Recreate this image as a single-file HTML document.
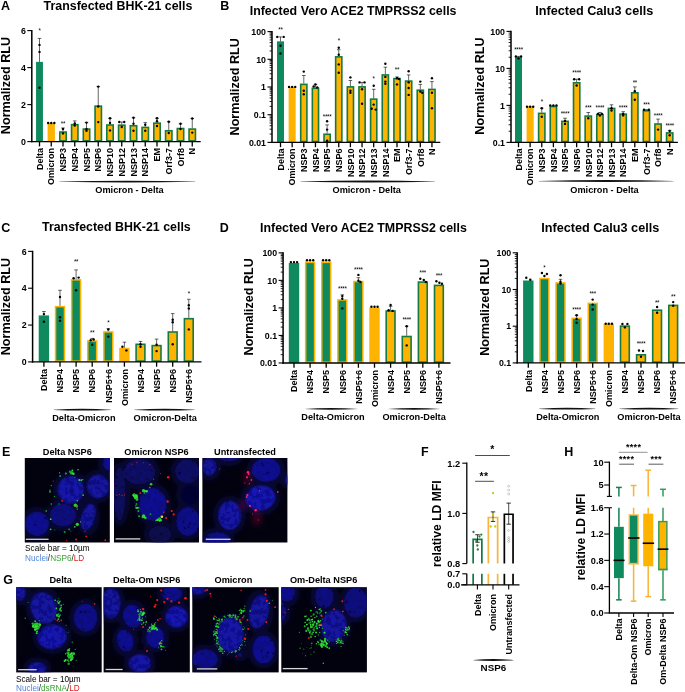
<!DOCTYPE html>
<html><head><meta charset="utf-8"><style>
html,body{margin:0;padding:0;background:#fff;width:685px;height:692px;overflow:hidden}
svg{display:block;font-family:"Liberation Sans",sans-serif;will-change:transform}
</style></head><body>
<svg width="685" height="692" viewBox="0 0 685 692" font-family="Liberation Sans, sans-serif">
<rect width="685" height="692" fill="#fff"/>
<defs><filter id="bl1" x="-20%" y="-20%" width="140%" height="140%"><feGaussianBlur stdDeviation="0.9"/></filter><filter id="nuc" x="-10%" y="-10%" width="120%" height="120%"><feGaussianBlur in="SourceGraphic" stdDeviation="0.9" result="b"/><feTurbulence type="fractalNoise" baseFrequency="0.22" numOctaves="2" seed="4" result="t"/><feColorMatrix in="t" type="matrix" values="1.1 0 0 0 0.22  1.1 0 0 0 0.22  1.1 0 0 0 0.22  0 0 0 0 1" result="m"/><feComposite in="b" in2="m" operator="arithmetic" k1="1" k2="0" k3="0" k4="0"/></filter><filter id="bl05" x="-50%" y="-50%" width="200%" height="200%"><feGaussianBlur stdDeviation="0.45"/></filter><filter id="bl3" x="-50%" y="-50%" width="200%" height="200%"><feGaussianBlur stdDeviation="2.5"/></filter></defs>
<text x="2" y="455.6" font-size="12.5" font-weight="bold" text-anchor="start" fill="#000">E</text>
<clipPath id="c1"><rect x="24.8" y="458" width="85" height="84.5"/></clipPath>
<rect x="24.8" y="458" width="85" height="84.5" fill="#02020e"/>
<g clip-path="url(#c1)"><g transform="translate(24.8,458)">
<g filter="url(#bl3)" opacity="0.55">
<ellipse cx="45.9" cy="31.7" rx="18" ry="18.7" fill="#0a0a50"/>
<ellipse cx="73.2" cy="28.5" rx="16.1" ry="16.7" fill="#0a0a50"/>
<ellipse cx="84" cy="5" rx="11" ry="12" fill="#0a0a50"/>
<ellipse cx="38.2" cy="57.1" rx="18" ry="16.1" fill="#0a0a50"/>
<ellipse cx="63.3" cy="59" rx="11.9" ry="18.6" fill="#0a0a50"/>
<ellipse cx="12.2" cy="65.7" rx="16.8" ry="17" fill="#0a0a50"/>
</g>
<g filter="url(#nuc)">
<ellipse cx="45.9" cy="31.7" rx="13" ry="13.7" fill="rgb(19,19,175)" transform="rotate(0 45.9 31.7)"/>
<ellipse cx="73.2" cy="28.5" rx="11.1" ry="11.7" fill="rgb(18,18,166)" transform="rotate(0 73.2 28.5)"/>
<ellipse cx="84" cy="5" rx="6" ry="7" fill="rgb(17,17,157)" transform="rotate(0 84 5)"/>
<ellipse cx="38.2" cy="57.1" rx="13" ry="11.1" fill="rgb(15,15,138)" transform="rotate(0 38.2 57.1)"/>
<ellipse cx="63.3" cy="59" rx="6.9" ry="13.6" fill="rgb(18,18,166)" transform="rotate(15 63.3 59)"/>
<ellipse cx="12.2" cy="65.7" rx="11.8" ry="12" fill="rgb(17,17,157)" transform="rotate(0 12.2 65.7)"/>
</g>
<g filter="url(#bl05)">
<circle cx="46.8" cy="14.9" r="1.7" fill="#22c42a" fill-opacity="0.92"/>
<circle cx="45.3" cy="13.8" r="1.2" fill="#1aa824" fill-opacity="0.92"/>
<circle cx="48.6" cy="15.8" r="1.3" fill="#2ee830" fill-opacity="0.92"/>
<circle cx="47.5" cy="12.5" r="0.9" fill="#3fe840" fill-opacity="0.92"/>
<circle cx="53.2" cy="11.7" r="0.8" fill="#35d835" fill-opacity="0.92"/>
<circle cx="41.1" cy="15.5" r="1" fill="#22c42a" fill-opacity="0.92"/>
<circle cx="35.4" cy="18" r="1" fill="#1aa824" fill-opacity="0.92"/>
<circle cx="34.8" cy="14.9" r="0.6" fill="#2ee830" fill-opacity="0.92"/>
<circle cx="54.5" cy="21.9" r="1" fill="#3fe840" fill-opacity="0.92"/>
<circle cx="56.5" cy="22.2" r="1" fill="#35d835" fill-opacity="0.92"/>
<circle cx="58" cy="21.6" r="0.7" fill="#22c42a" fill-opacity="0.92"/>
<circle cx="50" cy="19.3" r="0.6" fill="#1aa824" fill-opacity="0.92"/>
<circle cx="58.3" cy="37.1" r="0.9" fill="#2ee830" fill-opacity="0.92"/>
<circle cx="52.5" cy="42.8" r="0.7" fill="#3fe840" fill-opacity="0.92"/>
<circle cx="50.6" cy="47.3" r="1.8" fill="#35d835" fill-opacity="0.92"/>
<circle cx="52" cy="48.3" r="1.2" fill="#22c42a" fill-opacity="0.92"/>
<circle cx="52.5" cy="51.1" r="0.8" fill="#1aa824" fill-opacity="0.92"/>
<circle cx="52.5" cy="66.3" r="1.6" fill="#2ee830" fill-opacity="0.92"/>
<circle cx="55.7" cy="63.8" r="0.6" fill="#3fe840" fill-opacity="0.92"/>
<circle cx="50" cy="68.8" r="0.9" fill="#35d835" fill-opacity="0.92"/>
<circle cx="44.3" cy="71.4" r="0.8" fill="#22c42a" fill-opacity="0.92"/>
<circle cx="39.8" cy="74" r="1" fill="#1aa824" fill-opacity="0.92"/>
<circle cx="25.9" cy="71.4" r="0.8" fill="#2ee830" fill-opacity="0.92"/>
<circle cx="25.9" cy="61.2" r="0.9" fill="#3fe840" fill-opacity="0.92"/>
<circle cx="21.4" cy="53" r="0.8" fill="#35d835" fill-opacity="0.92"/>
<circle cx="26.5" cy="46" r="0.8" fill="#22c42a" fill-opacity="0.92"/>
<circle cx="34.1" cy="46" r="0.7" fill="#1aa824" fill-opacity="0.92"/>
<circle cx="25.2" cy="33.9" r="0.8" fill="#2ee830" fill-opacity="0.92"/>
<circle cx="25.2" cy="32.2" r="0.6" fill="#3fe840" fill-opacity="0.92"/>
<circle cx="29.7" cy="38.4" r="0.5" fill="#35d835" fill-opacity="0.92"/>
<circle cx="46" cy="73" r="0.5" fill="#22c42a" fill-opacity="0.92"/>
<circle cx="30" cy="72" r="0.5" fill="#1aa824" fill-opacity="0.92"/>
<circle cx="37.3" cy="42.8" r="0.9" fill="#f01818"/>
<circle cx="26.5" cy="27.6" r="0.8" fill="#f01818"/>
<circle cx="28.4" cy="23.1" r="0.6" fill="#f01818"/>
<circle cx="51.3" cy="81.5" r="1" fill="#f01818"/>
<circle cx="61.4" cy="78.4" r="0.9" fill="#f01818"/>
<circle cx="80.5" cy="82.2" r="0.9" fill="#f01818"/>
<circle cx="51.9" cy="49.2" r="0.7" fill="#f01818"/>
<circle cx="60.2" cy="73.3" r="0.6" fill="#f01818"/>
<circle cx="41.7" cy="82.2" r="0.5" fill="#f01818"/>
</g>
</g></g>
<line x1="25.8" y1="539.3" x2="48.6" y2="539.3" stroke="#d8d8d8" stroke-width="1.3"/>
<clipPath id="c2"><rect x="114" y="458" width="85" height="84.5"/></clipPath>
<rect x="114" y="458" width="85" height="84.5" fill="#02020e"/>
<g clip-path="url(#c2)"><g transform="translate(114,458)">
<g filter="url(#bl3)" opacity="0.55">
<ellipse cx="25.4" cy="13.9" rx="20.6" ry="17.4" fill="#0a0a50"/>
<ellipse cx="5.6" cy="35.9" rx="10.8" ry="31.7" fill="#0a0a50"/>
<ellipse cx="38.7" cy="46.3" rx="18.6" ry="21.2" fill="#0a0a50"/>
<ellipse cx="73.3" cy="13.3" rx="17" ry="16.8" fill="#0a0a50"/>
<ellipse cx="74" cy="63.5" rx="16.5" ry="19.2" fill="#0a0a50"/>
<ellipse cx="46" cy="76.3" rx="16.4" ry="13.7" fill="#0a0a50"/>
<ellipse cx="76" cy="37" rx="14" ry="15" fill="#0a0a50"/>
</g>
<g filter="url(#nuc)">
<ellipse cx="25.4" cy="13.9" rx="15.6" ry="12.4" fill="rgb(12,12,111)" transform="rotate(0 25.4 13.9)"/>
<ellipse cx="5.6" cy="35.9" rx="5.8" ry="26.7" fill="rgb(11,11,101)" transform="rotate(0 5.6 35.9)"/>
<ellipse cx="38.7" cy="46.3" rx="13.6" ry="16.2" fill="rgb(17,17,157)" transform="rotate(0 38.7 46.3)"/>
<ellipse cx="73.3" cy="13.3" rx="12" ry="11.8" fill="rgb(12,12,111)" transform="rotate(0 73.3 13.3)"/>
<ellipse cx="74" cy="63.5" rx="11.5" ry="14.2" fill="rgb(16,16,148)" transform="rotate(0 74 63.5)"/>
<ellipse cx="46" cy="76.3" rx="11.4" ry="8.7" fill="rgb(9,9,83)" transform="rotate(0 46 76.3)"/>
<ellipse cx="76" cy="37" rx="9" ry="10" fill="rgb(6,6,55)" transform="rotate(0 76 37)"/>
</g>
<g filter="url(#bl05)">
<circle cx="21.9" cy="39" r="2.2" fill="#3fe840" fill-opacity="0.92"/>
<circle cx="20.5" cy="37" r="1.5" fill="#35d835" fill-opacity="0.92"/>
<circle cx="23" cy="41.5" r="1.4" fill="#22c42a" fill-opacity="0.92"/>
<circle cx="20" cy="36.5" r="1.2" fill="#1aa824" fill-opacity="0.92"/>
<circle cx="29.5" cy="32.7" r="1.6" fill="#2ee830" fill-opacity="0.92"/>
<circle cx="32.7" cy="33.3" r="1.2" fill="#3fe840" fill-opacity="0.92"/>
<circle cx="37.1" cy="26.3" r="1.3" fill="#35d835" fill-opacity="0.92"/>
<circle cx="35.8" cy="29.5" r="0.8" fill="#22c42a" fill-opacity="0.92"/>
<circle cx="22.5" cy="46" r="0.9" fill="#1aa824" fill-opacity="0.92"/>
<circle cx="23.8" cy="49.8" r="1.1" fill="#2ee830" fill-opacity="0.92"/>
<circle cx="24.4" cy="53" r="0.8" fill="#3fe840" fill-opacity="0.92"/>
<circle cx="29.5" cy="58" r="1.8" fill="#35d835" fill-opacity="0.92"/>
<circle cx="31.4" cy="60" r="1.3" fill="#22c42a" fill-opacity="0.92"/>
<circle cx="36.5" cy="56.1" r="0.9" fill="#1aa824" fill-opacity="0.92"/>
<circle cx="45.4" cy="61.2" r="1.7" fill="#2ee830" fill-opacity="0.92"/>
<circle cx="43.5" cy="61.9" r="1.2" fill="#3fe840" fill-opacity="0.92"/>
<circle cx="42" cy="62.5" r="0.8" fill="#35d835" fill-opacity="0.92"/>
<circle cx="20.7" cy="40.08" r="0.7" fill="#22c42a" fill-opacity="0.92"/>
<circle cx="23.19" cy="37.51" r="1.01" fill="#1aa824" fill-opacity="0.92"/>
<circle cx="20.11" cy="38.29" r="1.04" fill="#2ee830" fill-opacity="0.92"/>
<circle cx="19.18" cy="37.23" r="1" fill="#3fe840" fill-opacity="0.92"/>
<circle cx="22.36" cy="37" r="0.69" fill="#35d835" fill-opacity="0.92"/>
<circle cx="22.92" cy="41.85" r="0.7" fill="#22c42a" fill-opacity="0.92"/>
<circle cx="20.32" cy="36.47" r="0.64" fill="#1aa824" fill-opacity="0.92"/>
<circle cx="21.58" cy="38.44" r="1.12" fill="#2ee830" fill-opacity="0.92"/>
<circle cx="22.07" cy="37.71" r="1.04" fill="#3fe840" fill-opacity="0.92"/>
<circle cx="21.41" cy="37.87" r="1" fill="#35d835" fill-opacity="0.92"/>
<circle cx="29.74" cy="32.79" r="0.64" fill="#22c42a" fill-opacity="0.92"/>
<circle cx="30.49" cy="34.93" r="0.84" fill="#1aa824" fill-opacity="0.92"/>
<circle cx="30.6" cy="32.68" r="0.71" fill="#2ee830" fill-opacity="0.92"/>
<circle cx="31.24" cy="33.16" r="0.75" fill="#3fe840" fill-opacity="0.92"/>
<circle cx="31.18" cy="33.13" r="0.82" fill="#35d835" fill-opacity="0.92"/>
<circle cx="28.78" cy="32.76" r="0.79" fill="#22c42a" fill-opacity="0.92"/>
<circle cx="25" cy="49.93" r="0.56" fill="#1aa824" fill-opacity="0.92"/>
<circle cx="22.05" cy="49.87" r="0.82" fill="#2ee830" fill-opacity="0.92"/>
<circle cx="22.38" cy="49.85" r="0.51" fill="#3fe840" fill-opacity="0.92"/>
<circle cx="22.62" cy="49.99" r="0.84" fill="#35d835" fill-opacity="0.92"/>
<circle cx="21.89" cy="47.78" r="0.67" fill="#22c42a" fill-opacity="0.92"/>
<circle cx="24.37" cy="53.36" r="0.83" fill="#1aa824" fill-opacity="0.92"/>
<circle cx="28.61" cy="59.32" r="1.03" fill="#2ee830" fill-opacity="0.92"/>
<circle cx="31.07" cy="59.27" r="0.61" fill="#3fe840" fill-opacity="0.92"/>
<circle cx="30.68" cy="58.61" r="0.68" fill="#35d835" fill-opacity="0.92"/>
<circle cx="25.09" cy="58.19" r="0.95" fill="#22c42a" fill-opacity="0.92"/>
<circle cx="29.18" cy="59.35" r="0.95" fill="#1aa824" fill-opacity="0.92"/>
<circle cx="30.18" cy="58.92" r="1.02" fill="#2ee830" fill-opacity="0.92"/>
<circle cx="44.71" cy="62.15" r="0.64" fill="#3fe840" fill-opacity="0.92"/>
<circle cx="44.63" cy="61.33" r="0.61" fill="#35d835" fill-opacity="0.92"/>
<circle cx="44.81" cy="61.49" r="0.76" fill="#22c42a" fill-opacity="0.92"/>
<circle cx="44.98" cy="60.73" r="0.91" fill="#1aa824" fill-opacity="0.92"/>
<circle cx="47.12" cy="62.34" r="0.97" fill="#2ee830" fill-opacity="0.92"/>
<circle cx="45.85" cy="62.88" r="0.96" fill="#3fe840" fill-opacity="0.92"/>
<circle cx="54.2" cy="19.3" r="1.3" fill="#f01818"/>
<circle cx="53.6" cy="43.5" r="1.2" fill="#f01818"/>
<circle cx="57.7" cy="53" r="1.1" fill="#f01818"/>
<circle cx="59.7" cy="56.4" r="1.1" fill="#f01818"/>
<circle cx="52.1" cy="60" r="1" fill="#f01818"/>
<circle cx="49.8" cy="54.2" r="0.8" fill="#f01818"/>
<circle cx="26.3" cy="35.2" r="0.9" fill="#f01818"/>
<circle cx="3" cy="37.1" r="0.6" fill="#f01818"/>
<circle cx="5.5" cy="36.5" r="0.6" fill="#f01818"/>
<circle cx="8" cy="37.4" r="0.6" fill="#f01818"/>
<circle cx="10.5" cy="36.8" r="0.6" fill="#f01818"/>
<circle cx="18" cy="6" r="0.6" fill="#f01818"/>
<circle cx="23" cy="4.7" r="0.6" fill="#f01818"/>
<circle cx="29.5" cy="4.7" r="0.5" fill="#f01818"/>
<circle cx="35.8" cy="6.6" r="0.6" fill="#f01818"/>
<circle cx="39.6" cy="21.2" r="0.6" fill="#f01818"/>
<circle cx="46.6" cy="15.5" r="0.5" fill="#f01818"/>
<circle cx="47.9" cy="58.7" r="1.3" fill="#e8e030"/>
</g>
</g></g>
<line x1="115.5" y1="538.9" x2="140.3" y2="538.9" stroke="#d8d8d8" stroke-width="1.3"/>
<clipPath id="c3"><rect x="202.4" y="458" width="85" height="84.5"/></clipPath>
<rect x="202.4" y="458" width="85" height="84.5" fill="#02020e"/>
<g clip-path="url(#c3)"><g transform="translate(202.4,458)">
<g filter="url(#bl3)" opacity="0.55">
<ellipse cx="7" cy="8.8" rx="11.9" ry="13.8" fill="#0a0a50"/>
<ellipse cx="26.5" cy="0" rx="14" ry="8" fill="#0a0a50"/>
<ellipse cx="63.7" cy="12" rx="19.3" ry="16.8" fill="#0a0a50"/>
<ellipse cx="58" cy="40" rx="20" ry="17.4" fill="#0a0a50"/>
<ellipse cx="27.2" cy="57.4" rx="16.5" ry="19.6" fill="#0a0a50"/>
<ellipse cx="14.8" cy="81.5" rx="17.4" ry="12" fill="#0a0a50"/>
<ellipse cx="85.5" cy="22" rx="7.5" ry="9" fill="#0a0a50"/>
</g>
<g filter="url(#nuc)">
<ellipse cx="7" cy="8.8" rx="6.9" ry="8.8" fill="rgb(18,18,166)" transform="rotate(0 7 8.8)"/>
<ellipse cx="26.5" cy="0" rx="9" ry="3" fill="rgb(16,16,148)" transform="rotate(0 26.5 0)"/>
<ellipse cx="63.7" cy="12" rx="14.3" ry="11.8" fill="rgb(17,17,157)" transform="rotate(0 63.7 12)"/>
<ellipse cx="58" cy="40" rx="15" ry="12.4" fill="rgb(20,20,185)" transform="rotate(-10 58 40)"/>
<ellipse cx="27.2" cy="57.4" rx="11.5" ry="14.6" fill="rgb(19,19,175)" transform="rotate(0 27.2 57.4)"/>
<ellipse cx="14.8" cy="81.5" rx="12.4" ry="7" fill="rgb(17,17,157)" transform="rotate(0 14.8 81.5)"/>
<ellipse cx="85.5" cy="22" rx="2.5" ry="4" fill="rgb(18,18,166)" transform="rotate(0 85.5 22)"/>
</g>
<g filter="url(#bl3)">
<ellipse cx="54.5" cy="60" rx="5" ry="8" fill="rgba(150,10,60,0.32)"/>
<ellipse cx="40.5" cy="47.3" rx="4" ry="5" fill="rgba(150,10,60,0.32)"/>
<ellipse cx="45" cy="20" rx="4" ry="8" fill="rgba(150,10,60,0.32)"/>
</g>
<g filter="url(#bl05)">
<circle cx="45.6" cy="14.2" r="1.3" fill="#f8206a"/>
<circle cx="46.2" cy="16.1" r="1" fill="#f8206a"/>
<circle cx="44.6" cy="19.3" r="1.1" fill="#f8206a"/>
<circle cx="49" cy="21.9" r="0.9" fill="#f8206a"/>
<circle cx="42.4" cy="25" r="0.6" fill="#f8206a"/>
<circle cx="46.9" cy="25.7" r="0.6" fill="#f8206a"/>
<circle cx="45" cy="37.1" r="1.1" fill="#f8206a"/>
<circle cx="44.3" cy="39" r="0.9" fill="#f8206a"/>
<circle cx="57" cy="32.7" r="0.7" fill="#f8206a"/>
<circle cx="47.5" cy="47.9" r="1.1" fill="#f8206a"/>
<circle cx="53.2" cy="52.3" r="1.3" fill="#f8206a"/>
<circle cx="75.4" cy="33.9" r="0.9" fill="#f8206a"/>
<circle cx="17" cy="11" r="0.5" fill="#f8206a"/>
<circle cx="50" cy="56" r="0.5" fill="#f8206a"/>
<circle cx="56" cy="62" r="0.5" fill="#f8206a"/>
</g>
</g></g>
<line x1="205.8" y1="539.3" x2="230.6" y2="539.3" stroke="#d8d8d8" stroke-width="1.3"/>
<text x="67.3" y="455.3" font-size="9.2" font-weight="bold" text-anchor="middle" fill="#000">Delta NSP6</text>
<text x="156.5" y="455.3" font-size="9.2" font-weight="bold" text-anchor="middle" fill="#000">Omicron NSP6</text>
<text x="245" y="455.3" font-size="9.2" font-weight="bold" text-anchor="middle" fill="#000">Untransfected</text>
<text x="25.1" y="551.4" font-size="8.2" font-weight="normal" text-anchor="start" fill="#000">Scale bar = 10µm</text>
<text x="25.1" y="560.6" font-size="8.2" font-weight="normal"><tspan fill="#4f86d9">Nuclei</tspan><tspan fill="#222">/</tspan><tspan fill="#3aa335">NSP6</tspan><tspan fill="#222">/</tspan><tspan fill="#e02020">LD</tspan></text>
<text x="3.2" y="584" font-size="12.5" font-weight="bold" text-anchor="start" fill="#000">G</text>
<clipPath id="c4"><rect x="16.2" y="587.2" width="85.5" height="85.2"/></clipPath>
<rect x="16.2" y="587.2" width="85.5" height="85.2" fill="#02020e"/>
<g clip-path="url(#c4)"><g transform="translate(16.2,587.2)">
<g filter="url(#bl3)" opacity="0.55">
<ellipse cx="3.8" cy="5.4" rx="10.5" ry="13" fill="#0a0a50"/>
<ellipse cx="27.6" cy="20.8" rx="18" ry="21" fill="#0a0a50"/>
<ellipse cx="69.4" cy="30.5" rx="16.5" ry="19" fill="#0a0a50"/>
<ellipse cx="36" cy="49.7" rx="19.5" ry="17" fill="#0a0a50"/>
<ellipse cx="21.2" cy="81" rx="14" ry="11" fill="#0a0a50"/>
</g>
<g filter="url(#nuc)">
<ellipse cx="3.8" cy="5.4" rx="5.5" ry="8" fill="rgb(18,18,166)" transform="rotate(0 3.8 5.4)"/>
<ellipse cx="27.6" cy="20.8" rx="13" ry="16" fill="rgb(18,18,166)" transform="rotate(-20 27.6 20.8)"/>
<ellipse cx="69.4" cy="30.5" rx="11.5" ry="14" fill="rgb(16,16,148)" transform="rotate(0 69.4 30.5)"/>
<ellipse cx="36" cy="49.7" rx="14.5" ry="12" fill="rgb(20,20,185)" transform="rotate(-10 36 49.7)"/>
<ellipse cx="21.2" cy="81" rx="9" ry="6" fill="rgb(18,18,166)" transform="rotate(0 21.2 81)"/>
</g>
<g filter="url(#bl05)">
<circle cx="20.07" cy="41.55" r="0.96" fill="#35d835" fill-opacity="0.92"/>
<circle cx="17.9" cy="36.93" r="0.75" fill="#22c42a" fill-opacity="0.92"/>
<circle cx="23.32" cy="39.15" r="0.88" fill="#1aa824" fill-opacity="0.92"/>
<circle cx="20.48" cy="46.02" r="1.03" fill="#2ee830" fill-opacity="0.92"/>
<circle cx="20.96" cy="36.66" r="1.15" fill="#3fe840" fill-opacity="0.92"/>
<circle cx="21.39" cy="41.33" r="1.31" fill="#35d835" fill-opacity="0.92"/>
<circle cx="16.97" cy="38.27" r="1.17" fill="#22c42a" fill-opacity="0.92"/>
<circle cx="22.69" cy="40.25" r="1.11" fill="#1aa824" fill-opacity="0.92"/>
<circle cx="19.76" cy="39.32" r="1.31" fill="#2ee830" fill-opacity="0.92"/>
<circle cx="17.07" cy="39.4" r="1.32" fill="#3fe840" fill-opacity="0.92"/>
<circle cx="18.99" cy="33.97" r="0.98" fill="#35d835" fill-opacity="0.92"/>
<circle cx="20.51" cy="36.54" r="1.35" fill="#22c42a" fill-opacity="0.92"/>
<circle cx="20.49" cy="38.11" r="0.8" fill="#1aa824" fill-opacity="0.92"/>
<circle cx="20.86" cy="44.39" r="1.01" fill="#2ee830" fill-opacity="0.92"/>
<circle cx="18.83" cy="37.47" r="1.06" fill="#3fe840" fill-opacity="0.92"/>
<circle cx="18.64" cy="40.14" r="1.11" fill="#35d835" fill-opacity="0.92"/>
<circle cx="16.54" cy="36.39" r="1.18" fill="#22c42a" fill-opacity="0.92"/>
<circle cx="23.1" cy="36.93" r="1.39" fill="#1aa824" fill-opacity="0.92"/>
<circle cx="19.39" cy="37.64" r="1.3" fill="#2ee830" fill-opacity="0.92"/>
<circle cx="23.71" cy="37.75" r="1.1" fill="#3fe840" fill-opacity="0.92"/>
<circle cx="19.62" cy="37.32" r="1.28" fill="#35d835" fill-opacity="0.92"/>
<circle cx="18.58" cy="38" r="0.74" fill="#22c42a" fill-opacity="0.92"/>
<circle cx="23.21" cy="33.51" r="0.76" fill="#1aa824" fill-opacity="0.92"/>
<circle cx="20.48" cy="36.65" r="0.81" fill="#2ee830" fill-opacity="0.92"/>
<circle cx="19.06" cy="42.42" r="1.31" fill="#3fe840" fill-opacity="0.92"/>
<circle cx="22.29" cy="39.63" r="0.73" fill="#35d835" fill-opacity="0.92"/>
<circle cx="19.58" cy="36.87" r="1.32" fill="#22c42a" fill-opacity="0.92"/>
<circle cx="22.02" cy="38.48" r="1.4" fill="#1aa824" fill-opacity="0.92"/>
<circle cx="19.64" cy="39.62" r="1.12" fill="#2ee830" fill-opacity="0.92"/>
<circle cx="21.07" cy="39.09" r="0.99" fill="#3fe840" fill-opacity="0.92"/>
<circle cx="53.99" cy="70.39" r="0.98" fill="#35d835" fill-opacity="0.92"/>
<circle cx="54.36" cy="69.92" r="0.98" fill="#22c42a" fill-opacity="0.92"/>
<circle cx="57.34" cy="66.34" r="1.24" fill="#1aa824" fill-opacity="0.92"/>
<circle cx="54.38" cy="72.66" r="0.89" fill="#2ee830" fill-opacity="0.92"/>
<circle cx="54.39" cy="70.26" r="0.85" fill="#3fe840" fill-opacity="0.92"/>
<circle cx="57.61" cy="66.52" r="1.26" fill="#35d835" fill-opacity="0.92"/>
<circle cx="54.35" cy="67.13" r="0.92" fill="#22c42a" fill-opacity="0.92"/>
<circle cx="51.41" cy="65.52" r="1.3" fill="#1aa824" fill-opacity="0.92"/>
<circle cx="54.58" cy="68.13" r="1.12" fill="#2ee830" fill-opacity="0.92"/>
<circle cx="52.67" cy="65.86" r="0.82" fill="#3fe840" fill-opacity="0.92"/>
<circle cx="52.96" cy="69.21" r="1.35" fill="#35d835" fill-opacity="0.92"/>
<circle cx="55.74" cy="66.17" r="0.91" fill="#22c42a" fill-opacity="0.92"/>
<circle cx="56.31" cy="66.88" r="1.32" fill="#1aa824" fill-opacity="0.92"/>
<circle cx="55.41" cy="66.08" r="0.99" fill="#2ee830" fill-opacity="0.92"/>
<circle cx="52" cy="67.14" r="0.81" fill="#3fe840" fill-opacity="0.92"/>
<circle cx="52.53" cy="74.16" r="0.73" fill="#35d835" fill-opacity="0.92"/>
<circle cx="56.86" cy="70.21" r="0.9" fill="#22c42a" fill-opacity="0.92"/>
<circle cx="51.47" cy="68.27" r="0.94" fill="#1aa824" fill-opacity="0.92"/>
<circle cx="55.35" cy="68.97" r="0.99" fill="#2ee830" fill-opacity="0.92"/>
<circle cx="54.81" cy="73.06" r="0.89" fill="#3fe840" fill-opacity="0.92"/>
<circle cx="51.65" cy="72.91" r="0.92" fill="#35d835" fill-opacity="0.92"/>
<circle cx="49.45" cy="66.66" r="0.77" fill="#22c42a" fill-opacity="0.92"/>
<circle cx="55.37" cy="69.82" r="1.24" fill="#1aa824" fill-opacity="0.92"/>
<circle cx="52.69" cy="67.53" r="0.93" fill="#2ee830" fill-opacity="0.92"/>
<circle cx="54.97" cy="71.99" r="0.73" fill="#3fe840" fill-opacity="0.92"/>
<circle cx="52.38" cy="62.96" r="1.37" fill="#35d835" fill-opacity="0.92"/>
<circle cx="53.37" cy="61.43" r="0.71" fill="#22c42a" fill-opacity="0.92"/>
<circle cx="52.51" cy="76.57" r="1.24" fill="#1aa824" fill-opacity="0.92"/>
<circle cx="49.44" cy="72.84" r="1.13" fill="#2ee830" fill-opacity="0.92"/>
<circle cx="54.66" cy="66.72" r="0.83" fill="#3fe840" fill-opacity="0.92"/>
<circle cx="52.78" cy="69.56" r="0.97" fill="#35d835" fill-opacity="0.92"/>
<circle cx="55.82" cy="68.36" r="0.71" fill="#22c42a" fill-opacity="0.92"/>
<circle cx="55.19" cy="69.51" r="1.25" fill="#1aa824" fill-opacity="0.92"/>
<circle cx="52.71" cy="70.89" r="0.77" fill="#2ee830" fill-opacity="0.92"/>
<circle cx="56.2" cy="68.64" r="0.85" fill="#3fe840" fill-opacity="0.92"/>
<circle cx="54.59" cy="69.37" r="0.82" fill="#35d835" fill-opacity="0.92"/>
<circle cx="53.34" cy="67.47" r="0.73" fill="#22c42a" fill-opacity="0.92"/>
<circle cx="52.24" cy="69.13" r="1.4" fill="#1aa824" fill-opacity="0.92"/>
<circle cx="55.84" cy="71.56" r="1.24" fill="#2ee830" fill-opacity="0.92"/>
<circle cx="48.41" cy="73.8" r="1.03" fill="#3fe840" fill-opacity="0.92"/>
<circle cx="43.58" cy="14.58" r="0.6" fill="#35d835" fill-opacity="0.92"/>
<circle cx="42.45" cy="13.5" r="0.46" fill="#22c42a" fill-opacity="0.92"/>
<circle cx="43.11" cy="17.85" r="0.47" fill="#1aa824" fill-opacity="0.92"/>
<circle cx="42.66" cy="11.56" r="0.47" fill="#2ee830" fill-opacity="0.92"/>
<circle cx="41.1" cy="14.02" r="0.61" fill="#3fe840" fill-opacity="0.92"/>
<circle cx="43.51" cy="14.48" r="0.41" fill="#35d835" fill-opacity="0.92"/>
<circle cx="44.31" cy="13.75" r="0.5" fill="#22c42a" fill-opacity="0.92"/>
<circle cx="42.06" cy="16.17" r="0.88" fill="#1aa824" fill-opacity="0.92"/>
<circle cx="43.08" cy="15.86" r="0.69" fill="#2ee830" fill-opacity="0.92"/>
<circle cx="39.01" cy="13.05" r="0.82" fill="#3fe840" fill-opacity="0.92"/>
<circle cx="42.14" cy="15.56" r="0.82" fill="#35d835" fill-opacity="0.92"/>
<circle cx="43.2" cy="14.47" r="0.77" fill="#22c42a" fill-opacity="0.92"/>
<circle cx="44.36" cy="22.78" r="0.55" fill="#1aa824" fill-opacity="0.92"/>
<circle cx="44.83" cy="20.35" r="0.76" fill="#2ee830" fill-opacity="0.92"/>
<circle cx="44.85" cy="23.69" r="0.82" fill="#3fe840" fill-opacity="0.92"/>
<circle cx="40.17" cy="21.18" r="0.84" fill="#35d835" fill-opacity="0.92"/>
<circle cx="43.46" cy="22.07" r="0.78" fill="#22c42a" fill-opacity="0.92"/>
<circle cx="43.63" cy="22.24" r="0.77" fill="#1aa824" fill-opacity="0.92"/>
<circle cx="44.97" cy="18.19" r="0.88" fill="#2ee830" fill-opacity="0.92"/>
<circle cx="43.67" cy="22.94" r="0.46" fill="#3fe840" fill-opacity="0.92"/>
<circle cx="44.18" cy="21.84" r="0.48" fill="#35d835" fill-opacity="0.92"/>
<circle cx="43.94" cy="22.1" r="0.42" fill="#22c42a" fill-opacity="0.92"/>
<circle cx="43" cy="23.14" r="0.55" fill="#1aa824" fill-opacity="0.92"/>
<circle cx="44.26" cy="21.37" r="0.81" fill="#2ee830" fill-opacity="0.92"/>
<circle cx="40.45" cy="27.79" r="0.81" fill="#3fe840" fill-opacity="0.92"/>
<circle cx="42.1" cy="31.86" r="0.85" fill="#35d835" fill-opacity="0.92"/>
<circle cx="43.36" cy="28.3" r="0.73" fill="#22c42a" fill-opacity="0.92"/>
<circle cx="41.1" cy="27.41" r="0.88" fill="#1aa824" fill-opacity="0.92"/>
<circle cx="40.79" cy="28.62" r="0.87" fill="#2ee830" fill-opacity="0.92"/>
<circle cx="41.61" cy="27.73" r="0.55" fill="#3fe840" fill-opacity="0.92"/>
<circle cx="41.97" cy="29.02" r="0.7" fill="#35d835" fill-opacity="0.92"/>
<circle cx="42.35" cy="26.9" r="0.82" fill="#22c42a" fill-opacity="0.92"/>
<circle cx="44.33" cy="27.89" r="0.74" fill="#1aa824" fill-opacity="0.92"/>
<circle cx="42.9" cy="29.46" r="0.89" fill="#2ee830" fill-opacity="0.92"/>
<circle cx="45" cy="33" r="0.6" fill="#3fe840" fill-opacity="0.92"/>
<circle cx="47" cy="17" r="0.5" fill="#35d835" fill-opacity="0.92"/>
<circle cx="50" cy="38" r="0.5" fill="#22c42a" fill-opacity="0.92"/>
<circle cx="52" cy="45" r="0.5" fill="#1aa824" fill-opacity="0.92"/>
<circle cx="56" cy="55" r="0.6" fill="#2ee830" fill-opacity="0.92"/>
<circle cx="59" cy="62" r="0.5" fill="#3fe840" fill-opacity="0.92"/>
<circle cx="9" cy="31" r="0.6" fill="#35d835" fill-opacity="0.92"/>
<circle cx="12" cy="15" r="0.5" fill="#22c42a" fill-opacity="0.92"/>
<circle cx="48" cy="48" r="0.4" fill="#1aa824" fill-opacity="0.92"/>
<circle cx="60" cy="73" r="0.5" fill="#2ee830" fill-opacity="0.92"/>
<circle cx="57" cy="79" r="0.4" fill="#3fe840" fill-opacity="0.92"/>
<circle cx="41.1" cy="33.4" r="0.8" fill="#f01818"/>
<circle cx="43" cy="34" r="0.7" fill="#f01818"/>
<circle cx="45" cy="33.5" r="0.6" fill="#f01818"/>
<circle cx="39" cy="32" r="0.6" fill="#f01818"/>
<circle cx="78.4" cy="16.7" r="0.8" fill="#f01818"/>
<circle cx="66" cy="14" r="0.5" fill="#f01818"/>
</g>
</g></g>
<line x1="18.1" y1="669.7" x2="36.7" y2="669.7" stroke="#d8d8d8" stroke-width="1.3"/>
<clipPath id="c5"><rect x="103.6" y="587.2" width="86.2" height="85.2"/></clipPath>
<rect x="103.6" y="587.2" width="86.2" height="85.2" fill="#02020e"/>
<g clip-path="url(#c5)"><g transform="translate(103.6,587.2)">
<g filter="url(#bl3)" opacity="0.55">
<ellipse cx="7.4" cy="16.1" rx="14.5" ry="20" fill="#0a0a50"/>
<ellipse cx="68.4" cy="6.5" rx="15" ry="12.5" fill="#0a0a50"/>
<ellipse cx="72.9" cy="29.6" rx="16" ry="15.5" fill="#0a0a50"/>
<ellipse cx="29.2" cy="29" rx="14.5" ry="16.5" fill="#0a0a50"/>
<ellipse cx="51.7" cy="50.2" rx="14" ry="15.5" fill="#0a0a50"/>
<ellipse cx="21.5" cy="53.4" rx="13" ry="16" fill="#0a0a50"/>
<ellipse cx="36.3" cy="76" rx="16" ry="14" fill="#0a0a50"/>
</g>
<g filter="url(#nuc)">
<ellipse cx="7.4" cy="16.1" rx="9.5" ry="15" fill="rgb(18,18,166)" transform="rotate(0 7.4 16.1)"/>
<ellipse cx="68.4" cy="6.5" rx="10" ry="7.5" fill="rgb(16,16,148)" transform="rotate(0 68.4 6.5)"/>
<ellipse cx="72.9" cy="29.6" rx="11" ry="10.5" fill="rgb(20,20,185)" transform="rotate(0 72.9 29.6)"/>
<ellipse cx="29.2" cy="29" rx="9.5" ry="11.5" fill="rgb(17,17,157)" transform="rotate(-15 29.2 29)"/>
<ellipse cx="51.7" cy="50.2" rx="9" ry="10.5" fill="rgb(17,17,157)" transform="rotate(0 51.7 50.2)"/>
<ellipse cx="21.5" cy="53.4" rx="8" ry="11" fill="rgb(17,17,157)" transform="rotate(-15 21.5 53.4)"/>
<ellipse cx="36.3" cy="76" rx="11" ry="9" fill="rgb(19,19,175)" transform="rotate(0 36.3 76)"/>
</g>
<g filter="url(#bl05)">
<circle cx="34.54" cy="24.01" r="1.06" fill="#2ee830" fill-opacity="0.92"/>
<circle cx="39.97" cy="25.49" r="1.15" fill="#3fe840" fill-opacity="0.92"/>
<circle cx="39.1" cy="27.53" r="1.16" fill="#35d835" fill-opacity="0.92"/>
<circle cx="34.35" cy="22.5" r="0.58" fill="#22c42a" fill-opacity="0.92"/>
<circle cx="35.42" cy="27.38" r="0.88" fill="#1aa824" fill-opacity="0.92"/>
<circle cx="36.61" cy="26.81" r="0.65" fill="#2ee830" fill-opacity="0.92"/>
<circle cx="36.08" cy="32.69" r="1.04" fill="#3fe840" fill-opacity="0.92"/>
<circle cx="38.82" cy="30.91" r="0.6" fill="#35d835" fill-opacity="0.92"/>
<circle cx="36.13" cy="26.09" r="0.5" fill="#22c42a" fill-opacity="0.92"/>
<circle cx="37.85" cy="25.71" r="0.65" fill="#1aa824" fill-opacity="0.92"/>
<circle cx="40.93" cy="26.42" r="0.7" fill="#2ee830" fill-opacity="0.92"/>
<circle cx="39.32" cy="26.22" r="0.97" fill="#3fe840" fill-opacity="0.92"/>
<circle cx="38.23" cy="32.94" r="0.98" fill="#35d835" fill-opacity="0.92"/>
<circle cx="41.04" cy="25.85" r="0.71" fill="#22c42a" fill-opacity="0.92"/>
<circle cx="36.13" cy="28.2" r="0.6" fill="#1aa824" fill-opacity="0.92"/>
<circle cx="38.45" cy="27.88" r="0.92" fill="#2ee830" fill-opacity="0.92"/>
<circle cx="39.91" cy="27.08" r="0.74" fill="#3fe840" fill-opacity="0.92"/>
<circle cx="35.54" cy="31.47" r="0.84" fill="#35d835" fill-opacity="0.92"/>
<circle cx="35.98" cy="29.73" r="0.99" fill="#22c42a" fill-opacity="0.92"/>
<circle cx="41.99" cy="29.48" r="0.52" fill="#1aa824" fill-opacity="0.92"/>
<circle cx="36.9" cy="21.98" r="0.51" fill="#2ee830" fill-opacity="0.92"/>
<circle cx="37.35" cy="24.59" r="0.9" fill="#3fe840" fill-opacity="0.92"/>
<circle cx="51.05" cy="36.92" r="0.84" fill="#35d835" fill-opacity="0.92"/>
<circle cx="49.79" cy="40.56" r="0.96" fill="#22c42a" fill-opacity="0.92"/>
<circle cx="45.65" cy="41.13" r="0.76" fill="#1aa824" fill-opacity="0.92"/>
<circle cx="50.05" cy="38.92" r="1.06" fill="#2ee830" fill-opacity="0.92"/>
<circle cx="49.47" cy="38.45" r="0.88" fill="#3fe840" fill-opacity="0.92"/>
<circle cx="49.12" cy="39.31" r="0.89" fill="#35d835" fill-opacity="0.92"/>
<circle cx="50.47" cy="39.02" r="1.06" fill="#22c42a" fill-opacity="0.92"/>
<circle cx="47.9" cy="36.95" r="0.73" fill="#1aa824" fill-opacity="0.92"/>
<circle cx="53.54" cy="42.48" r="1.06" fill="#2ee830" fill-opacity="0.92"/>
<circle cx="48.76" cy="40.8" r="0.64" fill="#3fe840" fill-opacity="0.92"/>
<circle cx="48.43" cy="39.26" r="1.17" fill="#35d835" fill-opacity="0.92"/>
<circle cx="48.38" cy="39.79" r="0.96" fill="#22c42a" fill-opacity="0.92"/>
<circle cx="46.09" cy="44.07" r="1.14" fill="#1aa824" fill-opacity="0.92"/>
<circle cx="46.22" cy="40.24" r="0.99" fill="#2ee830" fill-opacity="0.92"/>
<circle cx="52.14" cy="35.36" r="0.52" fill="#3fe840" fill-opacity="0.92"/>
<circle cx="47.62" cy="42.58" r="0.71" fill="#35d835" fill-opacity="0.92"/>
<circle cx="48.88" cy="40.04" r="1.12" fill="#22c42a" fill-opacity="0.92"/>
<circle cx="48.57" cy="40.34" r="0.96" fill="#1aa824" fill-opacity="0.92"/>
<circle cx="49.17" cy="41.72" r="0.84" fill="#2ee830" fill-opacity="0.92"/>
<circle cx="50.91" cy="41.55" r="1.11" fill="#3fe840" fill-opacity="0.92"/>
<circle cx="49.67" cy="40.2" r="1.04" fill="#35d835" fill-opacity="0.92"/>
<circle cx="52.04" cy="40.69" r="1.13" fill="#22c42a" fill-opacity="0.92"/>
<circle cx="48.24" cy="39.33" r="0.76" fill="#1aa824" fill-opacity="0.92"/>
<circle cx="48.8" cy="41.17" r="1.2" fill="#2ee830" fill-opacity="0.92"/>
<circle cx="52.27" cy="41.2" r="1.02" fill="#3fe840" fill-opacity="0.92"/>
<circle cx="44.17" cy="43.87" r="0.67" fill="#35d835" fill-opacity="0.92"/>
<circle cx="57.12" cy="59.53" r="0.83" fill="#22c42a" fill-opacity="0.92"/>
<circle cx="59.17" cy="59.63" r="0.68" fill="#1aa824" fill-opacity="0.92"/>
<circle cx="59.17" cy="59.27" r="0.52" fill="#2ee830" fill-opacity="0.92"/>
<circle cx="56.98" cy="58.46" r="0.55" fill="#3fe840" fill-opacity="0.92"/>
<circle cx="55" cy="60.57" r="0.56" fill="#35d835" fill-opacity="0.92"/>
<circle cx="57.85" cy="62.16" r="0.97" fill="#22c42a" fill-opacity="0.92"/>
<circle cx="56.17" cy="56.6" r="0.99" fill="#1aa824" fill-opacity="0.92"/>
<circle cx="60.34" cy="59.71" r="0.64" fill="#2ee830" fill-opacity="0.92"/>
<circle cx="57.96" cy="59.18" r="0.65" fill="#3fe840" fill-opacity="0.92"/>
<circle cx="57.88" cy="56.27" r="0.79" fill="#35d835" fill-opacity="0.92"/>
<circle cx="56.57" cy="55.78" r="0.77" fill="#22c42a" fill-opacity="0.92"/>
<circle cx="57.99" cy="58.4" r="0.6" fill="#1aa824" fill-opacity="0.92"/>
<circle cx="56.83" cy="55.13" r="0.66" fill="#2ee830" fill-opacity="0.92"/>
<circle cx="56.08" cy="56.31" r="0.65" fill="#3fe840" fill-opacity="0.92"/>
<circle cx="58.14" cy="53.53" r="0.62" fill="#35d835" fill-opacity="0.92"/>
<circle cx="55.87" cy="56.35" r="0.94" fill="#22c42a" fill-opacity="0.92"/>
<circle cx="39.07" cy="36.87" r="0.4" fill="#1aa824" fill-opacity="0.92"/>
<circle cx="42.77" cy="34.7" r="0.8" fill="#2ee830" fill-opacity="0.92"/>
<circle cx="39.92" cy="36" r="0.42" fill="#3fe840" fill-opacity="0.92"/>
<circle cx="40.11" cy="35.31" r="0.68" fill="#35d835" fill-opacity="0.92"/>
<circle cx="38.17" cy="37.06" r="0.7" fill="#22c42a" fill-opacity="0.92"/>
<circle cx="39.47" cy="35.74" r="0.54" fill="#1aa824" fill-opacity="0.92"/>
<circle cx="42.13" cy="35.41" r="0.48" fill="#2ee830" fill-opacity="0.92"/>
<circle cx="41.87" cy="37.53" r="0.57" fill="#3fe840" fill-opacity="0.92"/>
<circle cx="44.6" cy="42.5" r="0.8" fill="#35d835" fill-opacity="0.92"/>
<circle cx="34" cy="33" r="0.6" fill="#22c42a" fill-opacity="0.92"/>
<circle cx="62" cy="63" r="0.5" fill="#1aa824" fill-opacity="0.92"/>
<circle cx="30" cy="42" r="0.4" fill="#2ee830" fill-opacity="0.92"/>
<circle cx="39.5" cy="21.9" r="1.2" fill="#f01818"/>
<circle cx="51.1" cy="19.4" r="1.2" fill="#f01818"/>
<circle cx="52" cy="17.5" r="1" fill="#f01818"/>
<circle cx="53.6" cy="12.9" r="1.1" fill="#f01818"/>
<circle cx="60.7" cy="14.9" r="1.1" fill="#f01818"/>
<circle cx="63.9" cy="11.6" r="1.1" fill="#f01818"/>
<circle cx="67.8" cy="14.2" r="1.1" fill="#f01818"/>
<circle cx="75.5" cy="15.5" r="1.1" fill="#f01818"/>
<circle cx="81.9" cy="11" r="1.3" fill="#f01818"/>
<circle cx="57.5" cy="3.3" r="1" fill="#f01818"/>
<circle cx="54.3" cy="32.8" r="1" fill="#f01818"/>
<circle cx="56.5" cy="31.5" r="0.8" fill="#f01818"/>
<circle cx="39.5" cy="39.9" r="1" fill="#f01818"/>
<circle cx="43.4" cy="63.7" r="1" fill="#f01818"/>
<circle cx="57" cy="54.5" r="0.7" fill="#f01818"/>
<circle cx="47" cy="9" r="0.5" fill="#f01818"/>
</g>
</g></g>
<line x1="105.6" y1="669.5" x2="122.6" y2="669.5" stroke="#d8d8d8" stroke-width="1.3"/>
<clipPath id="c6"><rect x="192.3" y="587.2" width="86.4" height="85.2"/></clipPath>
<rect x="192.3" y="587.2" width="86.4" height="85.2" fill="#02020e"/>
<g clip-path="url(#c6)"><g transform="translate(192.3,587.2)">
<g filter="url(#bl3)" opacity="0.55">
<ellipse cx="5.1" cy="2.7" rx="13" ry="9.5" fill="#0a0a50"/>
<ellipse cx="37.9" cy="47.6" rx="18" ry="22" fill="#0a0a50"/>
<ellipse cx="66.8" cy="24.5" rx="14.5" ry="22" fill="#0a0a50"/>
<ellipse cx="71.3" cy="62.4" rx="16" ry="19" fill="#0a0a50"/>
<ellipse cx="12.8" cy="72" rx="17.5" ry="15" fill="#0a0a50"/>
<ellipse cx="47.5" cy="67.5" rx="7" ry="7" fill="#0a0a50"/>
</g>
<g filter="url(#nuc)">
<ellipse cx="5.1" cy="2.7" rx="8" ry="4.5" fill="rgb(18,18,166)" transform="rotate(0 5.1 2.7)"/>
<ellipse cx="37.9" cy="47.6" rx="13" ry="17" fill="rgb(19,19,175)" transform="rotate(0 37.9 47.6)"/>
<ellipse cx="66.8" cy="24.5" rx="9.5" ry="17" fill="rgb(18,18,166)" transform="rotate(12 66.8 24.5)"/>
<ellipse cx="71.3" cy="62.4" rx="11" ry="14" fill="rgb(17,17,157)" transform="rotate(0 71.3 62.4)"/>
<ellipse cx="12.8" cy="72" rx="12.5" ry="10" fill="rgb(16,16,148)" transform="rotate(0 12.8 72)"/>
<ellipse cx="47.5" cy="67.5" rx="2" ry="2" fill="rgb(16,16,148)" transform="rotate(0 47.5 67.5)"/>
</g>
<g filter="url(#bl05)">
<circle cx="23.06" cy="56.95" r="0.41" fill="#22c42a" fill-opacity="0.92"/>
<circle cx="32.12" cy="32.21" r="0.47" fill="#1aa824" fill-opacity="0.92"/>
<circle cx="44.68" cy="32.3" r="0.67" fill="#2ee830" fill-opacity="0.92"/>
<circle cx="23.94" cy="42.09" r="0.6" fill="#3fe840" fill-opacity="0.92"/>
<circle cx="24.45" cy="58.7" r="0.39" fill="#35d835" fill-opacity="0.92"/>
<circle cx="26.28" cy="54.87" r="0.48" fill="#22c42a" fill-opacity="0.92"/>
<circle cx="21.63" cy="44.95" r="0.54" fill="#1aa824" fill-opacity="0.92"/>
<circle cx="28.71" cy="60.93" r="0.85" fill="#2ee830" fill-opacity="0.92"/>
<circle cx="29.81" cy="63.95" r="0.54" fill="#3fe840" fill-opacity="0.92"/>
<circle cx="29.9" cy="32.63" r="0.7" fill="#35d835" fill-opacity="0.92"/>
<circle cx="23.89" cy="39.54" r="0.8" fill="#22c42a" fill-opacity="0.92"/>
<circle cx="27.73" cy="36.32" r="0.38" fill="#1aa824" fill-opacity="0.92"/>
<circle cx="42.89" cy="29.95" r="0.45" fill="#2ee830" fill-opacity="0.92"/>
<circle cx="43.01" cy="29.61" r="0.71" fill="#3fe840" fill-opacity="0.92"/>
<circle cx="39.69" cy="29.81" r="0.53" fill="#35d835" fill-opacity="0.92"/>
<circle cx="39.49" cy="30.38" r="0.73" fill="#22c42a" fill-opacity="0.92"/>
<circle cx="28.2" cy="62.9" r="0.7" fill="#1aa824" fill-opacity="0.92"/>
<circle cx="43.56" cy="28.7" r="0.6" fill="#2ee830" fill-opacity="0.92"/>
<circle cx="26.59" cy="56.94" r="0.61" fill="#3fe840" fill-opacity="0.92"/>
<circle cx="26.23" cy="39.88" r="0.8" fill="#35d835" fill-opacity="0.92"/>
<circle cx="23.92" cy="38.88" r="0.46" fill="#22c42a" fill-opacity="0.92"/>
<circle cx="26.13" cy="54.36" r="0.52" fill="#1aa824" fill-opacity="0.92"/>
<circle cx="24.22" cy="53.71" r="0.54" fill="#2ee830" fill-opacity="0.92"/>
<circle cx="37.48" cy="27.24" r="0.44" fill="#3fe840" fill-opacity="0.92"/>
<circle cx="24.49" cy="45.99" r="0.68" fill="#35d835" fill-opacity="0.92"/>
<circle cx="43.7" cy="31.67" r="0.73" fill="#22c42a" fill-opacity="0.92"/>
<circle cx="25.38" cy="51.39" r="0.73" fill="#1aa824" fill-opacity="0.92"/>
<circle cx="24.47" cy="49.14" r="0.57" fill="#2ee830" fill-opacity="0.92"/>
<circle cx="24.92" cy="55.68" r="0.57" fill="#3fe840" fill-opacity="0.92"/>
<circle cx="22.95" cy="44.47" r="0.49" fill="#35d835" fill-opacity="0.92"/>
<circle cx="29.8" cy="61.09" r="0.4" fill="#22c42a" fill-opacity="0.92"/>
<circle cx="25.44" cy="38.76" r="0.75" fill="#1aa824" fill-opacity="0.92"/>
<circle cx="23.84" cy="39.01" r="0.84" fill="#2ee830" fill-opacity="0.92"/>
<circle cx="31.09" cy="61.91" r="0.42" fill="#3fe840" fill-opacity="0.92"/>
<circle cx="22.83" cy="46.47" r="0.72" fill="#35d835" fill-opacity="0.92"/>
<circle cx="21.27" cy="48.76" r="0.35" fill="#22c42a" fill-opacity="0.92"/>
<circle cx="37.61" cy="29.96" r="0.79" fill="#1aa824" fill-opacity="0.92"/>
<circle cx="30.52" cy="66.12" r="0.73" fill="#2ee830" fill-opacity="0.92"/>
<circle cx="45.04" cy="30.75" r="0.44" fill="#3fe840" fill-opacity="0.92"/>
<circle cx="43.89" cy="30.68" r="0.39" fill="#35d835" fill-opacity="0.92"/>
<circle cx="27.45" cy="34.31" r="0.59" fill="#22c42a" fill-opacity="0.92"/>
<circle cx="27.82" cy="58.86" r="0.64" fill="#1aa824" fill-opacity="0.92"/>
<circle cx="25.11" cy="42.83" r="0.57" fill="#2ee830" fill-opacity="0.92"/>
<circle cx="31.99" cy="29.39" r="0.59" fill="#3fe840" fill-opacity="0.92"/>
<circle cx="23.71" cy="46.07" r="0.46" fill="#35d835" fill-opacity="0.92"/>
<circle cx="25.6" cy="57.58" r="0.4" fill="#22c42a" fill-opacity="0.92"/>
<circle cx="31.99" cy="29.43" r="0.66" fill="#1aa824" fill-opacity="0.92"/>
<circle cx="32.03" cy="64.24" r="0.57" fill="#2ee830" fill-opacity="0.92"/>
<circle cx="27.7" cy="63.95" r="0.73" fill="#3fe840" fill-opacity="0.92"/>
<circle cx="23.8" cy="39.16" r="0.45" fill="#35d835" fill-opacity="0.92"/>
<circle cx="24.55" cy="56.01" r="0.72" fill="#22c42a" fill-opacity="0.92"/>
<circle cx="30.18" cy="34.16" r="0.66" fill="#1aa824" fill-opacity="0.92"/>
<circle cx="41.36" cy="28.31" r="0.81" fill="#2ee830" fill-opacity="0.92"/>
<circle cx="44.02" cy="31.77" r="0.5" fill="#3fe840" fill-opacity="0.92"/>
<circle cx="24.05" cy="36.02" r="0.53" fill="#35d835" fill-opacity="0.92"/>
<circle cx="43.14" cy="28.48" r="0.61" fill="#22c42a" fill-opacity="0.92"/>
<circle cx="26.94" cy="32.09" r="0.74" fill="#1aa824" fill-opacity="0.92"/>
<circle cx="22.18" cy="52.41" r="0.45" fill="#2ee830" fill-opacity="0.92"/>
<circle cx="21.27" cy="47.49" r="0.77" fill="#3fe840" fill-opacity="0.92"/>
<circle cx="24.18" cy="50.94" r="0.66" fill="#35d835" fill-opacity="0.92"/>
<circle cx="37.93" cy="28.06" r="0.82" fill="#22c42a" fill-opacity="0.92"/>
<circle cx="31.96" cy="28.94" r="0.65" fill="#1aa824" fill-opacity="0.92"/>
<circle cx="23.39" cy="47.98" r="0.59" fill="#2ee830" fill-opacity="0.92"/>
<circle cx="23.98" cy="37.37" r="0.48" fill="#3fe840" fill-opacity="0.92"/>
<circle cx="29.32" cy="64.14" r="0.49" fill="#35d835" fill-opacity="0.92"/>
<circle cx="24.82" cy="44.68" r="0.76" fill="#22c42a" fill-opacity="0.92"/>
<circle cx="24.61" cy="53.14" r="0.75" fill="#1aa824" fill-opacity="0.92"/>
<circle cx="25.38" cy="39.8" r="0.79" fill="#2ee830" fill-opacity="0.92"/>
<circle cx="23.8" cy="44.98" r="0.83" fill="#3fe840" fill-opacity="0.92"/>
<circle cx="35.19" cy="28.1" r="0.47" fill="#35d835" fill-opacity="0.92"/>
<circle cx="36.45" cy="28.5" r="0.76" fill="#22c42a" fill-opacity="0.92"/>
<circle cx="21.98" cy="47.63" r="0.75" fill="#1aa824" fill-opacity="0.92"/>
<circle cx="22.51" cy="46.34" r="0.74" fill="#2ee830" fill-opacity="0.92"/>
<circle cx="45.81" cy="29.63" r="0.74" fill="#3fe840" fill-opacity="0.92"/>
<circle cx="26.94" cy="60.97" r="0.69" fill="#35d835" fill-opacity="0.92"/>
<circle cx="29.18" cy="62.59" r="0.78" fill="#22c42a" fill-opacity="0.92"/>
<circle cx="41.34" cy="27.55" r="0.4" fill="#1aa824" fill-opacity="0.92"/>
<circle cx="26.47" cy="33.19" r="0.68" fill="#2ee830" fill-opacity="0.92"/>
<circle cx="25.11" cy="50.32" r="0.81" fill="#3fe840" fill-opacity="0.92"/>
<circle cx="38.77" cy="28.22" r="0.53" fill="#35d835" fill-opacity="0.92"/>
<circle cx="37.17" cy="27.56" r="0.71" fill="#22c42a" fill-opacity="0.92"/>
<circle cx="27.77" cy="35.05" r="0.5" fill="#1aa824" fill-opacity="0.92"/>
<circle cx="23.8" cy="48.26" r="0.61" fill="#2ee830" fill-opacity="0.92"/>
<circle cx="27.47" cy="62.31" r="0.52" fill="#3fe840" fill-opacity="0.92"/>
<circle cx="27.26" cy="58.97" r="0.54" fill="#35d835" fill-opacity="0.92"/>
<circle cx="22.32" cy="43.48" r="0.4" fill="#22c42a" fill-opacity="0.92"/>
<circle cx="25.53" cy="55.96" r="0.44" fill="#1aa824" fill-opacity="0.92"/>
<circle cx="33.89" cy="31.17" r="0.38" fill="#2ee830" fill-opacity="0.92"/>
<circle cx="25.1" cy="36.1" r="0.76" fill="#3fe840" fill-opacity="0.92"/>
<circle cx="26.53" cy="36.88" r="0.79" fill="#35d835" fill-opacity="0.92"/>
<circle cx="32.84" cy="30.03" r="0.63" fill="#22c42a" fill-opacity="0.92"/>
<circle cx="43.05" cy="27.81" r="0.82" fill="#1aa824" fill-opacity="0.92"/>
<circle cx="27.89" cy="60.36" r="0.55" fill="#2ee830" fill-opacity="0.92"/>
<circle cx="25.39" cy="59.79" r="0.38" fill="#3fe840" fill-opacity="0.92"/>
<circle cx="40.17" cy="28.67" r="0.66" fill="#35d835" fill-opacity="0.92"/>
<circle cx="21.55" cy="44.45" r="0.64" fill="#22c42a" fill-opacity="0.92"/>
<circle cx="40.86" cy="27.44" r="0.7" fill="#1aa824" fill-opacity="0.92"/>
<circle cx="44.56" cy="30.86" r="0.53" fill="#2ee830" fill-opacity="0.92"/>
<circle cx="37.99" cy="28.69" r="0.5" fill="#3fe840" fill-opacity="0.92"/>
<circle cx="30.38" cy="31.53" r="0.41" fill="#35d835" fill-opacity="0.92"/>
<circle cx="37.69" cy="28.8" r="0.84" fill="#22c42a" fill-opacity="0.92"/>
<circle cx="23.78" cy="36.9" r="0.49" fill="#1aa824" fill-opacity="0.92"/>
<circle cx="24.82" cy="56.67" r="0.73" fill="#2ee830" fill-opacity="0.92"/>
<circle cx="37.02" cy="28.24" r="0.41" fill="#3fe840" fill-opacity="0.92"/>
<circle cx="25.01" cy="46.16" r="0.54" fill="#35d835" fill-opacity="0.92"/>
<circle cx="42.64" cy="30.46" r="0.7" fill="#22c42a" fill-opacity="0.92"/>
<circle cx="28.96" cy="34.67" r="0.69" fill="#1aa824" fill-opacity="0.92"/>
<circle cx="30.11" cy="61.94" r="0.64" fill="#2ee830" fill-opacity="0.92"/>
<circle cx="26.29" cy="62.41" r="0.56" fill="#3fe840" fill-opacity="0.92"/>
<circle cx="27.14" cy="31.83" r="0.4" fill="#35d835" fill-opacity="0.92"/>
<circle cx="51.67" cy="52.03" r="0.36" fill="#22c42a" fill-opacity="0.92"/>
<circle cx="40.52" cy="64.58" r="0.5" fill="#1aa824" fill-opacity="0.92"/>
<circle cx="39.37" cy="64.99" r="0.52" fill="#2ee830" fill-opacity="0.92"/>
<circle cx="48.36" cy="58.47" r="0.45" fill="#3fe840" fill-opacity="0.92"/>
<circle cx="46.65" cy="62.2" r="0.59" fill="#35d835" fill-opacity="0.92"/>
<circle cx="49.28" cy="37.39" r="0.34" fill="#22c42a" fill-opacity="0.92"/>
<circle cx="52.39" cy="54.6" r="0.54" fill="#1aa824" fill-opacity="0.92"/>
<circle cx="44.16" cy="63.96" r="0.6" fill="#2ee830" fill-opacity="0.92"/>
<circle cx="48.02" cy="35.16" r="0.57" fill="#3fe840" fill-opacity="0.92"/>
<circle cx="45.88" cy="62.8" r="0.34" fill="#35d835" fill-opacity="0.92"/>
<circle cx="51.08" cy="42.3" r="0.41" fill="#22c42a" fill-opacity="0.92"/>
<circle cx="42.72" cy="64.26" r="0.65" fill="#1aa824" fill-opacity="0.92"/>
<circle cx="40.07" cy="64.8" r="0.45" fill="#2ee830" fill-opacity="0.92"/>
<circle cx="50.55" cy="53.16" r="0.47" fill="#3fe840" fill-opacity="0.92"/>
<circle cx="39.08" cy="65.1" r="0.54" fill="#35d835" fill-opacity="0.92"/>
<circle cx="49.05" cy="35.44" r="0.66" fill="#22c42a" fill-opacity="0.92"/>
<circle cx="49.71" cy="39.6" r="0.33" fill="#1aa824" fill-opacity="0.92"/>
<circle cx="49.85" cy="55.3" r="0.33" fill="#2ee830" fill-opacity="0.92"/>
<circle cx="52.52" cy="54.11" r="0.47" fill="#3fe840" fill-opacity="0.92"/>
<circle cx="52.7" cy="48.82" r="0.34" fill="#35d835" fill-opacity="0.92"/>
<circle cx="49.43" cy="57.19" r="0.54" fill="#22c42a" fill-opacity="0.92"/>
<circle cx="37.12" cy="65" r="0.52" fill="#1aa824" fill-opacity="0.92"/>
<circle cx="48.81" cy="58.23" r="0.41" fill="#2ee830" fill-opacity="0.92"/>
<circle cx="35.4" cy="67.04" r="0.35" fill="#3fe840" fill-opacity="0.92"/>
<circle cx="47.3" cy="63.21" r="0.39" fill="#35d835" fill-opacity="0.92"/>
<circle cx="48.49" cy="58.26" r="0.45" fill="#22c42a" fill-opacity="0.92"/>
<circle cx="47.77" cy="61.48" r="0.61" fill="#1aa824" fill-opacity="0.92"/>
<circle cx="47.7" cy="34.53" r="0.65" fill="#2ee830" fill-opacity="0.92"/>
<circle cx="49.9" cy="57.74" r="0.46" fill="#3fe840" fill-opacity="0.92"/>
<circle cx="35.92" cy="66.11" r="0.31" fill="#35d835" fill-opacity="0.92"/>
<circle cx="43.2" cy="64.36" r="0.47" fill="#22c42a" fill-opacity="0.92"/>
<circle cx="50.83" cy="39.59" r="0.43" fill="#1aa824" fill-opacity="0.92"/>
<circle cx="48.23" cy="34.12" r="0.34" fill="#2ee830" fill-opacity="0.92"/>
<circle cx="43.45" cy="63.39" r="0.61" fill="#3fe840" fill-opacity="0.92"/>
<circle cx="43.04" cy="64.89" r="0.58" fill="#35d835" fill-opacity="0.92"/>
<circle cx="52.04" cy="40.99" r="0.47" fill="#22c42a" fill-opacity="0.92"/>
<circle cx="52.27" cy="39.92" r="0.46" fill="#1aa824" fill-opacity="0.92"/>
<circle cx="53.26" cy="47.49" r="0.45" fill="#2ee830" fill-opacity="0.92"/>
<circle cx="47.29" cy="60.51" r="0.64" fill="#3fe840" fill-opacity="0.92"/>
<circle cx="50.62" cy="42.05" r="0.69" fill="#35d835" fill-opacity="0.92"/>
<circle cx="47.14" cy="23.35" r="0.69" fill="#22c42a" fill-opacity="0.92"/>
<circle cx="51.5" cy="28.91" r="0.81" fill="#1aa824" fill-opacity="0.92"/>
<circle cx="48.99" cy="23.29" r="0.66" fill="#2ee830" fill-opacity="0.92"/>
<circle cx="48.93" cy="26.17" r="0.88" fill="#3fe840" fill-opacity="0.92"/>
<circle cx="50.91" cy="24.48" r="0.83" fill="#35d835" fill-opacity="0.92"/>
<circle cx="47.66" cy="23.02" r="0.54" fill="#22c42a" fill-opacity="0.92"/>
<circle cx="48.49" cy="22.04" r="0.74" fill="#1aa824" fill-opacity="0.92"/>
<circle cx="49.16" cy="23.36" r="0.78" fill="#2ee830" fill-opacity="0.92"/>
<circle cx="57.87" cy="23.77" r="0.71" fill="#3fe840" fill-opacity="0.92"/>
<circle cx="50.26" cy="24.56" r="0.47" fill="#35d835" fill-opacity="0.92"/>
<circle cx="52.38" cy="23.73" r="0.58" fill="#22c42a" fill-opacity="0.92"/>
<circle cx="52.09" cy="23.2" r="0.67" fill="#1aa824" fill-opacity="0.92"/>
<circle cx="48.99" cy="24.86" r="0.69" fill="#2ee830" fill-opacity="0.92"/>
<circle cx="50.98" cy="23.29" r="0.51" fill="#3fe840" fill-opacity="0.92"/>
<circle cx="49.3" cy="24.86" r="0.65" fill="#35d835" fill-opacity="0.92"/>
<circle cx="51.82" cy="21.17" r="0.67" fill="#22c42a" fill-opacity="0.92"/>
<circle cx="51.05" cy="23.38" r="0.68" fill="#1aa824" fill-opacity="0.92"/>
<circle cx="47.14" cy="26.91" r="0.46" fill="#2ee830" fill-opacity="0.92"/>
<circle cx="50.22" cy="23.39" r="0.48" fill="#3fe840" fill-opacity="0.92"/>
<circle cx="52.57" cy="18.82" r="0.62" fill="#35d835" fill-opacity="0.92"/>
<circle cx="48.07" cy="25.46" r="0.54" fill="#22c42a" fill-opacity="0.92"/>
<circle cx="48.61" cy="23.45" r="0.46" fill="#1aa824" fill-opacity="0.92"/>
<circle cx="21.55" cy="31.76" r="0.86" fill="#2ee830" fill-opacity="0.92"/>
<circle cx="21.67" cy="31.51" r="0.69" fill="#3fe840" fill-opacity="0.92"/>
<circle cx="24.96" cy="33.2" r="0.71" fill="#35d835" fill-opacity="0.92"/>
<circle cx="24.24" cy="30.14" r="0.55" fill="#22c42a" fill-opacity="0.92"/>
<circle cx="27.07" cy="32.96" r="0.75" fill="#1aa824" fill-opacity="0.92"/>
<circle cx="29.48" cy="32.48" r="0.88" fill="#2ee830" fill-opacity="0.92"/>
<circle cx="22.43" cy="28.72" r="0.48" fill="#3fe840" fill-opacity="0.92"/>
<circle cx="26.44" cy="31.23" r="0.43" fill="#35d835" fill-opacity="0.92"/>
<circle cx="24.55" cy="32.38" r="0.42" fill="#22c42a" fill-opacity="0.92"/>
<circle cx="21.9" cy="31.48" r="0.82" fill="#1aa824" fill-opacity="0.92"/>
<circle cx="21.16" cy="30.66" r="0.65" fill="#2ee830" fill-opacity="0.92"/>
<circle cx="22.84" cy="29.11" r="0.54" fill="#3fe840" fill-opacity="0.92"/>
<circle cx="77" cy="16" r="0.8" fill="#35d835" fill-opacity="0.92"/>
<circle cx="80" cy="13" r="0.5" fill="#22c42a" fill-opacity="0.92"/>
<circle cx="14.8" cy="2.7" r="1" fill="#f01818"/>
<circle cx="13" cy="3.5" r="0.8" fill="#f01818"/>
<circle cx="18" cy="6.5" r="1" fill="#f01818"/>
<circle cx="18.5" cy="9" r="0.6" fill="#f01818"/>
<circle cx="73.2" cy="2.7" r="0.9" fill="#f01818"/>
<circle cx="73.2" cy="7.1" r="1.1" fill="#f01818"/>
<circle cx="74.5" cy="13.6" r="1.1" fill="#f01818"/>
<circle cx="47.5" cy="32.8" r="1.1" fill="#f01818"/>
<circle cx="50.5" cy="30.5" r="0.9" fill="#f01818"/>
<circle cx="55.2" cy="32.8" r="0.9" fill="#f01818"/>
<circle cx="55.9" cy="41.8" r="1" fill="#f01818"/>
<circle cx="52.7" cy="51.5" r="1.2" fill="#f01818"/>
<circle cx="73.9" cy="34.8" r="0.9" fill="#f01818"/>
<circle cx="82.8" cy="20" r="0.9" fill="#f01818"/>
<circle cx="48.8" cy="3.3" r="0.8" fill="#f01818"/>
<circle cx="22" cy="29" r="0.6" fill="#f01818"/>
<circle cx="44" cy="69" r="0.6" fill="#f01818"/>
<circle cx="53" cy="58" r="0.5" fill="#f01818"/>
</g>
</g></g>
<line x1="196.8" y1="668.9" x2="217.3" y2="668.9" stroke="#d8d8d8" stroke-width="1.3"/>
<clipPath id="c7"><rect x="281.3" y="587.2" width="85.6" height="85.2"/></clipPath>
<rect x="281.3" y="587.2" width="85.6" height="85.2" fill="#02020e"/>
<g clip-path="url(#c7)"><g transform="translate(281.3,587.2)">
<g filter="url(#bl3)" opacity="0.55">
<ellipse cx="5.1" cy="5.9" rx="13.5" ry="13.5" fill="#0a0a50"/>
<ellipse cx="43" cy="9.1" rx="14" ry="16.5" fill="#0a0a50"/>
<ellipse cx="74.5" cy="15.5" rx="16.5" ry="20" fill="#0a0a50"/>
<ellipse cx="52.7" cy="38.6" rx="17.5" ry="21" fill="#0a0a50"/>
<ellipse cx="0.6" cy="24.5" rx="9" ry="14" fill="#0a0a50"/>
</g>
<g filter="url(#nuc)">
<ellipse cx="5.1" cy="5.9" rx="8.5" ry="8.5" fill="rgb(17,17,157)" transform="rotate(0 5.1 5.9)"/>
<ellipse cx="43" cy="9.1" rx="9" ry="11.5" fill="rgb(15,15,138)" transform="rotate(0 43 9.1)"/>
<ellipse cx="74.5" cy="15.5" rx="11.5" ry="15" fill="rgb(15,15,138)" transform="rotate(0 74.5 15.5)"/>
<ellipse cx="52.7" cy="38.6" rx="12.5" ry="16" fill="rgb(18,18,166)" transform="rotate(10 52.7 38.6)"/>
<ellipse cx="0.6" cy="24.5" rx="4" ry="9" fill="rgb(16,16,148)" transform="rotate(0 0.6 24.5)"/>
</g>
<g filter="url(#bl05)">
<circle cx="25.5" cy="37.4" r="0.88" fill="#3fe840" fill-opacity="0.92"/>
<circle cx="32.42" cy="36.69" r="0.69" fill="#35d835" fill-opacity="0.92"/>
<circle cx="30.76" cy="46.82" r="0.9" fill="#22c42a" fill-opacity="0.92"/>
<circle cx="27.38" cy="31.44" r="0.88" fill="#1aa824" fill-opacity="0.92"/>
<circle cx="34.96" cy="41.11" r="0.56" fill="#2ee830" fill-opacity="0.92"/>
<circle cx="33.3" cy="34.84" r="0.98" fill="#3fe840" fill-opacity="0.92"/>
<circle cx="38.12" cy="40.13" r="0.67" fill="#35d835" fill-opacity="0.92"/>
<circle cx="24.86" cy="42.51" r="0.46" fill="#22c42a" fill-opacity="0.92"/>
<circle cx="41.27" cy="40.97" r="0.78" fill="#1aa824" fill-opacity="0.92"/>
<circle cx="43.17" cy="45.58" r="1.07" fill="#2ee830" fill-opacity="0.92"/>
<circle cx="35.59" cy="40.09" r="0.54" fill="#3fe840" fill-opacity="0.92"/>
<circle cx="29.6" cy="43.73" r="0.56" fill="#35d835" fill-opacity="0.92"/>
<circle cx="31.52" cy="34.16" r="0.56" fill="#22c42a" fill-opacity="0.92"/>
<circle cx="33.83" cy="30.44" r="0.72" fill="#1aa824" fill-opacity="0.92"/>
<circle cx="27.78" cy="32.13" r="0.7" fill="#2ee830" fill-opacity="0.92"/>
<circle cx="39.11" cy="37.84" r="1.08" fill="#3fe840" fill-opacity="0.92"/>
<circle cx="38.57" cy="34.69" r="0.68" fill="#35d835" fill-opacity="0.92"/>
<circle cx="27.51" cy="42.96" r="0.89" fill="#22c42a" fill-opacity="0.92"/>
<circle cx="34.49" cy="38.88" r="0.69" fill="#1aa824" fill-opacity="0.92"/>
<circle cx="23.82" cy="35.22" r="0.78" fill="#2ee830" fill-opacity="0.92"/>
<circle cx="40.24" cy="37.96" r="0.73" fill="#3fe840" fill-opacity="0.92"/>
<circle cx="28.83" cy="35.49" r="0.73" fill="#35d835" fill-opacity="0.92"/>
<circle cx="26.09" cy="42.66" r="0.52" fill="#22c42a" fill-opacity="0.92"/>
<circle cx="29.32" cy="34.84" r="0.9" fill="#1aa824" fill-opacity="0.92"/>
<circle cx="35.52" cy="37.11" r="0.67" fill="#2ee830" fill-opacity="0.92"/>
<circle cx="31.04" cy="34.51" r="0.75" fill="#3fe840" fill-opacity="0.92"/>
<circle cx="32.94" cy="40.72" r="0.76" fill="#35d835" fill-opacity="0.92"/>
<circle cx="36.98" cy="34.24" r="1.07" fill="#22c42a" fill-opacity="0.92"/>
<circle cx="37.06" cy="47.84" r="0.69" fill="#1aa824" fill-opacity="0.92"/>
<circle cx="34.79" cy="45.25" r="1.04" fill="#2ee830" fill-opacity="0.92"/>
<circle cx="35.55" cy="36.2" r="0.95" fill="#3fe840" fill-opacity="0.92"/>
<circle cx="30.18" cy="39.74" r="0.46" fill="#35d835" fill-opacity="0.92"/>
<circle cx="38.06" cy="38.07" r="1.09" fill="#22c42a" fill-opacity="0.92"/>
<circle cx="37.33" cy="35.93" r="0.47" fill="#1aa824" fill-opacity="0.92"/>
<circle cx="28.52" cy="45.48" r="0.99" fill="#2ee830" fill-opacity="0.92"/>
<circle cx="29.92" cy="32.67" r="0.79" fill="#3fe840" fill-opacity="0.92"/>
<circle cx="25.74" cy="37.19" r="0.62" fill="#35d835" fill-opacity="0.92"/>
<circle cx="41.01" cy="31.82" r="0.56" fill="#22c42a" fill-opacity="0.92"/>
<circle cx="29.65" cy="47.78" r="0.63" fill="#1aa824" fill-opacity="0.92"/>
<circle cx="37.08" cy="33.51" r="0.9" fill="#2ee830" fill-opacity="0.92"/>
<circle cx="31.12" cy="32" r="0.64" fill="#3fe840" fill-opacity="0.92"/>
<circle cx="31.79" cy="45.09" r="0.9" fill="#35d835" fill-opacity="0.92"/>
<circle cx="38.35" cy="45.22" r="0.72" fill="#22c42a" fill-opacity="0.92"/>
<circle cx="32.26" cy="42.4" r="1.09" fill="#1aa824" fill-opacity="0.92"/>
<circle cx="26.14" cy="32.91" r="1.05" fill="#2ee830" fill-opacity="0.92"/>
<circle cx="39.39" cy="33.6" r="0.72" fill="#3fe840" fill-opacity="0.92"/>
<circle cx="23.78" cy="29.19" r="0.96" fill="#35d835" fill-opacity="0.92"/>
<circle cx="28.36" cy="33.32" r="0.69" fill="#22c42a" fill-opacity="0.92"/>
<circle cx="31.49" cy="28.31" r="0.46" fill="#1aa824" fill-opacity="0.92"/>
<circle cx="29.59" cy="23.42" r="0.97" fill="#2ee830" fill-opacity="0.92"/>
<circle cx="39.91" cy="28.08" r="0.8" fill="#3fe840" fill-opacity="0.92"/>
<circle cx="33.07" cy="30.31" r="0.51" fill="#35d835" fill-opacity="0.92"/>
<circle cx="29.65" cy="40.14" r="1.06" fill="#22c42a" fill-opacity="0.92"/>
<circle cx="29.9" cy="29.05" r="0.85" fill="#1aa824" fill-opacity="0.92"/>
<circle cx="35.94" cy="41.24" r="0.91" fill="#2ee830" fill-opacity="0.92"/>
<circle cx="29.34" cy="38.78" r="0.71" fill="#3fe840" fill-opacity="0.92"/>
<circle cx="28.95" cy="44.17" r="0.54" fill="#35d835" fill-opacity="0.92"/>
<circle cx="35.28" cy="38.8" r="0.9" fill="#22c42a" fill-opacity="0.92"/>
<circle cx="32.4" cy="27.21" r="1.06" fill="#1aa824" fill-opacity="0.92"/>
<circle cx="31.27" cy="37.1" r="0.77" fill="#2ee830" fill-opacity="0.92"/>
<circle cx="29.35" cy="37.31" r="0.88" fill="#3fe840" fill-opacity="0.92"/>
<circle cx="30.2" cy="39.72" r="0.66" fill="#35d835" fill-opacity="0.92"/>
<circle cx="32.53" cy="35.74" r="0.68" fill="#22c42a" fill-opacity="0.92"/>
<circle cx="31.44" cy="39.95" r="0.73" fill="#1aa824" fill-opacity="0.92"/>
<circle cx="33.87" cy="49.22" r="0.78" fill="#2ee830" fill-opacity="0.92"/>
<circle cx="31.14" cy="32.62" r="0.75" fill="#3fe840" fill-opacity="0.92"/>
<circle cx="25.21" cy="28.84" r="0.61" fill="#35d835" fill-opacity="0.92"/>
<circle cx="23.44" cy="38.96" r="0.99" fill="#22c42a" fill-opacity="0.92"/>
<circle cx="32.79" cy="43.38" r="0.94" fill="#1aa824" fill-opacity="0.92"/>
<circle cx="26.67" cy="41.49" r="0.88" fill="#2ee830" fill-opacity="0.92"/>
<circle cx="37.63" cy="34.69" r="0.89" fill="#3fe840" fill-opacity="0.92"/>
<circle cx="27.7" cy="43.87" r="0.66" fill="#35d835" fill-opacity="0.92"/>
<circle cx="27.74" cy="36" r="0.65" fill="#22c42a" fill-opacity="0.92"/>
<circle cx="34.11" cy="39.24" r="0.8" fill="#1aa824" fill-opacity="0.92"/>
<circle cx="31.98" cy="37.84" r="0.97" fill="#2ee830" fill-opacity="0.92"/>
<circle cx="29.66" cy="49.72" r="0.84" fill="#3fe840" fill-opacity="0.92"/>
<circle cx="24.99" cy="43.83" r="1.03" fill="#35d835" fill-opacity="0.92"/>
<circle cx="30.99" cy="38.81" r="0.87" fill="#22c42a" fill-opacity="0.92"/>
<circle cx="35.39" cy="29.14" r="0.96" fill="#1aa824" fill-opacity="0.92"/>
<circle cx="26.68" cy="40.35" r="0.62" fill="#2ee830" fill-opacity="0.92"/>
<circle cx="40.66" cy="59.8" r="0.94" fill="#3fe840" fill-opacity="0.92"/>
<circle cx="42.5" cy="54.7" r="0.65" fill="#35d835" fill-opacity="0.92"/>
<circle cx="42.72" cy="57.43" r="0.98" fill="#22c42a" fill-opacity="0.92"/>
<circle cx="44.37" cy="58.25" r="0.64" fill="#1aa824" fill-opacity="0.92"/>
<circle cx="39.82" cy="58.55" r="1.04" fill="#2ee830" fill-opacity="0.92"/>
<circle cx="40.47" cy="55.73" r="0.68" fill="#3fe840" fill-opacity="0.92"/>
<circle cx="45.9" cy="60.03" r="1.03" fill="#35d835" fill-opacity="0.92"/>
<circle cx="43.58" cy="51.61" r="0.98" fill="#22c42a" fill-opacity="0.92"/>
<circle cx="47.75" cy="54.61" r="0.67" fill="#1aa824" fill-opacity="0.92"/>
<circle cx="43.71" cy="53.66" r="0.99" fill="#2ee830" fill-opacity="0.92"/>
<circle cx="37.1" cy="54.96" r="0.74" fill="#3fe840" fill-opacity="0.92"/>
<circle cx="37.86" cy="56.93" r="0.58" fill="#35d835" fill-opacity="0.92"/>
<circle cx="44.03" cy="51.95" r="1.14" fill="#22c42a" fill-opacity="0.92"/>
<circle cx="39.16" cy="53.04" r="0.99" fill="#1aa824" fill-opacity="0.92"/>
<circle cx="44.98" cy="58.82" r="0.79" fill="#2ee830" fill-opacity="0.92"/>
<circle cx="42.2" cy="57.51" r="0.84" fill="#3fe840" fill-opacity="0.92"/>
<circle cx="40.91" cy="58.77" r="0.89" fill="#35d835" fill-opacity="0.92"/>
<circle cx="39.32" cy="56.81" r="0.82" fill="#22c42a" fill-opacity="0.92"/>
<circle cx="41.27" cy="57.83" r="0.63" fill="#1aa824" fill-opacity="0.92"/>
<circle cx="39.96" cy="56.73" r="0.92" fill="#2ee830" fill-opacity="0.92"/>
<circle cx="44.81" cy="55.29" r="0.97" fill="#3fe840" fill-opacity="0.92"/>
<circle cx="42.09" cy="55.7" r="0.59" fill="#35d835" fill-opacity="0.92"/>
<circle cx="43.64" cy="51.52" r="0.92" fill="#22c42a" fill-opacity="0.92"/>
<circle cx="43.22" cy="58.18" r="1.06" fill="#1aa824" fill-opacity="0.92"/>
<circle cx="46.45" cy="53.04" r="0.63" fill="#2ee830" fill-opacity="0.92"/>
<circle cx="43.35" cy="54.07" r="0.97" fill="#3fe840" fill-opacity="0.92"/>
<circle cx="47.95" cy="61.05" r="0.89" fill="#35d835" fill-opacity="0.92"/>
<circle cx="40.53" cy="54.3" r="0.9" fill="#22c42a" fill-opacity="0.92"/>
<circle cx="36.33" cy="54.37" r="0.73" fill="#1aa824" fill-opacity="0.92"/>
<circle cx="40.49" cy="53.74" r="0.69" fill="#2ee830" fill-opacity="0.92"/>
<circle cx="44.11" cy="59.26" r="0.57" fill="#3fe840" fill-opacity="0.92"/>
<circle cx="41.23" cy="56.94" r="0.92" fill="#35d835" fill-opacity="0.92"/>
<circle cx="36.3" cy="54.92" r="0.53" fill="#22c42a" fill-opacity="0.92"/>
<circle cx="37.59" cy="56.85" r="0.56" fill="#1aa824" fill-opacity="0.92"/>
<circle cx="55.05" cy="56.16" r="0.58" fill="#2ee830" fill-opacity="0.92"/>
<circle cx="39.99" cy="57.88" r="0.89" fill="#3fe840" fill-opacity="0.92"/>
<circle cx="44.98" cy="57.32" r="0.74" fill="#35d835" fill-opacity="0.92"/>
<circle cx="41.22" cy="55.77" r="0.72" fill="#22c42a" fill-opacity="0.92"/>
<circle cx="30.42" cy="56.14" r="0.84" fill="#1aa824" fill-opacity="0.92"/>
<circle cx="35.13" cy="56.6" r="0.69" fill="#2ee830" fill-opacity="0.92"/>
<circle cx="45.63" cy="56.58" r="1.09" fill="#3fe840" fill-opacity="0.92"/>
<circle cx="40.77" cy="54.07" r="0.94" fill="#35d835" fill-opacity="0.92"/>
<circle cx="42.8" cy="54.43" r="0.88" fill="#22c42a" fill-opacity="0.92"/>
<circle cx="39.16" cy="57.47" r="0.69" fill="#1aa824" fill-opacity="0.92"/>
<circle cx="42.06" cy="58.23" r="0.52" fill="#2ee830" fill-opacity="0.92"/>
<circle cx="60.85" cy="55.94" r="0.76" fill="#3fe840" fill-opacity="0.92"/>
<circle cx="59.65" cy="53.42" r="0.54" fill="#35d835" fill-opacity="0.92"/>
<circle cx="57.43" cy="51.08" r="0.57" fill="#22c42a" fill-opacity="0.92"/>
<circle cx="56.79" cy="52.16" r="0.83" fill="#1aa824" fill-opacity="0.92"/>
<circle cx="59.11" cy="54.96" r="0.9" fill="#2ee830" fill-opacity="0.92"/>
<circle cx="56.58" cy="55.21" r="0.84" fill="#3fe840" fill-opacity="0.92"/>
<circle cx="56.84" cy="53.16" r="0.7" fill="#35d835" fill-opacity="0.92"/>
<circle cx="57.03" cy="52.97" r="0.76" fill="#22c42a" fill-opacity="0.92"/>
<circle cx="59.42" cy="55.27" r="0.45" fill="#1aa824" fill-opacity="0.92"/>
<circle cx="59.75" cy="59.3" r="0.62" fill="#2ee830" fill-opacity="0.92"/>
<circle cx="60.48" cy="53.87" r="0.73" fill="#3fe840" fill-opacity="0.92"/>
<circle cx="60.45" cy="51.81" r="0.46" fill="#35d835" fill-opacity="0.92"/>
<circle cx="54.8" cy="52.49" r="0.5" fill="#22c42a" fill-opacity="0.92"/>
<circle cx="62.02" cy="56.28" r="0.68" fill="#1aa824" fill-opacity="0.92"/>
<circle cx="58.75" cy="56.06" r="0.52" fill="#2ee830" fill-opacity="0.92"/>
<circle cx="58.68" cy="51.75" r="0.46" fill="#3fe840" fill-opacity="0.92"/>
<circle cx="58.25" cy="53.21" r="0.55" fill="#35d835" fill-opacity="0.92"/>
<circle cx="61.84" cy="54.57" r="0.46" fill="#22c42a" fill-opacity="0.92"/>
<circle cx="56.71" cy="53.86" r="0.66" fill="#1aa824" fill-opacity="0.92"/>
<circle cx="56.58" cy="51.73" r="0.65" fill="#2ee830" fill-opacity="0.92"/>
<circle cx="55.13" cy="54.2" r="0.73" fill="#3fe840" fill-opacity="0.92"/>
<circle cx="60.15" cy="55.27" r="0.53" fill="#35d835" fill-opacity="0.92"/>
<circle cx="65.77" cy="42.42" r="0.77" fill="#22c42a" fill-opacity="0.92"/>
<circle cx="68.38" cy="48.64" r="0.41" fill="#1aa824" fill-opacity="0.92"/>
<circle cx="67.48" cy="39.9" r="0.83" fill="#2ee830" fill-opacity="0.92"/>
<circle cx="66.83" cy="42.5" r="0.57" fill="#3fe840" fill-opacity="0.92"/>
<circle cx="65.12" cy="40.54" r="0.53" fill="#35d835" fill-opacity="0.92"/>
<circle cx="65.98" cy="47.39" r="0.84" fill="#22c42a" fill-opacity="0.92"/>
<circle cx="65.88" cy="40.8" r="0.86" fill="#1aa824" fill-opacity="0.92"/>
<circle cx="64.2" cy="42.37" r="0.63" fill="#2ee830" fill-opacity="0.92"/>
<circle cx="64.86" cy="42.99" r="0.68" fill="#3fe840" fill-opacity="0.92"/>
<circle cx="64.01" cy="45" r="0.87" fill="#35d835" fill-opacity="0.92"/>
<circle cx="64.38" cy="40.48" r="0.83" fill="#22c42a" fill-opacity="0.92"/>
<circle cx="67.59" cy="42.41" r="0.87" fill="#1aa824" fill-opacity="0.92"/>
<circle cx="66.48" cy="42.66" r="0.49" fill="#2ee830" fill-opacity="0.92"/>
<circle cx="68.05" cy="41.05" r="0.76" fill="#3fe840" fill-opacity="0.92"/>
<circle cx="65.02" cy="45.35" r="0.84" fill="#35d835" fill-opacity="0.92"/>
<circle cx="66.22" cy="43.23" r="0.42" fill="#22c42a" fill-opacity="0.92"/>
<circle cx="62.12" cy="43.44" r="0.68" fill="#1aa824" fill-opacity="0.92"/>
<circle cx="63.77" cy="44.21" r="0.49" fill="#2ee830" fill-opacity="0.92"/>
<circle cx="36.16" cy="25.75" r="0.61" fill="#3fe840" fill-opacity="0.92"/>
<circle cx="35.58" cy="24.67" r="0.73" fill="#35d835" fill-opacity="0.92"/>
<circle cx="37.8" cy="26.84" r="0.41" fill="#22c42a" fill-opacity="0.92"/>
<circle cx="37.27" cy="25.71" r="0.47" fill="#1aa824" fill-opacity="0.92"/>
<circle cx="37.91" cy="22.28" r="0.79" fill="#2ee830" fill-opacity="0.92"/>
<circle cx="39.84" cy="23.58" r="0.85" fill="#3fe840" fill-opacity="0.92"/>
<circle cx="39.31" cy="21.22" r="0.41" fill="#35d835" fill-opacity="0.92"/>
<circle cx="34.62" cy="24.75" r="0.55" fill="#22c42a" fill-opacity="0.92"/>
<circle cx="38.35" cy="25.7" r="0.53" fill="#1aa824" fill-opacity="0.92"/>
<circle cx="38.54" cy="22.2" r="0.61" fill="#2ee830" fill-opacity="0.92"/>
<circle cx="34.21" cy="20.19" r="0.55" fill="#3fe840" fill-opacity="0.92"/>
<circle cx="44.49" cy="25.47" r="0.82" fill="#35d835" fill-opacity="0.92"/>
<circle cx="38.76" cy="21.64" r="0.52" fill="#22c42a" fill-opacity="0.92"/>
<circle cx="39.2" cy="25.41" r="0.63" fill="#1aa824" fill-opacity="0.92"/>
<circle cx="18.82" cy="61" r="0.59" fill="#2ee830" fill-opacity="0.92"/>
<circle cx="24.32" cy="68.61" r="0.51" fill="#3fe840" fill-opacity="0.92"/>
<circle cx="24.98" cy="60.36" r="0.31" fill="#35d835" fill-opacity="0.92"/>
<circle cx="21.05" cy="66.41" r="0.38" fill="#22c42a" fill-opacity="0.92"/>
<circle cx="22.5" cy="61.96" r="0.55" fill="#1aa824" fill-opacity="0.92"/>
<circle cx="29.82" cy="60.63" r="0.6" fill="#2ee830" fill-opacity="0.92"/>
<circle cx="32.77" cy="64.79" r="0.56" fill="#3fe840" fill-opacity="0.92"/>
<circle cx="29.65" cy="67.08" r="0.47" fill="#35d835" fill-opacity="0.92"/>
<circle cx="28.64" cy="61.24" r="0.46" fill="#22c42a" fill-opacity="0.92"/>
<circle cx="30.22" cy="58.16" r="0.39" fill="#1aa824" fill-opacity="0.92"/>
<circle cx="42" cy="76" r="0.7" fill="#2ee830" fill-opacity="0.92"/>
<circle cx="18" cy="45" r="0.5" fill="#3fe840" fill-opacity="0.92"/>
<circle cx="20" cy="56" r="0.4" fill="#35d835" fill-opacity="0.92"/>
<circle cx="61" cy="14" r="1" fill="#f01818"/>
<circle cx="61.6" cy="24.2" r="0.9" fill="#f01818"/>
<circle cx="52.7" cy="21.9" r="0.9" fill="#f01818"/>
<circle cx="40.5" cy="29" r="0.9" fill="#f01818"/>
<circle cx="39.8" cy="37.3" r="0.9" fill="#f01818"/>
<circle cx="27.6" cy="50.8" r="0.9" fill="#f01818"/>
<circle cx="7.1" cy="22.2" r="0.7" fill="#f01818"/>
<circle cx="3.8" cy="25.1" r="0.6" fill="#f01818"/>
<circle cx="63" cy="48" r="0.6" fill="#f01818"/>
<circle cx="0.5" cy="16" r="0.5" fill="#f01818"/>
</g>
</g></g>
<line x1="282.8" y1="668.6" x2="307.6" y2="668.6" stroke="#d8d8d8" stroke-width="1.3"/>
<text x="60.7" y="583.4" font-size="9.2" font-weight="bold" text-anchor="middle" fill="#000">Delta</text>
<text x="146.6" y="583.4" font-size="9.2" font-weight="bold" text-anchor="middle" fill="#000">Delta-Om NSP6</text>
<text x="233.4" y="583.4" font-size="9.2" font-weight="bold" text-anchor="middle" fill="#000">Omicron</text>
<text x="323.6" y="583.4" font-size="9.2" font-weight="bold" text-anchor="middle" fill="#000">Om-Delta NSP6</text>
<text x="16" y="682" font-size="8.2" font-weight="normal" text-anchor="start" fill="#000">Scale bar = 10µm</text>
<text x="16" y="690.8" font-size="8.2" font-weight="normal"><tspan fill="#4f86d9">Nuclei</tspan><tspan fill="#222">/</tspan><tspan fill="#3aa335">dsRNA</tspan><tspan fill="#222">/</tspan><tspan fill="#e02020">LD</tspan></text>
<text x="421" y="455.6" font-size="12.5" font-weight="bold" text-anchor="start" fill="#000">F</text>
<line x1="466.8" y1="462.6" x2="466.8" y2="563.6" stroke="#000" stroke-width="1.3"/>
<line x1="462.3" y1="463.2" x2="466.8" y2="463.2" stroke="#000" stroke-width="1.1"/>
<line x1="462.3" y1="513.4" x2="466.8" y2="513.4" stroke="#000" stroke-width="1.1"/>
<line x1="462.3" y1="563.6" x2="466.8" y2="563.6" stroke="#000" stroke-width="1.1"/>
<line x1="466.8" y1="573.8" x2="466.8" y2="584.8" stroke="#000" stroke-width="1.3"/>
<line x1="462.3" y1="573.8" x2="466.8" y2="573.8" stroke="#000" stroke-width="1.1"/>
<line x1="462.3" y1="584.8" x2="466.8" y2="584.8" stroke="#000" stroke-width="1.1"/>
<text x="460.2" y="466.5" font-size="9.3" font-weight="bold" text-anchor="end" fill="#000">1.2</text>
<text x="460.2" y="516.7" font-size="9.3" font-weight="bold" text-anchor="end" fill="#000">1.0</text>
<text x="460.2" y="566.9" font-size="9.3" font-weight="bold" text-anchor="end" fill="#000">0.8</text>
<text x="460.2" y="577.1" font-size="9.3" font-weight="bold" text-anchor="end" fill="#000">0.7</text>
<text x="460.2" y="588.1" font-size="9.3" font-weight="bold" text-anchor="end" fill="#000">0.0</text>
<path d="M473.15 563.6 V539.35 H481.85 V563.6" fill="none" stroke="#137a45" stroke-width="1.7"/>
<line x1="473.15" y1="573.8" x2="473.15" y2="584.8" stroke="#137a45" stroke-width="1.7"/>
<line x1="481.85" y1="573.8" x2="481.85" y2="584.8" stroke="#137a45" stroke-width="1.7"/>
<path d="M488.35 563.6 V517.51 H497.65 V563.6" fill="none" stroke="#f8b340" stroke-width="1.7"/>
<line x1="488.35" y1="573.8" x2="488.35" y2="584.8" stroke="#f8b340" stroke-width="1.7"/>
<line x1="497.65" y1="573.8" x2="497.65" y2="584.8" stroke="#f8b340" stroke-width="1.7"/>
<path d="M504.35 563.6 V514.25 H513.05 V563.6" fill="none" stroke="#000" stroke-width="1.7"/>
<line x1="504.35" y1="573.8" x2="504.35" y2="584.8" stroke="#000" stroke-width="1.7"/>
<line x1="513.05" y1="573.8" x2="513.05" y2="584.8" stroke="#000" stroke-width="1.7"/>
<line x1="461" y1="584.8" x2="519.5" y2="584.8" stroke="#000" stroke-width="1.3"/>
<line x1="477.4" y1="584.8" x2="477.4" y2="589.5" stroke="#000" stroke-width="1.1"/>
<line x1="493" y1="584.8" x2="493" y2="589.5" stroke="#000" stroke-width="1.1"/>
<line x1="508.7" y1="584.8" x2="508.7" y2="589.5" stroke="#000" stroke-width="1.1"/>
<line x1="477.5" y1="542.26" x2="477.5" y2="534.74" stroke="#000" stroke-width="0.7"/>
<line x1="475.3" y1="542.26" x2="479.7" y2="542.26" stroke="#000" stroke-width="0.8"/>
<line x1="475.3" y1="534.74" x2="479.7" y2="534.74" stroke="#000" stroke-width="0.8"/>
<line x1="493" y1="521.43" x2="493" y2="511.89" stroke="#000" stroke-width="0.7"/>
<line x1="490.8" y1="521.43" x2="495.2" y2="521.43" stroke="#000" stroke-width="0.8"/>
<line x1="490.8" y1="511.89" x2="495.2" y2="511.89" stroke="#000" stroke-width="0.8"/>
<line x1="508.7" y1="524.19" x2="508.7" y2="503.11" stroke="#000" stroke-width="0.7"/>
<line x1="506.5" y1="524.19" x2="510.9" y2="524.19" stroke="#000" stroke-width="0.8"/>
<line x1="506.5" y1="503.11" x2="510.9" y2="503.11" stroke="#000" stroke-width="0.8"/>
<circle cx="473.5" cy="532" r="1.15" fill="#2e7d32"/>
<circle cx="481.3" cy="534.6" r="1.15" fill="#2e7d32"/>
<circle cx="479.5" cy="536.5" r="1.15" fill="#2e7d32"/>
<circle cx="477.3" cy="545.5" r="1.15" fill="#2e7d32"/>
<circle cx="477.8" cy="549.5" r="1.15" fill="#2e7d32"/>
<circle cx="476.5" cy="541" r="1.15" fill="#2e7d32"/>
<circle cx="493" cy="493.1" r="1.15" fill="#c8c800"/>
<circle cx="493" cy="514.6" r="1.15" fill="#c8c800"/>
<circle cx="493" cy="519.4" r="1.15" fill="#c8c800"/>
<circle cx="490.7" cy="526.5" r="1.15" fill="#c8c800"/>
<circle cx="495.3" cy="526.5" r="1.15" fill="#c8c800"/>
<rect x="507.85" y="485.35" width="1.7" height="1.7" fill="none" stroke="#8a8a8a" stroke-width="0.45" transform="rotate(45 508.7 486.2)"/>
<rect x="507.85" y="489.25" width="1.7" height="1.7" fill="none" stroke="#8a8a8a" stroke-width="0.45" transform="rotate(45 508.7 490.1)"/>
<rect x="507.85" y="493.15" width="1.7" height="1.7" fill="none" stroke="#8a8a8a" stroke-width="0.45" transform="rotate(45 508.7 494)"/>
<rect x="507.85" y="529.55" width="1.7" height="1.7" fill="none" stroke="#8a8a8a" stroke-width="0.45" transform="rotate(45 508.7 530.4)"/>
<rect x="507.85" y="536.65" width="1.7" height="1.7" fill="none" stroke="#8a8a8a" stroke-width="0.45" transform="rotate(45 508.7 537.5)"/>
<rect x="507.85" y="538.65" width="1.7" height="1.7" fill="none" stroke="#8a8a8a" stroke-width="0.45" transform="rotate(45 508.7 539.5)"/>
<rect x="507.85" y="540.65" width="1.7" height="1.7" fill="none" stroke="#8a8a8a" stroke-width="0.45" transform="rotate(45 508.7 541.5)"/>
<line x1="475.1" y1="481.3" x2="493.9" y2="481.3" stroke="#3a3a3a" stroke-width="0.9"/>
<text x="484.1" y="479.6" font-size="10.5" font-weight="bold" text-anchor="middle" fill="#000" letter-spacing="0.5">**</text>
<line x1="475.1" y1="455.5" x2="509.8" y2="455.5" stroke="#3a3a3a" stroke-width="0.9"/>
<text x="492.3" y="453.4" font-size="10.5" font-weight="bold" text-anchor="middle" fill="#000">*</text>
<text x="0" y="0" font-size="9.0" font-weight="bold" text-anchor="end" fill="#000" transform="translate(480.6,594) rotate(-90)">Delta</text>
<text x="0" y="0" font-size="9.0" font-weight="bold" text-anchor="end" fill="#000" transform="translate(496.2,594) rotate(-90)">Omicron</text>
<text x="0" y="0" font-size="9.0" font-weight="bold" text-anchor="end" fill="#000" transform="translate(511.9,594) rotate(-90)">Untransfected</text>
<path d="M473.4 660 Q493.4 658.2 513.4 660 L513.4 660.2 Q493.4 661.6 473.4 660.2 Z" fill="#111"/>
<text x="493.4" y="671.2" font-size="9.8" font-weight="bold" text-anchor="middle" fill="#000">NSP6</text>
<text x="0" y="0" font-size="12.2" font-weight="bold" text-anchor="middle" fill="#000" transform="translate(440.6,523.6) rotate(-90)">relative LD MFI</text>
<text x="564.2" y="455.8" font-size="12.5" font-weight="bold" text-anchor="start" fill="#000">H</text>
<line x1="609.4" y1="461.6" x2="609.4" y2="496.4" stroke="#000" stroke-width="1.3"/>
<line x1="604.2" y1="462.2" x2="609.4" y2="462.2" stroke="#000" stroke-width="1.1"/>
<line x1="604.2" y1="485" x2="609.4" y2="485" stroke="#000" stroke-width="1.1"/>
<line x1="606.9" y1="496.4" x2="611.9" y2="496.4" stroke="#000" stroke-width="1.1"/>
<line x1="609.4" y1="507.72" x2="609.4" y2="613" stroke="#000" stroke-width="1.3"/>
<line x1="604.2" y1="507.72" x2="609.4" y2="507.72" stroke="#000" stroke-width="1.1"/>
<line x1="604.2" y1="534.04" x2="609.4" y2="534.04" stroke="#000" stroke-width="1.1"/>
<line x1="604.2" y1="560.36" x2="609.4" y2="560.36" stroke="#000" stroke-width="1.1"/>
<line x1="604.2" y1="586.68" x2="609.4" y2="586.68" stroke="#000" stroke-width="1.1"/>
<line x1="604.2" y1="613" x2="609.4" y2="613" stroke="#000" stroke-width="1.1"/>
<line x1="609.4" y1="507.72" x2="611.9" y2="507.72" stroke="#000" stroke-width="1.1"/>
<text x="603.6" y="465.5" font-size="9.2" font-weight="bold" text-anchor="end" fill="#000">10</text>
<text x="603.6" y="488.3" font-size="9.2" font-weight="bold" text-anchor="end" fill="#000">5</text>
<text x="603.6" y="511.02" font-size="9.2" font-weight="bold" text-anchor="end" fill="#000">1.6</text>
<text x="603.6" y="537.34" font-size="9.2" font-weight="bold" text-anchor="end" fill="#000">1.2</text>
<text x="603.6" y="563.66" font-size="9.2" font-weight="bold" text-anchor="end" fill="#000">0.8</text>
<text x="603.6" y="589.98" font-size="9.2" font-weight="bold" text-anchor="end" fill="#000">0.4</text>
<text x="603.6" y="616.3" font-size="9.2" font-weight="bold" text-anchor="end" fill="#000">0.0</text>
<line x1="608.8" y1="613" x2="674" y2="613" stroke="#000" stroke-width="1.3"/>
<line x1="618.9" y1="578.13" x2="618.9" y2="599.84" stroke="#138050" stroke-width="1.5"/>
<line x1="616.1" y1="599.84" x2="621.7" y2="599.84" stroke="#138050" stroke-width="1.5"/>
<line x1="618.9" y1="526.8" x2="618.9" y2="507.72" stroke="#138050" stroke-width="1.5"/>
<line x1="618.9" y1="496.4" x2="618.9" y2="487.42" stroke="#138050" stroke-width="1.5"/>
<line x1="616" y1="487.42" x2="621.8" y2="487.42" stroke="#138050" stroke-width="1.5"/>
<rect x="614" y="526.8" width="9.8" height="51.32" fill="#0f8a5f"/>
<line x1="613.5" y1="560.36" x2="624.6" y2="560.36" stroke="#000" stroke-width="1.6"/>
<line x1="618.9" y1="613" x2="618.9" y2="617" stroke="#000" stroke-width="1.1"/>
<line x1="633.6" y1="564.31" x2="633.6" y2="601.16" stroke="#f9b234" stroke-width="1.5"/>
<line x1="630.8" y1="601.16" x2="636.4" y2="601.16" stroke="#f9b234" stroke-width="1.5"/>
<line x1="633.6" y1="514.3" x2="633.6" y2="507.72" stroke="#f9b234" stroke-width="1.5"/>
<line x1="633.6" y1="496.4" x2="633.6" y2="485.5" stroke="#f9b234" stroke-width="1.5"/>
<line x1="630.7" y1="485.5" x2="636.5" y2="485.5" stroke="#f9b234" stroke-width="1.5"/>
<rect x="629.3" y="515" width="8.7" height="48.61" fill="#0f8a5f" stroke="#f9b234" stroke-width="1.4"/>
<line x1="628.6" y1="563.61" x2="638.7" y2="563.61" stroke="#f9b234" stroke-width="1.4"/>
<line x1="628.1" y1="537.99" x2="639.5" y2="537.99" stroke="#000" stroke-width="1.6"/>
<line x1="633.6" y1="613" x2="633.6" y2="617" stroke="#000" stroke-width="1.1"/>
<line x1="648.2" y1="566.28" x2="648.2" y2="596.55" stroke="#f9b234" stroke-width="1.5"/>
<line x1="645.4" y1="596.55" x2="651" y2="596.55" stroke="#f9b234" stroke-width="1.5"/>
<line x1="648.2" y1="513.64" x2="648.2" y2="507.72" stroke="#f9b234" stroke-width="1.5"/>
<line x1="648.2" y1="496.4" x2="648.2" y2="470.18" stroke="#f9b234" stroke-width="1.5"/>
<line x1="645.3" y1="470.18" x2="651.1" y2="470.18" stroke="#f9b234" stroke-width="1.5"/>
<rect x="643.2" y="513.64" width="10.1" height="52.64" fill="#fdb300"/>
<line x1="642.7" y1="543.25" x2="654.1" y2="543.25" stroke="#000" stroke-width="1.6"/>
<line x1="648.2" y1="613" x2="648.2" y2="617" stroke="#000" stroke-width="1.1"/>
<line x1="663" y1="570.23" x2="663" y2="599.84" stroke="#2f9a5c" stroke-width="1.5"/>
<line x1="660.2" y1="599.84" x2="665.8" y2="599.84" stroke="#2f9a5c" stroke-width="1.5"/>
<line x1="663" y1="520.88" x2="663" y2="507.72" stroke="#2f9a5c" stroke-width="1.5"/>
<line x1="663" y1="496.4" x2="663" y2="489.29" stroke="#2f9a5c" stroke-width="1.5"/>
<line x1="660.1" y1="489.29" x2="665.9" y2="489.29" stroke="#2f9a5c" stroke-width="1.5"/>
<rect x="658.8" y="521.58" width="8.1" height="47.95" fill="#fdb300" stroke="#2f9a5c" stroke-width="1.4"/>
<line x1="658.1" y1="569.53" x2="667.6" y2="569.53" stroke="#2f9a5c" stroke-width="1.4"/>
<line x1="657.6" y1="549.17" x2="668.4" y2="549.17" stroke="#000" stroke-width="1.6"/>
<line x1="663" y1="613" x2="663" y2="617" stroke="#000" stroke-width="1.1"/>
<line x1="618.7" y1="452.3" x2="647.6" y2="452.3" stroke="#777" stroke-width="0.8"/>
<text x="633.6" y="450.2" font-size="9" font-weight="bold" text-anchor="middle" fill="#000" letter-spacing="0.35">****</text>
<line x1="619.2" y1="464.2" x2="634" y2="464.2" stroke="#333" stroke-width="0.8"/>
<text x="626.6" y="461.9" font-size="9" font-weight="bold" text-anchor="middle" fill="#000" letter-spacing="0.35">****</text>
<line x1="648.5" y1="464.2" x2="663.4" y2="464.2" stroke="#333" stroke-width="0.8"/>
<text x="656.2" y="461.9" font-size="9" font-weight="bold" text-anchor="middle" fill="#000" letter-spacing="0.35">***</text>
<text x="0" y="0" font-size="9.0" font-weight="bold" text-anchor="end" fill="#000" transform="translate(622.1,618.6) rotate(-90)">Delta</text>
<text x="0" y="0" font-size="9.0" font-weight="bold" text-anchor="end" fill="#000" transform="translate(636.8,618.6) rotate(-90)">Delta-Om NSP6</text>
<text x="0" y="0" font-size="9.0" font-weight="bold" text-anchor="end" fill="#000" transform="translate(651.4,618.6) rotate(-90)">Omicron</text>
<text x="0" y="0" font-size="9.0" font-weight="bold" text-anchor="end" fill="#000" transform="translate(666.2,618.6) rotate(-90)">Om-Delta NSP6</text>
<text x="0" y="0" font-size="12.2" font-weight="bold" text-anchor="middle" fill="#000" transform="translate(584.8,537) rotate(-90)">relative LD MFI</text>
<rect x="36.05" y="61.86" width="6.9" height="79.73" fill="#0f8a5f"/>
<line x1="39.5" y1="141.6" x2="39.5" y2="146.4" stroke="#000" stroke-width="1.3"/>
<rect x="47.6" y="123.1" width="7.3" height="18.5" fill="#fdb300"/>
<line x1="51.25" y1="141.6" x2="51.25" y2="146.4" stroke="#000" stroke-width="1.3"/>
<rect x="59.8" y="132.04" width="6.4" height="8.76" fill="#fdb300" stroke="#157a42" stroke-width="1.6"/>
<line x1="63" y1="141.6" x2="63" y2="146.4" stroke="#000" stroke-width="1.3"/>
<rect x="71.55" y="124.64" width="6.4" height="16.16" fill="#fdb300" stroke="#157a42" stroke-width="1.6"/>
<line x1="74.75" y1="141.6" x2="74.75" y2="146.4" stroke="#000" stroke-width="1.3"/>
<rect x="83.3" y="129.08" width="6.4" height="11.72" fill="#fdb300" stroke="#157a42" stroke-width="1.6"/>
<line x1="86.5" y1="141.6" x2="86.5" y2="146.4" stroke="#000" stroke-width="1.3"/>
<rect x="95.05" y="106.14" width="6.4" height="34.66" fill="#fdb300" stroke="#157a42" stroke-width="1.6"/>
<line x1="98.25" y1="141.6" x2="98.25" y2="146.4" stroke="#000" stroke-width="1.3"/>
<rect x="106.8" y="125.01" width="6.4" height="15.79" fill="#fdb300" stroke="#157a42" stroke-width="1.6"/>
<line x1="110" y1="141.6" x2="110" y2="146.4" stroke="#000" stroke-width="1.3"/>
<rect x="118.55" y="125.19" width="6.4" height="15.6" fill="#fdb300" stroke="#157a42" stroke-width="1.6"/>
<line x1="121.75" y1="141.6" x2="121.75" y2="146.4" stroke="#000" stroke-width="1.3"/>
<rect x="130.3" y="125.75" width="6.4" height="15.05" fill="#fdb300" stroke="#157a42" stroke-width="1.6"/>
<line x1="133.5" y1="141.6" x2="133.5" y2="146.4" stroke="#000" stroke-width="1.3"/>
<rect x="142.05" y="127.41" width="6.4" height="13.38" fill="#fdb300" stroke="#157a42" stroke-width="1.6"/>
<line x1="145.25" y1="141.6" x2="145.25" y2="146.4" stroke="#000" stroke-width="1.3"/>
<rect x="153.8" y="123.16" width="6.4" height="17.64" fill="#fdb300" stroke="#157a42" stroke-width="1.6"/>
<line x1="157" y1="141.6" x2="157" y2="146.4" stroke="#000" stroke-width="1.3"/>
<rect x="165.55" y="130.75" width="6.4" height="10.06" fill="#fdb300" stroke="#157a42" stroke-width="1.6"/>
<line x1="168.75" y1="141.6" x2="168.75" y2="146.4" stroke="#000" stroke-width="1.3"/>
<rect x="177.3" y="128.53" width="6.4" height="12.28" fill="#fdb300" stroke="#157a42" stroke-width="1.6"/>
<line x1="180.5" y1="141.6" x2="180.5" y2="146.4" stroke="#000" stroke-width="1.3"/>
<rect x="189.05" y="129.08" width="6.4" height="11.72" fill="#fdb300" stroke="#157a42" stroke-width="1.6"/>
<line x1="192.25" y1="141.6" x2="192.25" y2="146.4" stroke="#000" stroke-width="1.3"/>
<line x1="39.5" y1="61.86" x2="39.5" y2="38.4" stroke="#000" stroke-width="0.6"/>
<line x1="37.7" y1="38.4" x2="41.3" y2="38.4" stroke="#000" stroke-width="0.6"/>
<circle cx="39.5" cy="44.9" r="1.2" fill="#000"/>
<circle cx="39.5" cy="51.9" r="1.2" fill="#000"/>
<circle cx="39.5" cy="87.8" r="1.2" fill="#000"/>
<text x="39.5" y="32.7" font-size="6.3" font-weight="normal" text-anchor="middle" fill="#000" letter-spacing="-0.3">*</text>
<circle cx="48.15" cy="123" r="1.2" fill="#000"/>
<circle cx="51.25" cy="123" r="1.2" fill="#000"/>
<circle cx="54.35" cy="123" r="1.2" fill="#000"/>
<line x1="63" y1="131.24" x2="63" y2="128" stroke="#000" stroke-width="0.6"/>
<line x1="61.2" y1="128" x2="64.8" y2="128" stroke="#000" stroke-width="0.6"/>
<circle cx="63" cy="129" r="1.2" fill="#000"/>
<circle cx="63" cy="133.4" r="1.2" fill="#000"/>
<text x="63" y="126" font-size="6.3" font-weight="normal" text-anchor="middle" fill="#000" letter-spacing="-0.3">**</text>
<line x1="74.75" y1="123.84" x2="74.75" y2="120.9" stroke="#000" stroke-width="0.6"/>
<line x1="72.95" y1="120.9" x2="76.55" y2="120.9" stroke="#000" stroke-width="0.6"/>
<circle cx="74.75" cy="123.5" r="1.2" fill="#000"/>
<circle cx="74.75" cy="125.6" r="1.2" fill="#000"/>
<line x1="86.5" y1="128.28" x2="86.5" y2="122.6" stroke="#000" stroke-width="0.6"/>
<line x1="84.7" y1="122.6" x2="88.3" y2="122.6" stroke="#000" stroke-width="0.6"/>
<circle cx="86.5" cy="122.6" r="1.2" fill="#000"/>
<circle cx="86.5" cy="129" r="1.2" fill="#000"/>
<circle cx="86.5" cy="130.8" r="1.2" fill="#000"/>
<line x1="98.25" y1="105.34" x2="98.25" y2="86.6" stroke="#000" stroke-width="0.6"/>
<line x1="96.45" y1="86.6" x2="100.05" y2="86.6" stroke="#000" stroke-width="0.6"/>
<circle cx="98.25" cy="86.6" r="1.2" fill="#000"/>
<circle cx="98.25" cy="106.5" r="1.2" fill="#000"/>
<circle cx="98.25" cy="122.1" r="1.2" fill="#000"/>
<line x1="110" y1="124.21" x2="110" y2="118.3" stroke="#000" stroke-width="0.6"/>
<line x1="108.2" y1="118.3" x2="111.8" y2="118.3" stroke="#000" stroke-width="0.6"/>
<circle cx="110" cy="118.3" r="1.2" fill="#000"/>
<circle cx="110" cy="123" r="1.2" fill="#000"/>
<circle cx="110" cy="130.4" r="1.2" fill="#000"/>
<line x1="121.75" y1="124.39" x2="121.75" y2="122" stroke="#000" stroke-width="0.6"/>
<line x1="119.95" y1="122" x2="123.55" y2="122" stroke="#000" stroke-width="0.6"/>
<circle cx="119.25" cy="122" r="1.2" fill="#000"/>
<circle cx="124.25" cy="122" r="1.2" fill="#000"/>
<circle cx="121.75" cy="127" r="1.2" fill="#000"/>
<line x1="133.5" y1="124.95" x2="133.5" y2="117.7" stroke="#000" stroke-width="0.6"/>
<line x1="131.7" y1="117.7" x2="135.3" y2="117.7" stroke="#000" stroke-width="0.6"/>
<circle cx="133.5" cy="117.7" r="1.2" fill="#000"/>
<circle cx="133.5" cy="123.8" r="1.2" fill="#000"/>
<circle cx="133.5" cy="130.8" r="1.2" fill="#000"/>
<line x1="145.25" y1="126.61" x2="145.25" y2="122.6" stroke="#000" stroke-width="0.6"/>
<line x1="143.45" y1="122.6" x2="147.05" y2="122.6" stroke="#000" stroke-width="0.6"/>
<circle cx="145.25" cy="124.7" r="1.2" fill="#000"/>
<circle cx="145.25" cy="130.8" r="1.2" fill="#000"/>
<line x1="157" y1="122.36" x2="157" y2="118.2" stroke="#000" stroke-width="0.6"/>
<line x1="155.2" y1="118.2" x2="158.8" y2="118.2" stroke="#000" stroke-width="0.6"/>
<circle cx="157" cy="118.2" r="1.2" fill="#000"/>
<circle cx="157" cy="121.2" r="1.2" fill="#000"/>
<circle cx="157" cy="126" r="1.2" fill="#000"/>
<line x1="168.75" y1="129.94" x2="168.75" y2="121.7" stroke="#000" stroke-width="0.6"/>
<line x1="166.95" y1="121.7" x2="170.55" y2="121.7" stroke="#000" stroke-width="0.6"/>
<circle cx="168.75" cy="121.7" r="1.2" fill="#000"/>
<circle cx="168.75" cy="133" r="1.2" fill="#000"/>
<line x1="180.5" y1="127.72" x2="180.5" y2="123.8" stroke="#000" stroke-width="0.6"/>
<line x1="178.7" y1="123.8" x2="182.3" y2="123.8" stroke="#000" stroke-width="0.6"/>
<circle cx="180.5" cy="123.8" r="1.2" fill="#000"/>
<circle cx="180.5" cy="129" r="1.2" fill="#000"/>
<line x1="192.25" y1="128.28" x2="192.25" y2="118.5" stroke="#000" stroke-width="0.6"/>
<line x1="190.45" y1="118.5" x2="194.05" y2="118.5" stroke="#000" stroke-width="0.6"/>
<circle cx="192.25" cy="118.5" r="1.2" fill="#000"/>
<circle cx="192.25" cy="132.6" r="1.2" fill="#000"/>
<line x1="31.8" y1="30" x2="31.8" y2="142.3" stroke="#000" stroke-width="1.5"/>
<line x1="27.3" y1="141.6" x2="31.8" y2="141.6" stroke="#000" stroke-width="1.1"/>
<text x="25.8" y="144.8" font-size="8.8" font-weight="bold" text-anchor="end" fill="#000">0</text>
<line x1="27.3" y1="104.6" x2="31.8" y2="104.6" stroke="#000" stroke-width="1.1"/>
<text x="25.8" y="107.8" font-size="8.8" font-weight="bold" text-anchor="end" fill="#000">2</text>
<line x1="27.3" y1="67.6" x2="31.8" y2="67.6" stroke="#000" stroke-width="1.1"/>
<text x="25.8" y="70.8" font-size="8.8" font-weight="bold" text-anchor="end" fill="#000">4</text>
<line x1="27.3" y1="30.6" x2="31.8" y2="30.6" stroke="#000" stroke-width="1.1"/>
<text x="25.8" y="33.8" font-size="8.8" font-weight="bold" text-anchor="end" fill="#000">6</text>
<line x1="31.1" y1="141.6" x2="200.7" y2="141.6" stroke="#000" stroke-width="1.4"/>
<text x="0" y="0" font-size="9.0" font-weight="bold" text-anchor="end" fill="#000" transform="translate(42.74,148) rotate(-90)">Delta</text>
<text x="0" y="0" font-size="9.0" font-weight="bold" text-anchor="end" fill="#000" transform="translate(54.49,148) rotate(-90)">Omicron</text>
<text x="0" y="0" font-size="9.0" font-weight="bold" text-anchor="end" fill="#000" transform="translate(66.24,148) rotate(-90)">NSP3</text>
<text x="0" y="0" font-size="9.0" font-weight="bold" text-anchor="end" fill="#000" transform="translate(77.99,148) rotate(-90)">NSP4</text>
<text x="0" y="0" font-size="9.0" font-weight="bold" text-anchor="end" fill="#000" transform="translate(89.74,148) rotate(-90)">NSP5</text>
<text x="0" y="0" font-size="9.0" font-weight="bold" text-anchor="end" fill="#000" transform="translate(101.49,148) rotate(-90)">NSP6</text>
<text x="0" y="0" font-size="9.0" font-weight="bold" text-anchor="end" fill="#000" transform="translate(113.24,148) rotate(-90)">NSP10</text>
<text x="0" y="0" font-size="9.0" font-weight="bold" text-anchor="end" fill="#000" transform="translate(124.99,148) rotate(-90)">NSP12</text>
<text x="0" y="0" font-size="9.0" font-weight="bold" text-anchor="end" fill="#000" transform="translate(136.74,148) rotate(-90)">NSP13</text>
<text x="0" y="0" font-size="9.0" font-weight="bold" text-anchor="end" fill="#000" transform="translate(148.49,148) rotate(-90)">NSP14</text>
<text x="0" y="0" font-size="9.0" font-weight="bold" text-anchor="end" fill="#000" transform="translate(160.24,148) rotate(-90)">EM</text>
<text x="0" y="0" font-size="9.0" font-weight="bold" text-anchor="end" fill="#000" transform="translate(171.99,148) rotate(-90)">Orf3-7</text>
<text x="0" y="0" font-size="9.0" font-weight="bold" text-anchor="end" fill="#000" transform="translate(183.74,148) rotate(-90)">Orf8</text>
<text x="0" y="0" font-size="9.0" font-weight="bold" text-anchor="end" fill="#000" transform="translate(195.49,148) rotate(-90)">N</text>
<path d="M59.4 181.6 Q127.3 179.8 195.2 181.6 L195.2 181.8 Q127.3 183.2 59.4 181.8 Z" fill="#111"/>
<text x="129.5" y="193" font-size="9.2" font-weight="bold" text-anchor="middle" fill="#000">Omicron - Delta</text>
<text x="0" y="0" font-size="12.6" font-weight="bold" text-anchor="middle" fill="#000" transform="translate(10.3,85.5) rotate(-90)">Normalized RLU</text>
<text x="1" y="9.7" font-size="12.5" font-weight="bold" text-anchor="start" fill="#000">A</text>
<text x="43.6" y="9.9" font-size="12.4" font-weight="bold" text-anchor="start" fill="#000">Transfected BHK-21 cells</text>
<rect x="277" y="41.34" width="7" height="101.06" fill="#0f8a5f"/>
<line x1="280.5" y1="142.4" x2="280.5" y2="147.2" stroke="#000" stroke-width="1.3"/>
<rect x="288.65" y="87" width="7" height="55.4" fill="#fdb300"/>
<line x1="292.15" y1="142.4" x2="292.15" y2="147.2" stroke="#000" stroke-width="1.3"/>
<rect x="300.7" y="84.37" width="6.2" height="57.23" fill="#fdb300" stroke="#157a42" stroke-width="1.6"/>
<line x1="303.8" y1="142.4" x2="303.8" y2="147.2" stroke="#000" stroke-width="1.3"/>
<rect x="312.35" y="88.29" width="6.2" height="53.31" fill="#fdb300" stroke="#157a42" stroke-width="1.6"/>
<line x1="315.45" y1="142.4" x2="315.45" y2="147.2" stroke="#000" stroke-width="1.3"/>
<rect x="324" y="134.27" width="6.2" height="7.33" fill="#fdb300" stroke="#157a42" stroke-width="1.6"/>
<line x1="327.1" y1="142.4" x2="327.1" y2="147.2" stroke="#000" stroke-width="1.3"/>
<rect x="335.65" y="56.85" width="6.2" height="84.75" fill="#fdb300" stroke="#157a42" stroke-width="1.6"/>
<line x1="338.75" y1="142.4" x2="338.75" y2="147.2" stroke="#000" stroke-width="1.3"/>
<rect x="347.3" y="86.87" width="6.2" height="54.73" fill="#fdb300" stroke="#157a42" stroke-width="1.6"/>
<line x1="350.4" y1="142.4" x2="350.4" y2="147.2" stroke="#000" stroke-width="1.3"/>
<rect x="358.95" y="86.87" width="6.2" height="54.73" fill="#fdb300" stroke="#157a42" stroke-width="1.6"/>
<line x1="362.05" y1="142.4" x2="362.05" y2="147.2" stroke="#000" stroke-width="1.3"/>
<rect x="370.6" y="99.13" width="6.2" height="42.47" fill="#fdb300" stroke="#157a42" stroke-width="1.6"/>
<line x1="373.7" y1="142.4" x2="373.7" y2="147.2" stroke="#000" stroke-width="1.3"/>
<rect x="382.25" y="74.95" width="6.2" height="66.65" fill="#fdb300" stroke="#157a42" stroke-width="1.6"/>
<line x1="385.35" y1="142.4" x2="385.35" y2="147.2" stroke="#000" stroke-width="1.3"/>
<rect x="393.9" y="78.59" width="6.2" height="63.01" fill="#fdb300" stroke="#157a42" stroke-width="1.6"/>
<line x1="397" y1="142.4" x2="397" y2="147.2" stroke="#000" stroke-width="1.3"/>
<rect x="405.55" y="81.07" width="6.2" height="60.53" fill="#fdb300" stroke="#157a42" stroke-width="1.6"/>
<line x1="408.65" y1="142.4" x2="408.65" y2="147.2" stroke="#000" stroke-width="1.3"/>
<rect x="417.2" y="90.19" width="6.2" height="51.41" fill="#fdb300" stroke="#157a42" stroke-width="1.6"/>
<line x1="420.3" y1="142.4" x2="420.3" y2="147.2" stroke="#000" stroke-width="1.3"/>
<rect x="428.85" y="89.41" width="6.2" height="52.19" fill="#fdb300" stroke="#157a42" stroke-width="1.6"/>
<line x1="431.95" y1="142.4" x2="431.95" y2="147.2" stroke="#000" stroke-width="1.3"/>
<line x1="280.5" y1="41.34" x2="280.5" y2="36.9" stroke="#000" stroke-width="0.6"/>
<line x1="278.7" y1="36.9" x2="282.3" y2="36.9" stroke="#000" stroke-width="0.6"/>
<circle cx="277.3" cy="36.9" r="1.2" fill="#000"/>
<circle cx="283.7" cy="36.9" r="1.2" fill="#000"/>
<circle cx="280.5" cy="45.8" r="1.2" fill="#000"/>
<circle cx="280.5" cy="53.5" r="1.2" fill="#000"/>
<text x="280.5" y="31.6" font-size="6.3" font-weight="normal" text-anchor="middle" fill="#000" letter-spacing="-0.3">**</text>
<circle cx="289.05" cy="86.9" r="1.2" fill="#000"/>
<circle cx="292.15" cy="86.9" r="1.2" fill="#000"/>
<circle cx="295.25" cy="86.9" r="1.2" fill="#000"/>
<line x1="303.8" y1="83.57" x2="303.8" y2="75.5" stroke="#000" stroke-width="0.6"/>
<line x1="302" y1="75.5" x2="305.6" y2="75.5" stroke="#000" stroke-width="0.6"/>
<circle cx="303.8" cy="71.6" r="1.2" fill="#000"/>
<circle cx="303.8" cy="90.7" r="1.2" fill="#000"/>
<circle cx="303.8" cy="94.3" r="1.2" fill="#000"/>
<line x1="315.45" y1="87.49" x2="315.45" y2="84.4" stroke="#000" stroke-width="0.6"/>
<line x1="313.65" y1="84.4" x2="317.25" y2="84.4" stroke="#000" stroke-width="0.6"/>
<circle cx="315.45" cy="84.4" r="1.2" fill="#000"/>
<circle cx="313.65" cy="86.5" r="1.2" fill="#000"/>
<circle cx="317.25" cy="87.5" r="1.2" fill="#000"/>
<line x1="327.1" y1="133.47" x2="327.1" y2="124.9" stroke="#000" stroke-width="0.6"/>
<line x1="325.3" y1="124.9" x2="328.9" y2="124.9" stroke="#000" stroke-width="0.6"/>
<circle cx="327.1" cy="121.2" r="1.2" fill="#000"/>
<circle cx="327.1" cy="129.6" r="1.2" fill="#000"/>
<circle cx="327.1" cy="140.7" r="1.2" fill="#000"/>
<text x="327.1" y="118.5" font-size="6.3" font-weight="normal" text-anchor="middle" fill="#000" letter-spacing="-0.3">****</text>
<line x1="338.75" y1="56.05" x2="338.75" y2="49.7" stroke="#000" stroke-width="0.6"/>
<line x1="336.95" y1="49.7" x2="340.55" y2="49.7" stroke="#000" stroke-width="0.6"/>
<circle cx="338.75" cy="47.7" r="1.2" fill="#000"/>
<circle cx="338.75" cy="54.7" r="1.2" fill="#000"/>
<circle cx="338.75" cy="64.4" r="1.2" fill="#000"/>
<circle cx="338.75" cy="72.7" r="1.2" fill="#000"/>
<text x="338.75" y="43" font-size="6.3" font-weight="normal" text-anchor="middle" fill="#000" letter-spacing="-0.3">*</text>
<line x1="350.4" y1="86.07" x2="350.4" y2="80.5" stroke="#000" stroke-width="0.6"/>
<line x1="348.6" y1="80.5" x2="352.2" y2="80.5" stroke="#000" stroke-width="0.6"/>
<circle cx="350.4" cy="77.4" r="1.2" fill="#000"/>
<circle cx="350.4" cy="90.7" r="1.2" fill="#000"/>
<circle cx="350.4" cy="92.7" r="1.2" fill="#000"/>
<line x1="362.05" y1="86.07" x2="362.05" y2="82.4" stroke="#000" stroke-width="0.6"/>
<line x1="360.25" y1="82.4" x2="363.85" y2="82.4" stroke="#000" stroke-width="0.6"/>
<circle cx="359.55" cy="82.4" r="1.2" fill="#000"/>
<circle cx="364.55" cy="82.4" r="1.2" fill="#000"/>
<circle cx="362.05" cy="89.3" r="1.2" fill="#000"/>
<circle cx="362.05" cy="103.8" r="1.2" fill="#000"/>
<line x1="373.7" y1="98.33" x2="373.7" y2="89.3" stroke="#000" stroke-width="0.6"/>
<line x1="371.9" y1="89.3" x2="375.5" y2="89.3" stroke="#000" stroke-width="0.6"/>
<circle cx="373.7" cy="85.7" r="1.2" fill="#000"/>
<circle cx="373.7" cy="104.6" r="1.2" fill="#000"/>
<circle cx="371.7" cy="108.8" r="1.2" fill="#000"/>
<circle cx="375.7" cy="109.6" r="1.2" fill="#000"/>
<text x="373.7" y="81.3" font-size="6.3" font-weight="normal" text-anchor="middle" fill="#000" letter-spacing="-0.3">*</text>
<line x1="385.35" y1="74.15" x2="385.35" y2="67.2" stroke="#000" stroke-width="0.6"/>
<line x1="383.55" y1="67.2" x2="387.15" y2="67.2" stroke="#000" stroke-width="0.6"/>
<circle cx="385.35" cy="63.8" r="1.2" fill="#000"/>
<circle cx="385.35" cy="76.9" r="1.2" fill="#000"/>
<circle cx="385.35" cy="81.6" r="1.2" fill="#000"/>
<circle cx="385.35" cy="83.8" r="1.2" fill="#000"/>
<line x1="397" y1="77.79" x2="397" y2="76.9" stroke="#000" stroke-width="0.6"/>
<line x1="395.2" y1="76.9" x2="398.8" y2="76.9" stroke="#000" stroke-width="0.6"/>
<circle cx="397" cy="78.3" r="1.2" fill="#000"/>
<circle cx="397" cy="84.4" r="1.2" fill="#000"/>
<circle cx="399" cy="79" r="1.2" fill="#000"/>
<text x="397" y="72.1" font-size="6.3" font-weight="normal" text-anchor="middle" fill="#000" letter-spacing="-0.3">**</text>
<line x1="408.65" y1="80.27" x2="408.65" y2="74.9" stroke="#000" stroke-width="0.6"/>
<line x1="406.85" y1="74.9" x2="410.45" y2="74.9" stroke="#000" stroke-width="0.6"/>
<circle cx="408.65" cy="71.3" r="1.2" fill="#000"/>
<circle cx="408.65" cy="82.4" r="1.2" fill="#000"/>
<circle cx="408.65" cy="88" r="1.2" fill="#000"/>
<circle cx="408.65" cy="94.9" r="1.2" fill="#000"/>
<line x1="420.3" y1="89.39" x2="420.3" y2="84.4" stroke="#000" stroke-width="0.6"/>
<line x1="418.5" y1="84.4" x2="422.1" y2="84.4" stroke="#000" stroke-width="0.6"/>
<circle cx="420.3" cy="81.6" r="1.2" fill="#000"/>
<circle cx="420.3" cy="91.6" r="1.2" fill="#000"/>
<circle cx="422.3" cy="92.7" r="1.2" fill="#000"/>
<line x1="431.95" y1="88.61" x2="431.95" y2="81.6" stroke="#000" stroke-width="0.6"/>
<line x1="430.15" y1="81.6" x2="433.75" y2="81.6" stroke="#000" stroke-width="0.6"/>
<circle cx="431.95" cy="78.3" r="1.2" fill="#000"/>
<circle cx="431.95" cy="92.7" r="1.2" fill="#000"/>
<circle cx="431.95" cy="108.2" r="1.2" fill="#000"/>
<line x1="272" y1="31" x2="272" y2="143.1" stroke="#000" stroke-width="1.5"/>
<line x1="267.5" y1="142.4" x2="272" y2="142.4" stroke="#000" stroke-width="1.1"/>
<text x="266" y="145.6" font-size="8.8" font-weight="bold" text-anchor="end" fill="#000">0.01</text>
<line x1="267.5" y1="114.7" x2="272" y2="114.7" stroke="#000" stroke-width="1.1"/>
<text x="266" y="117.9" font-size="8.8" font-weight="bold" text-anchor="end" fill="#000">0.1</text>
<line x1="267.5" y1="87" x2="272" y2="87" stroke="#000" stroke-width="1.1"/>
<text x="266" y="90.2" font-size="8.8" font-weight="bold" text-anchor="end" fill="#000">1</text>
<line x1="267.5" y1="59.3" x2="272" y2="59.3" stroke="#000" stroke-width="1.1"/>
<text x="266" y="62.5" font-size="8.8" font-weight="bold" text-anchor="end" fill="#000">10</text>
<line x1="267.5" y1="31.6" x2="272" y2="31.6" stroke="#000" stroke-width="1.1"/>
<text x="266" y="34.8" font-size="8.8" font-weight="bold" text-anchor="end" fill="#000">100</text>
<line x1="269.6" y1="134.06" x2="272" y2="134.06" stroke="#000" stroke-width="0.85"/>
<line x1="269.6" y1="129.18" x2="272" y2="129.18" stroke="#000" stroke-width="0.85"/>
<line x1="269.6" y1="125.72" x2="272" y2="125.72" stroke="#000" stroke-width="0.85"/>
<line x1="269.6" y1="123.04" x2="272" y2="123.04" stroke="#000" stroke-width="0.85"/>
<line x1="269.6" y1="120.85" x2="272" y2="120.85" stroke="#000" stroke-width="0.85"/>
<line x1="269.6" y1="118.99" x2="272" y2="118.99" stroke="#000" stroke-width="0.85"/>
<line x1="269.6" y1="117.38" x2="272" y2="117.38" stroke="#000" stroke-width="0.85"/>
<line x1="269.6" y1="115.97" x2="272" y2="115.97" stroke="#000" stroke-width="0.85"/>
<line x1="269.6" y1="106.36" x2="272" y2="106.36" stroke="#000" stroke-width="0.85"/>
<line x1="269.6" y1="101.48" x2="272" y2="101.48" stroke="#000" stroke-width="0.85"/>
<line x1="269.6" y1="98.02" x2="272" y2="98.02" stroke="#000" stroke-width="0.85"/>
<line x1="269.6" y1="95.34" x2="272" y2="95.34" stroke="#000" stroke-width="0.85"/>
<line x1="269.6" y1="93.15" x2="272" y2="93.15" stroke="#000" stroke-width="0.85"/>
<line x1="269.6" y1="91.29" x2="272" y2="91.29" stroke="#000" stroke-width="0.85"/>
<line x1="269.6" y1="89.68" x2="272" y2="89.68" stroke="#000" stroke-width="0.85"/>
<line x1="269.6" y1="88.27" x2="272" y2="88.27" stroke="#000" stroke-width="0.85"/>
<line x1="269.6" y1="78.66" x2="272" y2="78.66" stroke="#000" stroke-width="0.85"/>
<line x1="269.6" y1="73.78" x2="272" y2="73.78" stroke="#000" stroke-width="0.85"/>
<line x1="269.6" y1="70.32" x2="272" y2="70.32" stroke="#000" stroke-width="0.85"/>
<line x1="269.6" y1="67.64" x2="272" y2="67.64" stroke="#000" stroke-width="0.85"/>
<line x1="269.6" y1="65.45" x2="272" y2="65.45" stroke="#000" stroke-width="0.85"/>
<line x1="269.6" y1="63.59" x2="272" y2="63.59" stroke="#000" stroke-width="0.85"/>
<line x1="269.6" y1="61.98" x2="272" y2="61.98" stroke="#000" stroke-width="0.85"/>
<line x1="269.6" y1="60.57" x2="272" y2="60.57" stroke="#000" stroke-width="0.85"/>
<line x1="269.6" y1="50.96" x2="272" y2="50.96" stroke="#000" stroke-width="0.85"/>
<line x1="269.6" y1="46.08" x2="272" y2="46.08" stroke="#000" stroke-width="0.85"/>
<line x1="269.6" y1="42.62" x2="272" y2="42.62" stroke="#000" stroke-width="0.85"/>
<line x1="269.6" y1="39.94" x2="272" y2="39.94" stroke="#000" stroke-width="0.85"/>
<line x1="269.6" y1="37.75" x2="272" y2="37.75" stroke="#000" stroke-width="0.85"/>
<line x1="269.6" y1="35.89" x2="272" y2="35.89" stroke="#000" stroke-width="0.85"/>
<line x1="269.6" y1="34.28" x2="272" y2="34.28" stroke="#000" stroke-width="0.85"/>
<line x1="269.6" y1="32.87" x2="272" y2="32.87" stroke="#000" stroke-width="0.85"/>
<line x1="271.3" y1="142.4" x2="440.3" y2="142.4" stroke="#000" stroke-width="1.4"/>
<text x="0" y="0" font-size="9.0" font-weight="bold" text-anchor="end" fill="#000" transform="translate(283.74,148.5) rotate(-90)">Delta</text>
<text x="0" y="0" font-size="9.0" font-weight="bold" text-anchor="end" fill="#000" transform="translate(295.39,148.5) rotate(-90)">Omicron</text>
<text x="0" y="0" font-size="9.0" font-weight="bold" text-anchor="end" fill="#000" transform="translate(307.04,148.5) rotate(-90)">NSP3</text>
<text x="0" y="0" font-size="9.0" font-weight="bold" text-anchor="end" fill="#000" transform="translate(318.69,148.5) rotate(-90)">NSP4</text>
<text x="0" y="0" font-size="9.0" font-weight="bold" text-anchor="end" fill="#000" transform="translate(330.34,148.5) rotate(-90)">NSP5</text>
<text x="0" y="0" font-size="9.0" font-weight="bold" text-anchor="end" fill="#000" transform="translate(341.99,148.5) rotate(-90)">NSP6</text>
<text x="0" y="0" font-size="9.0" font-weight="bold" text-anchor="end" fill="#000" transform="translate(353.64,148.5) rotate(-90)">NSP10</text>
<text x="0" y="0" font-size="9.0" font-weight="bold" text-anchor="end" fill="#000" transform="translate(365.29,148.5) rotate(-90)">NSP12</text>
<text x="0" y="0" font-size="9.0" font-weight="bold" text-anchor="end" fill="#000" transform="translate(376.94,148.5) rotate(-90)">NSP13</text>
<text x="0" y="0" font-size="9.0" font-weight="bold" text-anchor="end" fill="#000" transform="translate(388.59,148.5) rotate(-90)">NSP14</text>
<text x="0" y="0" font-size="9.0" font-weight="bold" text-anchor="end" fill="#000" transform="translate(400.24,148.5) rotate(-90)">EM</text>
<text x="0" y="0" font-size="9.0" font-weight="bold" text-anchor="end" fill="#000" transform="translate(411.89,148.5) rotate(-90)">Orf3-7</text>
<text x="0" y="0" font-size="9.0" font-weight="bold" text-anchor="end" fill="#000" transform="translate(423.54,148.5) rotate(-90)">Orf8</text>
<text x="0" y="0" font-size="9.0" font-weight="bold" text-anchor="end" fill="#000" transform="translate(435.19,148.5) rotate(-90)">N</text>
<path d="M300.6 181.5 Q367.75 179.7 434.9 181.5 L434.9 181.7 Q367.75 183.1 300.6 181.7 Z" fill="#111"/>
<text x="366.7" y="193" font-size="9.2" font-weight="bold" text-anchor="middle" fill="#000">Omicron - Delta</text>
<text x="0" y="0" font-size="12.6" font-weight="bold" text-anchor="middle" fill="#000" transform="translate(239.3,86.8) rotate(-90)">Normalized RLU</text>
<text x="220.3" y="9.8" font-size="12.5" font-weight="bold" text-anchor="start" fill="#000">B</text>
<text x="249.7" y="14.7" font-size="12.4" font-weight="bold" text-anchor="start" fill="#000">Infected Vero ACE2 TMPRSS2 cells</text>
<rect x="515" y="57.02" width="7" height="85.38" fill="#0f8a5f"/>
<line x1="518.5" y1="142.4" x2="518.5" y2="147.2" stroke="#000" stroke-width="1.3"/>
<rect x="526.58" y="106.22" width="7.1" height="36.18" fill="#fdb300"/>
<line x1="530.13" y1="142.4" x2="530.13" y2="147.2" stroke="#000" stroke-width="1.3"/>
<rect x="538.61" y="113.37" width="6.3" height="28.23" fill="#fdb300" stroke="#157a42" stroke-width="1.6"/>
<line x1="541.76" y1="142.4" x2="541.76" y2="147.2" stroke="#000" stroke-width="1.3"/>
<rect x="550.24" y="106.52" width="6.3" height="35.08" fill="#fdb300" stroke="#157a42" stroke-width="1.6"/>
<line x1="553.39" y1="142.4" x2="553.39" y2="147.2" stroke="#000" stroke-width="1.3"/>
<rect x="561.87" y="121.33" width="6.3" height="20.27" fill="#fdb300" stroke="#157a42" stroke-width="1.6"/>
<line x1="565.02" y1="142.4" x2="565.02" y2="147.2" stroke="#000" stroke-width="1.3"/>
<rect x="573.5" y="82.8" width="6.3" height="58.8" fill="#fdb300" stroke="#157a42" stroke-width="1.6"/>
<line x1="576.65" y1="142.4" x2="576.65" y2="147.2" stroke="#000" stroke-width="1.3"/>
<rect x="585.13" y="116.1" width="6.3" height="25.5" fill="#fdb300" stroke="#157a42" stroke-width="1.6"/>
<line x1="588.28" y1="142.4" x2="588.28" y2="147.2" stroke="#000" stroke-width="1.3"/>
<rect x="596.76" y="114.68" width="6.3" height="26.92" fill="#fdb300" stroke="#157a42" stroke-width="1.6"/>
<line x1="599.91" y1="142.4" x2="599.91" y2="147.2" stroke="#000" stroke-width="1.3"/>
<rect x="608.39" y="108.44" width="6.3" height="33.16" fill="#fdb300" stroke="#157a42" stroke-width="1.6"/>
<line x1="611.54" y1="142.4" x2="611.54" y2="147.2" stroke="#000" stroke-width="1.3"/>
<rect x="620.02" y="114.14" width="6.3" height="27.46" fill="#fdb300" stroke="#157a42" stroke-width="1.6"/>
<line x1="623.17" y1="142.4" x2="623.17" y2="147.2" stroke="#000" stroke-width="1.3"/>
<rect x="631.65" y="92.82" width="6.3" height="48.78" fill="#fdb300" stroke="#157a42" stroke-width="1.6"/>
<line x1="634.8" y1="142.4" x2="634.8" y2="147.2" stroke="#000" stroke-width="1.3"/>
<rect x="643.28" y="110.82" width="6.3" height="30.78" fill="#fdb300" stroke="#157a42" stroke-width="1.6"/>
<line x1="646.43" y1="142.4" x2="646.43" y2="147.2" stroke="#000" stroke-width="1.3"/>
<rect x="654.91" y="124.01" width="6.3" height="17.59" fill="#fdb300" stroke="#157a42" stroke-width="1.6"/>
<line x1="658.06" y1="142.4" x2="658.06" y2="147.2" stroke="#000" stroke-width="1.3"/>
<rect x="666.54" y="132.89" width="6.3" height="8.71" fill="#fdb300" stroke="#157a42" stroke-width="1.6"/>
<line x1="669.69" y1="142.4" x2="669.69" y2="147.2" stroke="#000" stroke-width="1.3"/>
<line x1="518.5" y1="57.02" x2="518.5" y2="56.4" stroke="#000" stroke-width="0.6"/>
<line x1="516.7" y1="56.4" x2="520.3" y2="56.4" stroke="#000" stroke-width="0.6"/>
<circle cx="515.9" cy="56.4" r="1.2" fill="#000"/>
<circle cx="521.1" cy="56.4" r="1.2" fill="#000"/>
<circle cx="518.5" cy="58.4" r="1.2" fill="#000"/>
<text x="518.5" y="51.5" font-size="6.3" font-weight="normal" text-anchor="middle" fill="#000" letter-spacing="-0.3">****</text>
<circle cx="527.03" cy="106.8" r="1.2" fill="#000"/>
<circle cx="530.13" cy="106.8" r="1.2" fill="#000"/>
<circle cx="533.23" cy="106.8" r="1.2" fill="#000"/>
<line x1="541.76" y1="112.57" x2="541.76" y2="108.2" stroke="#000" stroke-width="0.6"/>
<line x1="539.96" y1="108.2" x2="543.56" y2="108.2" stroke="#000" stroke-width="0.6"/>
<circle cx="541.76" cy="108.2" r="1.2" fill="#000"/>
<circle cx="541.76" cy="116.8" r="1.2" fill="#000"/>
<text x="541.76" y="104.2" font-size="6.3" font-weight="normal" text-anchor="middle" fill="#000" letter-spacing="-0.3">*</text>
<circle cx="550.29" cy="105.4" r="1.2" fill="#000"/>
<circle cx="553.39" cy="105.4" r="1.2" fill="#000"/>
<circle cx="556.49" cy="105.4" r="1.2" fill="#000"/>
<line x1="565.02" y1="120.53" x2="565.02" y2="118.2" stroke="#000" stroke-width="0.6"/>
<line x1="563.22" y1="118.2" x2="566.82" y2="118.2" stroke="#000" stroke-width="0.6"/>
<circle cx="565.02" cy="121" r="1.2" fill="#000"/>
<circle cx="565.02" cy="123.9" r="1.2" fill="#000"/>
<text x="565.02" y="115.6" font-size="6.3" font-weight="normal" text-anchor="middle" fill="#000" letter-spacing="-0.3">****</text>
<line x1="576.65" y1="82" x2="576.65" y2="79.2" stroke="#000" stroke-width="0.6"/>
<line x1="574.85" y1="79.2" x2="578.45" y2="79.2" stroke="#000" stroke-width="0.6"/>
<circle cx="574.15" cy="79.2" r="1.2" fill="#000"/>
<circle cx="579.15" cy="79.2" r="1.2" fill="#000"/>
<circle cx="576.65" cy="85.5" r="1.2" fill="#000"/>
<text x="576.65" y="74.9" font-size="6.3" font-weight="normal" text-anchor="middle" fill="#000" letter-spacing="-0.3">****</text>
<line x1="588.28" y1="115.3" x2="588.28" y2="112.5" stroke="#000" stroke-width="0.6"/>
<line x1="586.48" y1="112.5" x2="590.08" y2="112.5" stroke="#000" stroke-width="0.6"/>
<circle cx="588.28" cy="118.2" r="1.2" fill="#000"/>
<text x="588.28" y="109.9" font-size="6.3" font-weight="normal" text-anchor="middle" fill="#000" letter-spacing="-0.3">***</text>
<line x1="599.91" y1="113.88" x2="599.91" y2="112.5" stroke="#000" stroke-width="0.6"/>
<line x1="598.11" y1="112.5" x2="601.71" y2="112.5" stroke="#000" stroke-width="0.6"/>
<circle cx="597.91" cy="113.9" r="1.2" fill="#000"/>
<circle cx="601.91" cy="113.9" r="1.2" fill="#000"/>
<circle cx="599.91" cy="115.5" r="1.2" fill="#000"/>
<text x="599.91" y="110.4" font-size="6.3" font-weight="normal" text-anchor="middle" fill="#000" letter-spacing="-0.3">****</text>
<line x1="611.54" y1="107.64" x2="611.54" y2="104.8" stroke="#000" stroke-width="0.6"/>
<line x1="609.74" y1="104.8" x2="613.34" y2="104.8" stroke="#000" stroke-width="0.6"/>
<circle cx="611.54" cy="108.2" r="1.2" fill="#000"/>
<circle cx="611.54" cy="110.5" r="1.2" fill="#000"/>
<line x1="623.17" y1="113.34" x2="623.17" y2="111.7" stroke="#000" stroke-width="0.6"/>
<line x1="621.37" y1="111.7" x2="624.97" y2="111.7" stroke="#000" stroke-width="0.6"/>
<circle cx="623.17" cy="113.9" r="1.2" fill="#000"/>
<circle cx="623.17" cy="115.4" r="1.2" fill="#000"/>
<text x="623.17" y="109.9" font-size="6.3" font-weight="normal" text-anchor="middle" fill="#000" letter-spacing="-0.3">****</text>
<line x1="634.8" y1="92.02" x2="634.8" y2="86.9" stroke="#000" stroke-width="0.6"/>
<line x1="633" y1="86.9" x2="636.6" y2="86.9" stroke="#000" stroke-width="0.6"/>
<circle cx="634.8" cy="91.2" r="1.2" fill="#000"/>
<circle cx="634.8" cy="99.7" r="1.2" fill="#000"/>
<text x="634.8" y="84.8" font-size="6.3" font-weight="normal" text-anchor="middle" fill="#000" letter-spacing="-0.3">**</text>
<line x1="646.43" y1="110.02" x2="646.43" y2="109.7" stroke="#000" stroke-width="0.6"/>
<line x1="644.63" y1="109.7" x2="648.23" y2="109.7" stroke="#000" stroke-width="0.6"/>
<circle cx="644.03" cy="109.7" r="1.2" fill="#000"/>
<circle cx="648.83" cy="109.7" r="1.2" fill="#000"/>
<text x="646.43" y="107" font-size="6.3" font-weight="normal" text-anchor="middle" fill="#000" letter-spacing="-0.3">***</text>
<line x1="658.06" y1="123.21" x2="658.06" y2="119.1" stroke="#000" stroke-width="0.6"/>
<line x1="656.26" y1="119.1" x2="659.86" y2="119.1" stroke="#000" stroke-width="0.6"/>
<circle cx="658.06" cy="129.6" r="1.2" fill="#000"/>
<text x="658.06" y="117.6" font-size="6.3" font-weight="normal" text-anchor="middle" fill="#000" letter-spacing="-0.3">****</text>
<line x1="669.69" y1="132.09" x2="669.69" y2="130.4" stroke="#000" stroke-width="0.6"/>
<line x1="667.89" y1="130.4" x2="671.49" y2="130.4" stroke="#000" stroke-width="0.6"/>
<circle cx="669.69" cy="131" r="1.2" fill="#000"/>
<circle cx="669.69" cy="135.3" r="1.2" fill="#000"/>
<text x="669.69" y="128.1" font-size="6.3" font-weight="normal" text-anchor="middle" fill="#000" letter-spacing="-0.3">****</text>
<line x1="511" y1="30.8" x2="511" y2="143.1" stroke="#000" stroke-width="1.5"/>
<line x1="506.5" y1="142.4" x2="511" y2="142.4" stroke="#000" stroke-width="1.1"/>
<text x="505" y="145.6" font-size="8.8" font-weight="bold" text-anchor="end" fill="#000">0.1</text>
<line x1="506.5" y1="105.4" x2="511" y2="105.4" stroke="#000" stroke-width="1.1"/>
<text x="505" y="108.6" font-size="8.8" font-weight="bold" text-anchor="end" fill="#000">1</text>
<line x1="506.5" y1="68.4" x2="511" y2="68.4" stroke="#000" stroke-width="1.1"/>
<text x="505" y="71.6" font-size="8.8" font-weight="bold" text-anchor="end" fill="#000">10</text>
<line x1="506.5" y1="31.4" x2="511" y2="31.4" stroke="#000" stroke-width="1.1"/>
<text x="505" y="34.6" font-size="8.8" font-weight="bold" text-anchor="end" fill="#000">100</text>
<line x1="508.6" y1="131.26" x2="511" y2="131.26" stroke="#000" stroke-width="0.85"/>
<line x1="508.6" y1="124.75" x2="511" y2="124.75" stroke="#000" stroke-width="0.85"/>
<line x1="508.6" y1="120.12" x2="511" y2="120.12" stroke="#000" stroke-width="0.85"/>
<line x1="508.6" y1="116.54" x2="511" y2="116.54" stroke="#000" stroke-width="0.85"/>
<line x1="508.6" y1="113.61" x2="511" y2="113.61" stroke="#000" stroke-width="0.85"/>
<line x1="508.6" y1="111.13" x2="511" y2="111.13" stroke="#000" stroke-width="0.85"/>
<line x1="508.6" y1="108.99" x2="511" y2="108.99" stroke="#000" stroke-width="0.85"/>
<line x1="508.6" y1="107.09" x2="511" y2="107.09" stroke="#000" stroke-width="0.85"/>
<line x1="508.6" y1="94.26" x2="511" y2="94.26" stroke="#000" stroke-width="0.85"/>
<line x1="508.6" y1="87.75" x2="511" y2="87.75" stroke="#000" stroke-width="0.85"/>
<line x1="508.6" y1="83.12" x2="511" y2="83.12" stroke="#000" stroke-width="0.85"/>
<line x1="508.6" y1="79.54" x2="511" y2="79.54" stroke="#000" stroke-width="0.85"/>
<line x1="508.6" y1="76.61" x2="511" y2="76.61" stroke="#000" stroke-width="0.85"/>
<line x1="508.6" y1="74.13" x2="511" y2="74.13" stroke="#000" stroke-width="0.85"/>
<line x1="508.6" y1="71.99" x2="511" y2="71.99" stroke="#000" stroke-width="0.85"/>
<line x1="508.6" y1="70.09" x2="511" y2="70.09" stroke="#000" stroke-width="0.85"/>
<line x1="508.6" y1="57.26" x2="511" y2="57.26" stroke="#000" stroke-width="0.85"/>
<line x1="508.6" y1="50.75" x2="511" y2="50.75" stroke="#000" stroke-width="0.85"/>
<line x1="508.6" y1="46.12" x2="511" y2="46.12" stroke="#000" stroke-width="0.85"/>
<line x1="508.6" y1="42.54" x2="511" y2="42.54" stroke="#000" stroke-width="0.85"/>
<line x1="508.6" y1="39.61" x2="511" y2="39.61" stroke="#000" stroke-width="0.85"/>
<line x1="508.6" y1="37.13" x2="511" y2="37.13" stroke="#000" stroke-width="0.85"/>
<line x1="508.6" y1="34.99" x2="511" y2="34.99" stroke="#000" stroke-width="0.85"/>
<line x1="508.6" y1="33.09" x2="511" y2="33.09" stroke="#000" stroke-width="0.85"/>
<line x1="510.3" y1="142.4" x2="677.9" y2="142.4" stroke="#000" stroke-width="1.4"/>
<text x="0" y="0" font-size="9.0" font-weight="bold" text-anchor="end" fill="#000" transform="translate(521.74,148.5) rotate(-90)">Delta</text>
<text x="0" y="0" font-size="9.0" font-weight="bold" text-anchor="end" fill="#000" transform="translate(533.37,148.5) rotate(-90)">Omicron</text>
<text x="0" y="0" font-size="9.0" font-weight="bold" text-anchor="end" fill="#000" transform="translate(545,148.5) rotate(-90)">NSP3</text>
<text x="0" y="0" font-size="9.0" font-weight="bold" text-anchor="end" fill="#000" transform="translate(556.63,148.5) rotate(-90)">NSP4</text>
<text x="0" y="0" font-size="9.0" font-weight="bold" text-anchor="end" fill="#000" transform="translate(568.26,148.5) rotate(-90)">NSP5</text>
<text x="0" y="0" font-size="9.0" font-weight="bold" text-anchor="end" fill="#000" transform="translate(579.89,148.5) rotate(-90)">NSP6</text>
<text x="0" y="0" font-size="9.0" font-weight="bold" text-anchor="end" fill="#000" transform="translate(591.52,148.5) rotate(-90)">NSP10</text>
<text x="0" y="0" font-size="9.0" font-weight="bold" text-anchor="end" fill="#000" transform="translate(603.15,148.5) rotate(-90)">NSP12</text>
<text x="0" y="0" font-size="9.0" font-weight="bold" text-anchor="end" fill="#000" transform="translate(614.78,148.5) rotate(-90)">NSP13</text>
<text x="0" y="0" font-size="9.0" font-weight="bold" text-anchor="end" fill="#000" transform="translate(626.41,148.5) rotate(-90)">NSP14</text>
<text x="0" y="0" font-size="9.0" font-weight="bold" text-anchor="end" fill="#000" transform="translate(638.04,148.5) rotate(-90)">EM</text>
<text x="0" y="0" font-size="9.0" font-weight="bold" text-anchor="end" fill="#000" transform="translate(649.67,148.5) rotate(-90)">Orf3-7</text>
<text x="0" y="0" font-size="9.0" font-weight="bold" text-anchor="end" fill="#000" transform="translate(661.3,148.5) rotate(-90)">Orf8</text>
<text x="0" y="0" font-size="9.0" font-weight="bold" text-anchor="end" fill="#000" transform="translate(672.93,148.5) rotate(-90)">N</text>
<path d="M538.8 181 Q606.15 179.2 673.5 181 L673.5 181.2 Q606.15 182.6 538.8 181.2 Z" fill="#111"/>
<text x="604.5" y="192.6" font-size="9.2" font-weight="bold" text-anchor="middle" fill="#000">Omicron - Delta</text>
<text x="0" y="0" font-size="12.6" font-weight="bold" text-anchor="middle" fill="#000" transform="translate(484.1,86) rotate(-90)">Normalized RLU</text>
<text x="535.2" y="14.7" font-size="12.65" font-weight="bold" text-anchor="start" fill="#000">Infected Calu3 cells</text>
<rect x="38.7" y="315.4" width="10.4" height="46.5" fill="#0f8a5f"/>
<line x1="43.9" y1="361.9" x2="43.9" y2="366.7" stroke="#000" stroke-width="1.3"/>
<rect x="55.55" y="306.65" width="8.9" height="54.5" fill="#0f8a5f" stroke="#fdb300" stroke-width="1.5"/>
<line x1="60" y1="361.9" x2="60" y2="366.7" stroke="#000" stroke-width="1.3"/>
<rect x="71.65" y="279.85" width="8.9" height="81.3" fill="#0f8a5f" stroke="#fdb300" stroke-width="1.5"/>
<line x1="76.1" y1="361.9" x2="76.1" y2="366.7" stroke="#000" stroke-width="1.3"/>
<rect x="87.75" y="340.95" width="8.9" height="20.2" fill="#0f8a5f" stroke="#fdb300" stroke-width="1.5"/>
<line x1="92.2" y1="361.9" x2="92.2" y2="366.7" stroke="#000" stroke-width="1.3"/>
<rect x="103.85" y="331.95" width="8.9" height="29.2" fill="#0f8a5f" stroke="#fdb300" stroke-width="1.5"/>
<line x1="108.3" y1="361.9" x2="108.3" y2="366.7" stroke="#000" stroke-width="1.3"/>
<rect x="119.2" y="347.8" width="10.4" height="14.1" fill="#fdb300"/>
<line x1="124.4" y1="361.9" x2="124.4" y2="366.7" stroke="#000" stroke-width="1.3"/>
<rect x="136.1" y="344.3" width="8.8" height="16.8" fill="#fdb300" stroke="#157a42" stroke-width="1.6"/>
<line x1="140.5" y1="361.9" x2="140.5" y2="366.7" stroke="#000" stroke-width="1.3"/>
<rect x="152.2" y="345.6" width="8.8" height="15.5" fill="#fdb300" stroke="#157a42" stroke-width="1.6"/>
<line x1="156.6" y1="361.9" x2="156.6" y2="366.7" stroke="#000" stroke-width="1.3"/>
<rect x="168.3" y="332" width="8.8" height="29.1" fill="#fdb300" stroke="#157a42" stroke-width="1.6"/>
<line x1="172.7" y1="361.9" x2="172.7" y2="366.7" stroke="#000" stroke-width="1.3"/>
<rect x="184.4" y="318.7" width="8.8" height="42.4" fill="#fdb300" stroke="#157a42" stroke-width="1.6"/>
<line x1="188.8" y1="361.9" x2="188.8" y2="366.7" stroke="#000" stroke-width="1.3"/>
<line x1="43.9" y1="315.4" x2="43.9" y2="311.5" stroke="#000" stroke-width="0.6"/>
<line x1="42.1" y1="311.5" x2="45.7" y2="311.5" stroke="#000" stroke-width="0.6"/>
<circle cx="43.9" cy="314.1" r="1.2" fill="#000"/>
<circle cx="43.9" cy="321.8" r="1.2" fill="#000"/>
<line x1="60" y1="305.9" x2="60" y2="290.3" stroke="#000" stroke-width="0.6"/>
<line x1="58.2" y1="290.3" x2="61.8" y2="290.3" stroke="#000" stroke-width="0.6"/>
<circle cx="60" cy="297" r="1.2" fill="#000"/>
<circle cx="60" cy="317.2" r="1.2" fill="#000"/>
<circle cx="60" cy="320.7" r="1.2" fill="#000"/>
<line x1="76.1" y1="279.1" x2="76.1" y2="269.9" stroke="#000" stroke-width="0.6"/>
<line x1="74.3" y1="269.9" x2="77.9" y2="269.9" stroke="#000" stroke-width="0.6"/>
<circle cx="73.6" cy="278.3" r="1.2" fill="#000"/>
<circle cx="78.6" cy="277.6" r="1.2" fill="#000"/>
<circle cx="76.1" cy="290.3" r="1.2" fill="#000"/>
<text x="76.1" y="263.9" font-size="6.3" font-weight="normal" text-anchor="middle" fill="#000" letter-spacing="-0.3">**</text>
<line x1="92.2" y1="340.2" x2="92.2" y2="338.4" stroke="#000" stroke-width="0.6"/>
<line x1="90.4" y1="338.4" x2="94" y2="338.4" stroke="#000" stroke-width="0.6"/>
<circle cx="90.7" cy="340.2" r="1.2" fill="#000"/>
<circle cx="93.7" cy="339.5" r="1.2" fill="#000"/>
<circle cx="92.2" cy="344.8" r="1.2" fill="#000"/>
<text x="92.2" y="334.7" font-size="6.3" font-weight="normal" text-anchor="middle" fill="#000" letter-spacing="-0.3">**</text>
<line x1="108.3" y1="331.2" x2="108.3" y2="328.7" stroke="#000" stroke-width="0.6"/>
<line x1="106.5" y1="328.7" x2="110.1" y2="328.7" stroke="#000" stroke-width="0.6"/>
<circle cx="108.3" cy="329.4" r="1.2" fill="#000"/>
<circle cx="108.3" cy="336.6" r="1.2" fill="#000"/>
<text x="108.3" y="325.2" font-size="6.3" font-weight="normal" text-anchor="middle" fill="#000" letter-spacing="-0.3">*</text>
<line x1="124.4" y1="347.8" x2="124.4" y2="342.2" stroke="#000" stroke-width="0.6"/>
<line x1="122.6" y1="342.2" x2="126.2" y2="342.2" stroke="#000" stroke-width="0.6"/>
<circle cx="122.4" cy="346.8" r="1.2" fill="#000"/>
<circle cx="126.4" cy="350.4" r="1.2" fill="#000"/>
<line x1="140.5" y1="343.5" x2="140.5" y2="341.4" stroke="#000" stroke-width="0.6"/>
<line x1="138.7" y1="341.4" x2="142.3" y2="341.4" stroke="#000" stroke-width="0.6"/>
<circle cx="140.5" cy="344.2" r="1.2" fill="#000"/>
<circle cx="140.5" cy="346.8" r="1.2" fill="#000"/>
<line x1="156.6" y1="344.8" x2="156.6" y2="339.1" stroke="#000" stroke-width="0.6"/>
<line x1="154.8" y1="339.1" x2="158.4" y2="339.1" stroke="#000" stroke-width="0.6"/>
<circle cx="156.6" cy="344.8" r="1.2" fill="#000"/>
<circle cx="156.6" cy="351.1" r="1.2" fill="#000"/>
<line x1="172.7" y1="331.2" x2="172.7" y2="313.6" stroke="#000" stroke-width="0.6"/>
<line x1="170.9" y1="313.6" x2="174.5" y2="313.6" stroke="#000" stroke-width="0.6"/>
<circle cx="172.7" cy="319.7" r="1.2" fill="#000"/>
<circle cx="172.7" cy="322.3" r="1.2" fill="#000"/>
<circle cx="172.7" cy="344.2" r="1.2" fill="#000"/>
<line x1="188.8" y1="317.9" x2="188.8" y2="299.3" stroke="#000" stroke-width="0.6"/>
<line x1="187" y1="299.3" x2="190.6" y2="299.3" stroke="#000" stroke-width="0.6"/>
<circle cx="188.8" cy="305.2" r="1.2" fill="#000"/>
<circle cx="188.8" cy="308.5" r="1.2" fill="#000"/>
<circle cx="188.8" cy="329.4" r="1.2" fill="#000"/>
<text x="188.8" y="296.4" font-size="6.3" font-weight="normal" text-anchor="middle" fill="#000" letter-spacing="-0.3">*</text>
<line x1="31.9" y1="361.9" x2="201.5" y2="361.9" stroke="#000" stroke-width="1.4"/>
<text x="0" y="0" font-size="9.0" font-weight="bold" text-anchor="end" fill="#000" transform="translate(47.14,368.9) rotate(-90)">Delta</text>
<text x="0" y="0" font-size="9.0" font-weight="bold" text-anchor="end" fill="#000" transform="translate(63.24,368.9) rotate(-90)">NSP4</text>
<text x="0" y="0" font-size="9.0" font-weight="bold" text-anchor="end" fill="#000" transform="translate(79.34,368.9) rotate(-90)">NSP5</text>
<text x="0" y="0" font-size="9.0" font-weight="bold" text-anchor="end" fill="#000" transform="translate(95.44,368.9) rotate(-90)">NSP6</text>
<text x="0" y="0" font-size="9.0" font-weight="bold" text-anchor="end" fill="#000" transform="translate(111.54,368.9) rotate(-90)">NSP5+6</text>
<text x="0" y="0" font-size="9.0" font-weight="bold" text-anchor="end" fill="#000" transform="translate(127.64,368.9) rotate(-90)">Omicron</text>
<text x="0" y="0" font-size="9.0" font-weight="bold" text-anchor="end" fill="#000" transform="translate(143.74,368.9) rotate(-90)">NSP4</text>
<text x="0" y="0" font-size="9.0" font-weight="bold" text-anchor="end" fill="#000" transform="translate(159.84,368.9) rotate(-90)">NSP5</text>
<text x="0" y="0" font-size="9.0" font-weight="bold" text-anchor="end" fill="#000" transform="translate(175.94,368.9) rotate(-90)">NSP6</text>
<text x="0" y="0" font-size="9.0" font-weight="bold" text-anchor="end" fill="#000" transform="translate(192.04,368.9) rotate(-90)">NSP5+6</text>
<path d="M53.7 409.7 Q82.25 407.9 110.8 409.7 L110.8 409.9 Q82.25 411.3 53.7 409.9 Z" fill="#111"/>
<path d="M134.3 409.7 Q164.55 407.9 194.8 409.7 L194.8 409.9 Q164.55 411.3 134.3 409.9 Z" fill="#111"/>
<text x="83.9" y="421.3" font-size="9.2" font-weight="bold" text-anchor="middle" fill="#000">Delta-Omicron</text>
<text x="165.2" y="421.3" font-size="9.2" font-weight="bold" text-anchor="middle" fill="#000">Omicron-Delta</text>
<line x1="32.6" y1="250.78" x2="32.6" y2="362.6" stroke="#000" stroke-width="1.5"/>
<line x1="28.1" y1="361.9" x2="32.6" y2="361.9" stroke="#000" stroke-width="1.1"/>
<text x="26.6" y="365.1" font-size="8.8" font-weight="bold" text-anchor="end" fill="#000">0</text>
<line x1="28.1" y1="325.06" x2="32.6" y2="325.06" stroke="#000" stroke-width="1.1"/>
<text x="26.6" y="328.26" font-size="8.8" font-weight="bold" text-anchor="end" fill="#000">2</text>
<line x1="28.1" y1="288.22" x2="32.6" y2="288.22" stroke="#000" stroke-width="1.1"/>
<text x="26.6" y="291.42" font-size="8.8" font-weight="bold" text-anchor="end" fill="#000">4</text>
<line x1="28.1" y1="251.38" x2="32.6" y2="251.38" stroke="#000" stroke-width="1.1"/>
<text x="26.6" y="254.58" font-size="8.8" font-weight="bold" text-anchor="end" fill="#000">6</text>
<text x="0" y="0" font-size="12.6" font-weight="bold" text-anchor="middle" fill="#000" transform="translate(9.5,306.6) rotate(-90)">Normalized RLU</text>
<text x="1.3" y="231.8" font-size="12.5" font-weight="bold" text-anchor="start" fill="#000">C</text>
<text x="42" y="230.9" font-size="12.4" font-weight="bold" text-anchor="start" fill="#000">Transfected BHK-21 cells</text>
<rect x="288.8" y="263" width="10.4" height="99.96" fill="#0f8a5f"/>
<line x1="294" y1="362.96" x2="294" y2="367.76" stroke="#000" stroke-width="1.3"/>
<rect x="305.65" y="262.35" width="8.9" height="99.86" fill="#0f8a5f" stroke="#fdb300" stroke-width="1.5"/>
<line x1="310.1" y1="362.96" x2="310.1" y2="367.76" stroke="#000" stroke-width="1.3"/>
<rect x="321.75" y="262.35" width="8.9" height="99.86" fill="#0f8a5f" stroke="#fdb300" stroke-width="1.5"/>
<line x1="326.2" y1="362.96" x2="326.2" y2="367.76" stroke="#000" stroke-width="1.3"/>
<rect x="337.85" y="299.95" width="8.9" height="62.26" fill="#0f8a5f" stroke="#fdb300" stroke-width="1.5"/>
<line x1="342.3" y1="362.96" x2="342.3" y2="367.76" stroke="#000" stroke-width="1.3"/>
<rect x="353.95" y="281.55" width="8.9" height="80.66" fill="#0f8a5f" stroke="#fdb300" stroke-width="1.5"/>
<line x1="358.4" y1="362.96" x2="358.4" y2="367.76" stroke="#000" stroke-width="1.3"/>
<rect x="369.3" y="307.6" width="10.4" height="55.36" fill="#fdb300"/>
<line x1="374.5" y1="362.96" x2="374.5" y2="367.76" stroke="#000" stroke-width="1.3"/>
<rect x="386.2" y="311" width="8.8" height="51.16" fill="#fdb300" stroke="#157a42" stroke-width="1.6"/>
<line x1="390.6" y1="362.96" x2="390.6" y2="367.76" stroke="#000" stroke-width="1.3"/>
<rect x="402.3" y="336.5" width="8.8" height="25.66" fill="#fdb300" stroke="#157a42" stroke-width="1.6"/>
<line x1="406.7" y1="362.96" x2="406.7" y2="367.76" stroke="#000" stroke-width="1.3"/>
<rect x="418.4" y="282.1" width="8.8" height="80.06" fill="#fdb300" stroke="#157a42" stroke-width="1.6"/>
<line x1="422.8" y1="362.96" x2="422.8" y2="367.76" stroke="#000" stroke-width="1.3"/>
<rect x="434.5" y="285.4" width="8.8" height="76.76" fill="#fdb300" stroke="#157a42" stroke-width="1.6"/>
<line x1="438.9" y1="362.96" x2="438.9" y2="367.76" stroke="#000" stroke-width="1.3"/>
<circle cx="290.9" cy="262.1" r="1.2" fill="#000"/>
<circle cx="294" cy="262.1" r="1.2" fill="#000"/>
<circle cx="297.1" cy="262.1" r="1.2" fill="#000"/>
<circle cx="307" cy="260.3" r="1.2" fill="#000"/>
<circle cx="310.1" cy="260.3" r="1.2" fill="#000"/>
<circle cx="313.2" cy="260.3" r="1.2" fill="#000"/>
<circle cx="323.1" cy="260.3" r="1.2" fill="#000"/>
<circle cx="326.2" cy="260.3" r="1.2" fill="#000"/>
<circle cx="329.3" cy="260.3" r="1.2" fill="#000"/>
<line x1="342.3" y1="299.2" x2="342.3" y2="294.8" stroke="#000" stroke-width="0.6"/>
<line x1="340.5" y1="294.8" x2="344.1" y2="294.8" stroke="#000" stroke-width="0.6"/>
<circle cx="342.3" cy="296.1" r="1.2" fill="#000"/>
<circle cx="342.3" cy="298.7" r="1.2" fill="#000"/>
<circle cx="342.3" cy="308.4" r="1.2" fill="#000"/>
<text x="342.3" y="290.6" font-size="6.3" font-weight="normal" text-anchor="middle" fill="#000" letter-spacing="-0.3">****</text>
<line x1="358.4" y1="280.8" x2="358.4" y2="277.7" stroke="#000" stroke-width="0.6"/>
<line x1="356.6" y1="277.7" x2="360.2" y2="277.7" stroke="#000" stroke-width="0.6"/>
<circle cx="358.4" cy="274.9" r="1.2" fill="#000"/>
<circle cx="358.4" cy="280.8" r="1.2" fill="#000"/>
<circle cx="360.4" cy="282" r="1.2" fill="#000"/>
<text x="358.4" y="272" font-size="6.3" font-weight="normal" text-anchor="middle" fill="#000" letter-spacing="-0.3">****</text>
<circle cx="371.4" cy="306.8" r="1.2" fill="#000"/>
<circle cx="374.5" cy="306.8" r="1.2" fill="#000"/>
<circle cx="377.6" cy="306.8" r="1.2" fill="#000"/>
<line x1="390.6" y1="310.2" x2="390.6" y2="306.3" stroke="#000" stroke-width="0.6"/>
<line x1="388.8" y1="306.3" x2="392.4" y2="306.3" stroke="#000" stroke-width="0.6"/>
<circle cx="390.6" cy="305" r="1.2" fill="#000"/>
<circle cx="388.6" cy="310.2" r="1.2" fill="#000"/>
<circle cx="392.6" cy="310.9" r="1.2" fill="#000"/>
<line x1="406.7" y1="335.7" x2="406.7" y2="326.2" stroke="#000" stroke-width="0.6"/>
<line x1="404.9" y1="326.2" x2="408.5" y2="326.2" stroke="#000" stroke-width="0.6"/>
<circle cx="406.7" cy="326.2" r="1.2" fill="#000"/>
<circle cx="406.7" cy="345.4" r="1.2" fill="#000"/>
<text x="406.7" y="321.8" font-size="6.3" font-weight="normal" text-anchor="middle" fill="#000" letter-spacing="-0.3">****</text>
<circle cx="420.3" cy="278.7" r="1.2" fill="#000"/>
<circle cx="423.8" cy="280" r="1.2" fill="#000"/>
<circle cx="425.8" cy="282" r="1.2" fill="#000"/>
<text x="422.8" y="275.3" font-size="6.3" font-weight="normal" text-anchor="middle" fill="#000" letter-spacing="-0.3">***</text>
<circle cx="436.4" cy="281.3" r="1.2" fill="#000"/>
<circle cx="439.4" cy="282.8" r="1.2" fill="#000"/>
<circle cx="441.9" cy="283.8" r="1.2" fill="#000"/>
<text x="438.9" y="277.9" font-size="6.3" font-weight="normal" text-anchor="middle" fill="#000" letter-spacing="-0.3">***</text>
<line x1="282.4" y1="362.96" x2="450.5" y2="362.96" stroke="#000" stroke-width="1.4"/>
<text x="0" y="0" font-size="9.0" font-weight="bold" text-anchor="end" fill="#000" transform="translate(297.24,369.96) rotate(-90)">Delta</text>
<text x="0" y="0" font-size="9.0" font-weight="bold" text-anchor="end" fill="#000" transform="translate(313.34,369.96) rotate(-90)">NSP4</text>
<text x="0" y="0" font-size="9.0" font-weight="bold" text-anchor="end" fill="#000" transform="translate(329.44,369.96) rotate(-90)">NSP5</text>
<text x="0" y="0" font-size="9.0" font-weight="bold" text-anchor="end" fill="#000" transform="translate(345.54,369.96) rotate(-90)">NSP6</text>
<text x="0" y="0" font-size="9.0" font-weight="bold" text-anchor="end" fill="#000" transform="translate(361.64,369.96) rotate(-90)">NSP5+6</text>
<text x="0" y="0" font-size="9.0" font-weight="bold" text-anchor="end" fill="#000" transform="translate(377.74,369.96) rotate(-90)">Omicron</text>
<text x="0" y="0" font-size="9.0" font-weight="bold" text-anchor="end" fill="#000" transform="translate(393.84,369.96) rotate(-90)">NSP4</text>
<text x="0" y="0" font-size="9.0" font-weight="bold" text-anchor="end" fill="#000" transform="translate(409.94,369.96) rotate(-90)">NSP5</text>
<text x="0" y="0" font-size="9.0" font-weight="bold" text-anchor="end" fill="#000" transform="translate(426.04,369.96) rotate(-90)">NSP6</text>
<text x="0" y="0" font-size="9.0" font-weight="bold" text-anchor="end" fill="#000" transform="translate(442.14,369.96) rotate(-90)">NSP5+6</text>
<path d="M304 408.9 Q331.2 407.1 358.4 408.9 L358.4 409.1 Q331.2 410.5 304 409.1 Z" fill="#111"/>
<path d="M387.5 408.9 Q414.1 407.1 440.7 408.9 L440.7 409.1 Q414.1 410.5 387.5 409.1 Z" fill="#111"/>
<text x="333" y="419.5" font-size="9.2" font-weight="bold" text-anchor="middle" fill="#000">Delta-Omicron</text>
<text x="414.1" y="419.5" font-size="9.2" font-weight="bold" text-anchor="middle" fill="#000">Omicron-Delta</text>
<line x1="283.1" y1="252.24" x2="283.1" y2="363.66" stroke="#000" stroke-width="1.5"/>
<line x1="278.6" y1="362.96" x2="283.1" y2="362.96" stroke="#000" stroke-width="1.1"/>
<text x="277.1" y="366.16" font-size="8.8" font-weight="bold" text-anchor="end" fill="#000">0.01</text>
<line x1="278.6" y1="335.43" x2="283.1" y2="335.43" stroke="#000" stroke-width="1.1"/>
<text x="277.1" y="338.63" font-size="8.8" font-weight="bold" text-anchor="end" fill="#000">0.1</text>
<line x1="278.6" y1="307.9" x2="283.1" y2="307.9" stroke="#000" stroke-width="1.1"/>
<text x="277.1" y="311.1" font-size="8.8" font-weight="bold" text-anchor="end" fill="#000">1</text>
<line x1="278.6" y1="280.37" x2="283.1" y2="280.37" stroke="#000" stroke-width="1.1"/>
<text x="277.1" y="283.57" font-size="8.8" font-weight="bold" text-anchor="end" fill="#000">10</text>
<line x1="278.6" y1="252.84" x2="283.1" y2="252.84" stroke="#000" stroke-width="1.1"/>
<text x="277.1" y="256.04" font-size="8.8" font-weight="bold" text-anchor="end" fill="#000">100</text>
<line x1="280.7" y1="354.67" x2="283.1" y2="354.67" stroke="#000" stroke-width="0.85"/>
<line x1="280.7" y1="349.82" x2="283.1" y2="349.82" stroke="#000" stroke-width="0.85"/>
<line x1="280.7" y1="346.39" x2="283.1" y2="346.39" stroke="#000" stroke-width="0.85"/>
<line x1="280.7" y1="343.72" x2="283.1" y2="343.72" stroke="#000" stroke-width="0.85"/>
<line x1="280.7" y1="341.54" x2="283.1" y2="341.54" stroke="#000" stroke-width="0.85"/>
<line x1="280.7" y1="339.69" x2="283.1" y2="339.69" stroke="#000" stroke-width="0.85"/>
<line x1="280.7" y1="338.1" x2="283.1" y2="338.1" stroke="#000" stroke-width="0.85"/>
<line x1="280.7" y1="336.69" x2="283.1" y2="336.69" stroke="#000" stroke-width="0.85"/>
<line x1="280.7" y1="327.14" x2="283.1" y2="327.14" stroke="#000" stroke-width="0.85"/>
<line x1="280.7" y1="322.29" x2="283.1" y2="322.29" stroke="#000" stroke-width="0.85"/>
<line x1="280.7" y1="318.86" x2="283.1" y2="318.86" stroke="#000" stroke-width="0.85"/>
<line x1="280.7" y1="316.19" x2="283.1" y2="316.19" stroke="#000" stroke-width="0.85"/>
<line x1="280.7" y1="314.01" x2="283.1" y2="314.01" stroke="#000" stroke-width="0.85"/>
<line x1="280.7" y1="312.16" x2="283.1" y2="312.16" stroke="#000" stroke-width="0.85"/>
<line x1="280.7" y1="310.57" x2="283.1" y2="310.57" stroke="#000" stroke-width="0.85"/>
<line x1="280.7" y1="309.16" x2="283.1" y2="309.16" stroke="#000" stroke-width="0.85"/>
<line x1="280.7" y1="299.61" x2="283.1" y2="299.61" stroke="#000" stroke-width="0.85"/>
<line x1="280.7" y1="294.76" x2="283.1" y2="294.76" stroke="#000" stroke-width="0.85"/>
<line x1="280.7" y1="291.33" x2="283.1" y2="291.33" stroke="#000" stroke-width="0.85"/>
<line x1="280.7" y1="288.66" x2="283.1" y2="288.66" stroke="#000" stroke-width="0.85"/>
<line x1="280.7" y1="286.48" x2="283.1" y2="286.48" stroke="#000" stroke-width="0.85"/>
<line x1="280.7" y1="284.63" x2="283.1" y2="284.63" stroke="#000" stroke-width="0.85"/>
<line x1="280.7" y1="283.04" x2="283.1" y2="283.04" stroke="#000" stroke-width="0.85"/>
<line x1="280.7" y1="281.63" x2="283.1" y2="281.63" stroke="#000" stroke-width="0.85"/>
<line x1="280.7" y1="272.08" x2="283.1" y2="272.08" stroke="#000" stroke-width="0.85"/>
<line x1="280.7" y1="267.23" x2="283.1" y2="267.23" stroke="#000" stroke-width="0.85"/>
<line x1="280.7" y1="263.8" x2="283.1" y2="263.8" stroke="#000" stroke-width="0.85"/>
<line x1="280.7" y1="261.13" x2="283.1" y2="261.13" stroke="#000" stroke-width="0.85"/>
<line x1="280.7" y1="258.95" x2="283.1" y2="258.95" stroke="#000" stroke-width="0.85"/>
<line x1="280.7" y1="257.1" x2="283.1" y2="257.1" stroke="#000" stroke-width="0.85"/>
<line x1="280.7" y1="255.51" x2="283.1" y2="255.51" stroke="#000" stroke-width="0.85"/>
<line x1="280.7" y1="254.1" x2="283.1" y2="254.1" stroke="#000" stroke-width="0.85"/>
<text x="0" y="0" font-size="12.6" font-weight="bold" text-anchor="middle" fill="#000" transform="translate(253.2,306.8) rotate(-90)">Normalized RLU</text>
<text x="219.8" y="232" font-size="12.5" font-weight="bold" text-anchor="start" fill="#000">D</text>
<text x="260" y="231.6" font-size="12.4" font-weight="bold" text-anchor="start" fill="#000">Infected Vero ACE2 TMPRSS2 cells</text>
<rect x="523.1" y="280.5" width="10.4" height="82.4" fill="#0f8a5f"/>
<line x1="528.3" y1="362.9" x2="528.3" y2="367.7" stroke="#000" stroke-width="1.3"/>
<rect x="539.95" y="278.55" width="8.9" height="83.6" fill="#0f8a5f" stroke="#fdb300" stroke-width="1.5"/>
<line x1="544.4" y1="362.9" x2="544.4" y2="367.7" stroke="#000" stroke-width="1.3"/>
<rect x="556.05" y="282.95" width="8.9" height="79.2" fill="#0f8a5f" stroke="#fdb300" stroke-width="1.5"/>
<line x1="560.5" y1="362.9" x2="560.5" y2="367.7" stroke="#000" stroke-width="1.3"/>
<rect x="572.15" y="318.25" width="8.9" height="43.9" fill="#0f8a5f" stroke="#fdb300" stroke-width="1.5"/>
<line x1="576.6" y1="362.9" x2="576.6" y2="367.7" stroke="#000" stroke-width="1.3"/>
<rect x="588.25" y="303.35" width="8.9" height="58.8" fill="#0f8a5f" stroke="#fdb300" stroke-width="1.5"/>
<line x1="592.7" y1="362.9" x2="592.7" y2="367.7" stroke="#000" stroke-width="1.3"/>
<rect x="603.6" y="323.7" width="10.4" height="39.2" fill="#fdb300"/>
<line x1="608.8" y1="362.9" x2="608.8" y2="367.7" stroke="#000" stroke-width="1.3"/>
<rect x="620.5" y="326.1" width="8.8" height="36" fill="#fdb300" stroke="#157a42" stroke-width="1.6"/>
<line x1="624.9" y1="362.9" x2="624.9" y2="367.7" stroke="#000" stroke-width="1.3"/>
<rect x="636.6" y="354.8" width="8.8" height="7.3" fill="#fdb300" stroke="#157a42" stroke-width="1.6"/>
<line x1="641" y1="362.9" x2="641" y2="367.7" stroke="#000" stroke-width="1.3"/>
<rect x="652.7" y="310.2" width="8.8" height="51.9" fill="#fdb300" stroke="#157a42" stroke-width="1.6"/>
<line x1="657.1" y1="362.9" x2="657.1" y2="367.7" stroke="#000" stroke-width="1.3"/>
<rect x="668.8" y="305.4" width="8.8" height="56.7" fill="#fdb300" stroke="#157a42" stroke-width="1.6"/>
<line x1="673.2" y1="362.9" x2="673.2" y2="367.7" stroke="#000" stroke-width="1.3"/>
<circle cx="526.3" cy="277.8" r="1.2" fill="#000"/>
<circle cx="530.3" cy="279.7" r="1.2" fill="#000"/>
<circle cx="541.9" cy="273" r="1.2" fill="#000"/>
<circle cx="546.9" cy="274" r="1.2" fill="#000"/>
<circle cx="544.4" cy="276" r="1.2" fill="#000"/>
<text x="544.4" y="269.5" font-size="6.3" font-weight="normal" text-anchor="middle" fill="#000" letter-spacing="-0.3">*</text>
<line x1="560.5" y1="282.2" x2="560.5" y2="279.3" stroke="#000" stroke-width="0.6"/>
<line x1="558.7" y1="279.3" x2="562.3" y2="279.3" stroke="#000" stroke-width="0.6"/>
<circle cx="560.5" cy="275.3" r="1.2" fill="#000"/>
<circle cx="560.5" cy="281.7" r="1.2" fill="#000"/>
<circle cx="560.5" cy="283.5" r="1.2" fill="#000"/>
<line x1="576.6" y1="317.5" x2="576.6" y2="315.2" stroke="#000" stroke-width="0.6"/>
<line x1="574.8" y1="315.2" x2="578.4" y2="315.2" stroke="#000" stroke-width="0.6"/>
<circle cx="576.6" cy="315.2" r="1.2" fill="#000"/>
<circle cx="576.6" cy="319" r="1.2" fill="#000"/>
<circle cx="576.6" cy="322.7" r="1.2" fill="#000"/>
<text x="576.6" y="312.2" font-size="6.3" font-weight="normal" text-anchor="middle" fill="#000" letter-spacing="-0.3">****</text>
<circle cx="592.7" cy="299.6" r="1.2" fill="#000"/>
<circle cx="592.7" cy="304.6" r="1.2" fill="#000"/>
<circle cx="592.7" cy="309.5" r="1.2" fill="#000"/>
<text x="592.7" y="296.3" font-size="6.3" font-weight="normal" text-anchor="middle" fill="#000" letter-spacing="-0.3">***</text>
<circle cx="605.7" cy="323.7" r="1.2" fill="#000"/>
<circle cx="608.8" cy="323.7" r="1.2" fill="#000"/>
<circle cx="611.9" cy="323.7" r="1.2" fill="#000"/>
<circle cx="622.4" cy="323.9" r="1.2" fill="#000"/>
<circle cx="627.4" cy="323.9" r="1.2" fill="#000"/>
<circle cx="624.9" cy="327.4" r="1.2" fill="#000"/>
<circle cx="639" cy="350.5" r="1.2" fill="#000"/>
<circle cx="643" cy="351" r="1.2" fill="#000"/>
<circle cx="641" cy="356.7" r="1.2" fill="#000"/>
<text x="641" y="346" font-size="6.3" font-weight="normal" text-anchor="middle" fill="#000" letter-spacing="-0.3">****</text>
<circle cx="657.1" cy="307" r="1.2" fill="#000"/>
<circle cx="657.1" cy="312.8" r="1.2" fill="#000"/>
<text x="657.1" y="305" font-size="6.3" font-weight="normal" text-anchor="middle" fill="#000" letter-spacing="-0.3">**</text>
<circle cx="673.2" cy="302.1" r="1.2" fill="#000"/>
<circle cx="673.2" cy="305.8" r="1.2" fill="#000"/>
<text x="673.2" y="299.3" font-size="6.3" font-weight="normal" text-anchor="middle" fill="#000" letter-spacing="-0.3">**</text>
<line x1="516.5" y1="362.9" x2="685" y2="362.9" stroke="#000" stroke-width="1.4"/>
<text x="0" y="0" font-size="9.0" font-weight="bold" text-anchor="end" fill="#000" transform="translate(531.54,369.9) rotate(-90)">Delta</text>
<text x="0" y="0" font-size="9.0" font-weight="bold" text-anchor="end" fill="#000" transform="translate(547.64,369.9) rotate(-90)">NSP4</text>
<text x="0" y="0" font-size="9.0" font-weight="bold" text-anchor="end" fill="#000" transform="translate(563.74,369.9) rotate(-90)">NSP5</text>
<text x="0" y="0" font-size="9.0" font-weight="bold" text-anchor="end" fill="#000" transform="translate(579.84,369.9) rotate(-90)">NSP6</text>
<text x="0" y="0" font-size="9.0" font-weight="bold" text-anchor="end" fill="#000" transform="translate(595.94,369.9) rotate(-90)">NSP5+6</text>
<text x="0" y="0" font-size="9.0" font-weight="bold" text-anchor="end" fill="#000" transform="translate(612.04,369.9) rotate(-90)">Omicron</text>
<text x="0" y="0" font-size="9.0" font-weight="bold" text-anchor="end" fill="#000" transform="translate(628.14,369.9) rotate(-90)">NSP4</text>
<text x="0" y="0" font-size="9.0" font-weight="bold" text-anchor="end" fill="#000" transform="translate(644.24,369.9) rotate(-90)">NSP5</text>
<text x="0" y="0" font-size="9.0" font-weight="bold" text-anchor="end" fill="#000" transform="translate(660.34,369.9) rotate(-90)">NSP6</text>
<text x="0" y="0" font-size="9.0" font-weight="bold" text-anchor="end" fill="#000" transform="translate(676.44,369.9) rotate(-90)">NSP5+6</text>
<path d="M539 408.7 Q567.2 406.9 595.4 408.7 L595.4 408.9 Q567.2 410.3 539 408.9 Z" fill="#111"/>
<path d="M619.5 408.7 Q648.9 406.9 678.3 408.7 L678.3 408.9 Q648.9 410.3 619.5 408.9 Z" fill="#111"/>
<text x="567.8" y="419.6" font-size="9.2" font-weight="bold" text-anchor="middle" fill="#000">Delta-Omicron</text>
<text x="649" y="419.6" font-size="9.2" font-weight="bold" text-anchor="middle" fill="#000">Omicron-Delta</text>
<line x1="517.2" y1="252.2" x2="517.2" y2="363.6" stroke="#000" stroke-width="1.5"/>
<line x1="512.7" y1="362.9" x2="517.2" y2="362.9" stroke="#000" stroke-width="1.1"/>
<text x="511.2" y="366.1" font-size="8.8" font-weight="bold" text-anchor="end" fill="#000">0.1</text>
<line x1="512.7" y1="326.2" x2="517.2" y2="326.2" stroke="#000" stroke-width="1.1"/>
<text x="511.2" y="329.4" font-size="8.8" font-weight="bold" text-anchor="end" fill="#000">1</text>
<line x1="512.7" y1="289.5" x2="517.2" y2="289.5" stroke="#000" stroke-width="1.1"/>
<text x="511.2" y="292.7" font-size="8.8" font-weight="bold" text-anchor="end" fill="#000">10</text>
<line x1="512.7" y1="252.8" x2="517.2" y2="252.8" stroke="#000" stroke-width="1.1"/>
<text x="511.2" y="256" font-size="8.8" font-weight="bold" text-anchor="end" fill="#000">100</text>
<line x1="514.8" y1="351.85" x2="517.2" y2="351.85" stroke="#000" stroke-width="0.85"/>
<line x1="514.8" y1="345.39" x2="517.2" y2="345.39" stroke="#000" stroke-width="0.85"/>
<line x1="514.8" y1="340.8" x2="517.2" y2="340.8" stroke="#000" stroke-width="0.85"/>
<line x1="514.8" y1="337.25" x2="517.2" y2="337.25" stroke="#000" stroke-width="0.85"/>
<line x1="514.8" y1="334.34" x2="517.2" y2="334.34" stroke="#000" stroke-width="0.85"/>
<line x1="514.8" y1="331.88" x2="517.2" y2="331.88" stroke="#000" stroke-width="0.85"/>
<line x1="514.8" y1="329.76" x2="517.2" y2="329.76" stroke="#000" stroke-width="0.85"/>
<line x1="514.8" y1="327.88" x2="517.2" y2="327.88" stroke="#000" stroke-width="0.85"/>
<line x1="514.8" y1="315.15" x2="517.2" y2="315.15" stroke="#000" stroke-width="0.85"/>
<line x1="514.8" y1="308.69" x2="517.2" y2="308.69" stroke="#000" stroke-width="0.85"/>
<line x1="514.8" y1="304.1" x2="517.2" y2="304.1" stroke="#000" stroke-width="0.85"/>
<line x1="514.8" y1="300.55" x2="517.2" y2="300.55" stroke="#000" stroke-width="0.85"/>
<line x1="514.8" y1="297.64" x2="517.2" y2="297.64" stroke="#000" stroke-width="0.85"/>
<line x1="514.8" y1="295.18" x2="517.2" y2="295.18" stroke="#000" stroke-width="0.85"/>
<line x1="514.8" y1="293.06" x2="517.2" y2="293.06" stroke="#000" stroke-width="0.85"/>
<line x1="514.8" y1="291.18" x2="517.2" y2="291.18" stroke="#000" stroke-width="0.85"/>
<line x1="514.8" y1="278.45" x2="517.2" y2="278.45" stroke="#000" stroke-width="0.85"/>
<line x1="514.8" y1="271.99" x2="517.2" y2="271.99" stroke="#000" stroke-width="0.85"/>
<line x1="514.8" y1="267.4" x2="517.2" y2="267.4" stroke="#000" stroke-width="0.85"/>
<line x1="514.8" y1="263.85" x2="517.2" y2="263.85" stroke="#000" stroke-width="0.85"/>
<line x1="514.8" y1="260.94" x2="517.2" y2="260.94" stroke="#000" stroke-width="0.85"/>
<line x1="514.8" y1="258.48" x2="517.2" y2="258.48" stroke="#000" stroke-width="0.85"/>
<line x1="514.8" y1="256.36" x2="517.2" y2="256.36" stroke="#000" stroke-width="0.85"/>
<line x1="514.8" y1="254.48" x2="517.2" y2="254.48" stroke="#000" stroke-width="0.85"/>
<text x="0" y="0" font-size="12.6" font-weight="bold" text-anchor="middle" fill="#000" transform="translate(489.3,307.2) rotate(-90)">Normalized RLU</text>
<text x="541.2" y="231.8" font-size="12.65" font-weight="bold" text-anchor="start" fill="#000">Infected Calu3 cells</text>
</svg>
</body></html>
